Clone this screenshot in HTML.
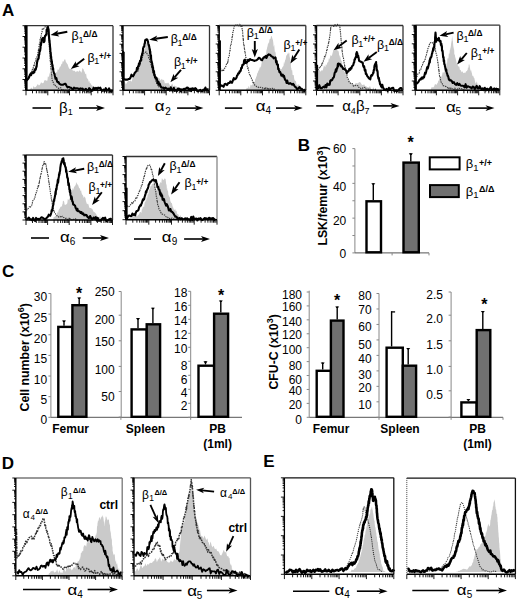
<!DOCTYPE html>
<html><head><meta charset="utf-8"><style>
html,body{margin:0;padding:0;background:#fff;}
svg{display:block;}
text{font-family:"Liberation Sans", sans-serif;fill:#000;}
</style></head><body>
<svg width="520" height="602" viewBox="0 0 520 602">
<rect width="520" height="602" fill="#fff"/>
<text x="2" y="16" font-size="17" font-weight="bold">A</text>
<text x="297.8" y="151" font-size="17" font-weight="bold">B</text>
<text x="2" y="277.3" font-size="17" font-weight="bold">C</text>
<text x="1.8" y="468.8" font-size="17" font-weight="bold">D</text>
<text x="263.2" y="466.8" font-size="17" font-weight="bold">E</text>
<polygon points="29.31,90.5 29.3,90.1 30.4,88.8 31.4,87.5 32.5,89.2 33.6,86.1 34.6,87.5 35.7,87.1 36.7,85.8 37.8,83.9 38.9,85.4 39.9,84.8 41.1,82.2 42.3,83.3 43.5,83.0 44.3,80.5 45.2,79.9 46.1,80.7 47.0,80.4 47.4,80.8 47.8,76.7 48.1,76.1 48.5,76.9 48.9,77.3 49.3,74.7 49.7,73.3 50.2,72.0 50.8,73.6 51.4,70.7 51.9,69.8 52.3,74.4 52.8,73.0 53.2,75.1 54.1,72.9 55.0,72.2 55.8,73.3 56.4,71.6 57.0,72.9 57.6,69.3 58.2,70.1 58.8,69.5 59.4,68.0 60.0,66.6 60.7,66.4 61.4,63.4 62.0,64.5 62.6,61.5 63.1,61.0 63.6,62.1 64.2,59.9 64.7,59.2 65.3,59.5 65.9,61.9 66.5,62.7 67.1,63.7 67.6,64.2 68.2,66.2 69.1,68.4 70.0,68.9 70.9,68.9 71.8,68.3 72.7,70.4 73.5,70.7 74.7,70.8 75.9,72.3 77.1,70.7 78.3,72.0 79.4,70.3 80.6,71.5 81.5,72.8 82.4,68.1 83.3,68.9 83.7,69.6 84.2,72.2 84.6,70.7 85.0,73.3 85.6,74.3 86.1,73.4 86.6,77.2 87.2,78.7 87.7,78.6 88.2,79.8 88.8,82.0 89.3,80.5 89.8,83.0 90.3,83.0 91.0,84.3 91.7,85.2 92.3,85.5 93.0,86.6 93.9,88.7 94.8,89.9 95.7,88.5 96.5,89.2 97.7,90.2 98.9,87.9 100.1,90.1 100.08,90.5" fill="#cacaca"/>
<polyline points="26.7,78.6 27.3,78.3 28.0,77.2 28.6,77.2 29.3,75.1 29.9,75.0 30.5,72.7 31.1,72.1 31.7,72.0 32.3,69.4 32.8,69.8 33.1,68.7 33.4,66.9 33.7,65.8 34.0,64.7 34.3,65.6 34.6,62.9 34.9,62.2 35.2,61.6 35.5,60.9 35.8,60.9 36.1,57.9 36.4,57.8 36.7,57.1 37.0,57.0 37.3,55.9 37.6,55.0 37.9,52.5 38.2,52.1 38.3,50.9 38.5,49.7 38.7,50.1 38.8,49.3 39.0,46.2 39.1,45.3 39.3,44.4 39.5,43.4 39.6,43.1 39.8,42.4 40.0,40.5 40.1,38.8 40.3,38.9 40.5,37.8 40.6,37.3 40.8,36.2 41.1,36.3 41.3,34.6 41.6,33.2 41.8,32.4 42.1,31.6 42.3,28.9 42.6,29.1 43.5,29.2 44.3,27.3 46.1,26.4 47.0,27.3 47.3,29.2 47.6,30.6 47.9,30.8 48.0,32.7 48.1,32.8 48.2,33.9 48.3,34.2 48.4,36.7 48.5,36.3 48.7,37.5 48.8,39.7 48.8,40.0 48.9,40.9 49.0,42.4 49.1,42.7 49.1,43.6 49.2,45.0 49.3,45.9 49.4,47.6 49.4,47.7 49.5,51.0 49.6,51.3 49.7,52.1 49.7,52.2 49.8,53.5 49.9,54.8 49.9,55.9 50.0,56.3 50.1,59.2 50.2,60.6 50.2,60.2 50.3,61.3 50.4,61.3 50.5,62.4 50.5,64.5 50.6,65.2 50.8,66.1 50.9,68.6 51.0,68.0 51.1,68.8 51.2,72.3 51.3,72.3 51.4,73.3 51.6,73.4 51.7,75.4 51.8,75.1 51.9,77.4 52.1,79.6 52.2,80.3 52.3,80.4 52.8,82.0 53.2,82.0 53.6,83.4 54.1,84.8 55.0,84.6 55.8,86.8 56.7,86.9 57.6,87.5 58.7,88.5 59.7,87.7 60.8,87.8 61.9,89.7 62.9,89.2 63.9,90.6 64.9,90.4 66.0,90.4 67.0,90.6 68.0,90.5 69.0,89.3 70.0,90.1" fill="none" stroke="#3a3a3a" stroke-width="1.1" stroke-linejoin="round" opacity="1" stroke-dasharray="1.4,0.9"/>
<polyline points="26.7,80.4 27.5,79.6 28.4,78.6 29.1,77.2 29.8,75.0 30.4,74.1 31.1,75.1 31.7,73.3 32.4,72.3 33.1,73.2 33.7,71.5 34.3,72.3 34.8,69.2 35.3,70.1 35.9,69.2 36.4,66.2 36.6,67.0 36.9,63.7 37.1,62.1 37.4,61.1 37.6,60.0 37.9,59.0 38.2,59.2 38.4,58.7 38.5,58.8 38.7,57.6 38.9,55.1 39.1,54.9 39.3,54.5 39.5,50.6 39.7,51.9 39.9,50.3 40.1,50.9 40.3,49.3 40.5,48.1 40.6,46.0 40.8,43.7 41.0,45.1 41.2,42.2 41.3,43.0 41.5,42.6 41.7,39.7 42.4,38.4 43.1,37.9 43.5,38.7 43.9,42.1 44.3,41.5 44.5,41.3 44.7,38.0 44.9,36.8 45.1,35.8 45.2,36.2 46.1,34.4 46.3,34.9 46.5,33.5 46.6,29.8 46.8,31.4 47.0,29.1 47.4,29.7 47.9,26.4 48.0,28.1 48.2,27.9 48.3,29.7 48.5,29.1 48.6,29.6 48.8,32.6 48.9,35.6 48.9,35.3 49.0,35.9 49.1,38.6 49.2,37.7 49.3,40.5 49.4,41.4 49.5,40.0 49.6,41.2 49.7,43.2 49.8,43.5 49.9,44.4 50.0,46.9 50.1,46.7 50.2,48.4 50.3,48.4 50.4,52.6 50.5,52.1 50.7,52.5 50.8,53.9 50.9,55.4 51.0,57.7 51.2,56.8 51.3,59.8 51.4,59.2 51.6,60.2 51.7,61.3 51.8,62.3 51.9,61.3 52.1,64.0 52.2,64.0 52.3,66.2 52.6,65.3 52.8,69.5 53.1,68.0 53.3,70.2 53.6,72.2 53.8,72.5 54.1,73.3 54.4,73.7 54.8,75.5 55.1,76.7 55.5,78.7 55.8,78.6 56.4,78.2 57.0,81.2 57.6,82.2 58.5,82.0 59.4,83.9 61.2,84.8 62.9,84.8 64.7,83.9 65.6,83.9 66.5,85.7 67.6,87.4 68.8,86.9 70.0,87.5 71.0,87.8 72.0,88.8 73.0,89.5 74.0,87.7 75.1,88.5 76.1,88.2 77.1,88.3 78.2,88.5 79.3,89.3 80.4,88.4 81.5,88.7 82.6,88.6 83.7,90.5 84.8,89.6 85.9,88.9 87.0,90.4 88.1,90.7 89.2,88.1 90.3,89.3 91.5,90.9 92.6,90.5 93.7,87.7 94.8,89.2 95.9,87.8 97.0,89.1 98.1,87.7 99.2,88.4 100.3,87.7 101.4,90.2 102.5,90.7 103.6,89.6 104.7,91.2 105.8,88.2 106.9,90.5 108.0,90.3 109.1,88.3 110.3,91.3 111.4,91.6 112.5,89.8" fill="none" stroke="#000" stroke-width="2.1" stroke-linejoin="round" opacity="1"/>
<polygon points="123.54,90.5 123.5,83.0 124.7,81.5 125.9,84.4 127.1,82.2 128.3,81.1 129.4,80.9 130.6,80.4 131.3,81.8 132.0,80.4 132.7,76.8 133.4,77.3 134.2,76.8 134.7,75.9 135.2,74.1 135.7,72.5 136.2,72.0 136.7,72.8 137.2,68.7 137.7,69.8 138.1,69.0 138.5,67.5 138.8,64.6 139.2,65.0 139.6,65.3 140.0,63.8 140.3,62.7 140.7,59.7 141.1,62.7 141.4,60.8 141.8,60.5 142.1,57.4 142.6,54.5 143.0,54.1 143.4,52.0 143.9,53.0 144.1,53.2 144.3,50.0 144.5,48.3 144.8,48.6 145.0,49.8 145.2,48.4 145.4,44.9 145.7,45.0 145.9,42.3 146.2,44.5 146.5,41.5 147.4,43.2 147.8,44.6 148.1,46.2 148.5,44.6 148.8,45.5 149.2,48.5 149.4,50.4 149.6,50.2 149.8,49.6 150.0,54.4 150.2,54.0 150.4,55.8 150.6,53.6 150.8,58.0 151.0,57.4 151.2,56.5 151.4,60.9 151.6,60.1 151.7,60.6 151.9,62.5 152.1,65.2 152.3,63.2 152.5,63.6 152.7,66.2 153.0,67.4 153.2,67.1 153.5,67.5 153.7,68.8 154.0,69.3 154.2,71.0 154.5,73.3 155.0,73.4 155.6,74.2 156.1,77.1 156.6,75.9 157.2,77.7 158.0,78.4 158.9,77.6 159.8,79.0 160.7,80.4 161.8,78.8 162.8,80.3 163.9,79.8 164.9,83.5 166.0,83.0 167.1,83.6 168.1,82.4 169.2,84.0 170.2,86.4 171.3,84.8 172.4,83.4 173.4,86.9 174.5,85.6 175.6,86.2 176.6,86.6 177.7,88.4 178.7,86.8 179.8,87.7 180.9,88.8 181.9,88.3 183.0,90.5 184.0,88.2 185.1,90.5 186.2,90.2 187.2,89.6 187.23,90.5" fill="#cacaca"/>
<polyline points="137.7,71.5 138.0,70.9 138.3,69.4 138.7,68.2 139.0,66.5 139.3,65.8 139.6,64.6 139.9,65.4 140.3,63.2 140.6,62.0 140.9,60.8 141.2,60.9 141.6,60.8 141.9,59.9 142.2,58.4 142.6,56.4 142.9,55.3 143.2,54.4 143.6,53.9 143.9,53.0 145.7,52.1 146.3,52.1 147.0,53.7 147.6,54.1 148.3,55.6 148.6,57.8 148.9,58.8 149.2,58.7 149.5,58.9 149.8,61.7 150.1,61.0 150.4,62.1 150.7,62.2 151.0,64.5 151.2,65.2 151.5,66.5 151.8,67.7 152.0,67.9 152.3,69.8 152.6,69.5 152.8,71.3 153.1,71.9 153.4,73.8 153.6,75.1 154.0,74.9 154.4,75.9 154.8,77.6 155.1,78.4 155.5,80.4 155.9,81.2 156.3,82.2 156.8,83.7 157.3,84.3 157.9,85.4 158.4,86.7 158.9,86.6 159.8,86.9 160.7,87.3 161.6,89.6 162.5,88.9" fill="none" stroke="#3a3a3a" stroke-width="1.1" stroke-linejoin="round" opacity="1" stroke-dasharray="1.4,0.9"/>
<polyline points="123.2,52.1 123.2,51.7 123.2,55.0 123.2,55.7 123.2,54.3 123.2,58.5 123.2,59.8 123.2,59.7 123.2,61.2 123.2,62.5 123.2,60.8 123.2,63.4 123.2,64.3 123.2,66.7 123.2,67.6 123.2,68.7 123.2,68.7 123.2,71.0 123.2,71.2 123.2,72.2 123.2,71.4 123.2,71.6 123.2,73.1 123.2,75.0 123.2,75.0 123.2,78.9 123.2,78.6 124.2,79.1 125.2,79.7 126.2,79.5 127.5,79.7 128.8,79.0 129.7,78.9 130.6,77.4 131.5,74.7 132.4,76.0 133.1,76.3 133.8,75.2 134.5,73.3 135.2,72.6 135.9,71.5 136.5,71.1 137.0,67.7 137.5,69.3 138.0,66.3 138.6,66.2 138.9,63.5 139.3,63.2 139.6,64.0 140.0,60.8 140.3,60.9 140.6,60.9 140.9,60.8 141.1,57.9 141.4,56.4 141.6,55.8 141.9,55.6 142.1,53.8 142.4,53.9 142.6,52.3 142.9,51.4 143.1,48.1 143.4,47.4 143.6,46.8 143.9,46.8 144.2,46.7 144.5,43.9 144.8,43.9 145.1,40.7 145.4,39.9 145.7,40.6 146.5,39.2 147.2,39.4 148.0,41.5 148.2,43.2 148.5,44.4 148.7,45.3 148.9,44.9 149.2,46.8 149.4,47.8 149.5,48.7 149.7,49.7 149.9,49.3 150.1,53.4 150.3,51.6 150.4,53.8 150.6,56.9 150.8,57.8 151.0,55.2 151.1,58.1 151.3,60.7 151.5,62.4 151.7,61.4 151.8,62.7 152.0,62.8 152.2,63.5 152.4,67.4 152.6,65.5 152.8,67.9 153.0,67.2 153.2,69.7 153.4,72.4 153.6,71.5 154.0,71.1 154.3,74.9 154.7,74.8 155.0,77.3 155.4,76.8 156.0,78.8 156.6,78.1 157.2,80.4 157.6,83.1 158.0,82.5 158.5,81.8 158.9,84.8 159.8,83.7 160.7,86.5 161.6,87.5 162.5,87.7 163.3,87.6 164.2,88.9 165.4,87.6 166.6,88.5 167.8,89.2 168.8,88.5 169.8,90.6 170.8,87.3 171.8,90.3 172.8,90.7 173.8,87.8 174.8,91.0 175.9,90.2 176.9,91.0 177.9,88.5 178.9,88.9 179.9,89.0 180.9,91.4 181.9,89.4 182.9,89.8 184.0,88.9 185.0,89.1 186.0,88.5 187.0,87.6 188.0,87.8 189.1,90.7 190.1,88.6 191.1,91.2 192.1,88.4 193.2,88.5 194.2,89.5 195.2,88.2 196.2,88.9 197.2,91.2 198.3,90.9 199.3,90.7 200.3,89.9 201.3,91.1 202.3,91.2 203.4,89.6 204.4,90.3 205.4,87.6 206.4,90.3 207.4,89.2 208.5,89.4" fill="none" stroke="#000" stroke-width="2.1" stroke-linejoin="round" opacity="1"/>
<polygon points="243.54,90.5 243.5,89.8 244.6,90.5 245.8,89.7 246.9,87.8 248.0,88.3 248.8,85.7 249.7,88.8 250.6,84.6 251.5,85.4 252.4,84.8 252.9,83.2 253.4,82.2 254.0,83.2 254.5,83.4 255.0,80.4 255.4,78.3 255.8,79.1 256.2,76.5 256.6,76.6 256.9,74.9 257.3,72.9 257.7,73.3 258.1,70.8 258.5,70.0 258.8,72.1 259.2,69.3 259.6,67.0 260.0,69.0 260.3,66.2 260.9,67.4 261.4,63.9 261.9,61.5 262.5,60.6 263.0,60.9 263.4,58.1 263.8,58.2 264.1,56.1 264.5,55.7 264.9,54.8 265.3,55.2 265.7,53.8 265.9,54.5 266.2,52.9 266.4,50.4 266.7,49.4 266.9,48.9 267.2,47.2 267.4,46.8 267.8,45.0 268.1,42.7 268.5,42.6 268.8,44.6 269.2,41.5 269.5,38.8 269.9,39.4 270.3,38.8 270.6,38.8 271.0,36.2 271.6,36.1 272.1,37.5 272.7,39.7 272.9,39.6 273.1,41.2 273.3,42.4 273.5,45.6 273.7,46.1 273.9,47.2 274.1,44.5 274.3,45.5 274.5,48.5 274.7,50.4 274.9,52.2 275.1,51.4 275.3,52.9 275.5,51.3 275.7,54.0 275.9,57.3 276.1,57.8 276.3,57.4 276.5,59.9 276.7,61.4 276.9,59.2 277.1,59.6 277.3,60.8 277.5,63.4 277.6,65.1 277.8,67.2 278.0,66.2 278.9,68.1 279.8,68.6 280.7,68.9 281.6,69.2 282.5,66.9 283.3,66.2 283.6,65.4 283.9,62.1 284.2,64.4 284.5,60.9 284.8,62.9 285.1,60.0 285.6,59.6 286.0,57.0 286.4,55.1 286.9,55.6 287.5,53.3 288.1,53.9 288.7,52.1 288.9,54.0 289.2,52.5 289.4,53.4 289.6,56.4 289.9,57.4 290.0,58.8 290.2,59.0 290.3,59.4 290.5,62.1 290.6,60.5 290.7,62.9 290.9,64.6 291.0,67.9 291.2,67.6 291.3,68.0 291.6,70.7 291.8,69.9 292.1,69.9 292.3,70.9 292.6,75.1 292.8,75.0 293.1,75.1 293.4,75.3 293.8,75.1 294.1,78.3 294.5,80.1 294.8,80.4 295.4,80.9 295.9,81.1 296.4,83.8 297.0,85.8 297.5,84.8 298.4,84.5 299.3,84.5 300.2,87.5 301.0,87.3 301.9,88.3 302.8,90.0 303.7,89.8 303.69,90.5" fill="#cacaca"/>
<polyline points="219.7,66.2 220.2,66.5 220.7,69.1 221.2,70.0 221.8,70.5 222.3,71.5 223.0,69.9 223.6,71.0 224.3,68.4 225.0,68.0 225.5,67.8 226.0,65.2 226.6,64.1 227.1,64.4 227.6,62.7 227.8,61.2 228.0,61.9 228.2,59.7 228.4,57.9 228.6,57.1 228.8,56.6 229.0,56.2 229.2,56.0 229.4,53.8 229.6,51.9 229.7,51.4 229.9,49.9 230.1,50.8 230.3,47.6 230.4,46.3 230.6,45.3 230.8,45.1 231.0,45.3 231.2,43.2 231.3,43.2 231.5,41.7 231.7,41.3 231.9,40.1 232.0,37.5 232.2,36.0 232.4,36.9 232.6,35.4 232.7,32.5 232.9,32.6 233.2,32.0 233.4,30.3 233.7,29.3 233.9,28.1 234.2,26.7 234.4,25.3 234.7,25.5 235.6,25.2 236.6,24.6 237.6,24.8 238.7,26.4 239.7,24.2 240.7,26.4 241.8,25.2 241.9,25.5 242.0,26.9 242.1,29.2 242.3,30.3 242.4,30.3 242.5,30.4 242.7,32.6 242.7,33.6 242.8,34.4 242.9,36.9 243.0,36.1 243.1,37.6 243.2,40.0 243.3,38.8 243.4,40.9 243.5,43.0 243.5,43.2 243.7,45.0 243.9,44.2 244.1,45.2 244.2,46.3 244.4,49.6 244.6,49.0 244.8,51.3 245.0,52.8 245.1,52.4 245.3,53.8 245.5,54.3 245.7,57.2 245.8,57.3 246.0,57.5 246.2,59.7 246.4,59.7 246.5,60.7 246.7,61.0 246.9,64.1 247.1,64.5 247.3,66.6 247.6,66.8 247.8,68.6 248.1,67.3 248.3,68.8 248.6,70.5 248.8,71.5 249.2,73.8 249.6,74.8 249.9,74.4 250.3,75.1 250.6,76.8 251.2,77.8 251.8,79.2 252.4,80.4 253.0,82.7 253.6,81.9 254.2,83.9 255.0,85.4 255.9,85.9 256.8,86.8 257.7,86.6 258.8,87.6 259.8,87.6 260.9,87.2 261.9,87.5 263.0,88.3 264.0,88.1 265.0,89.3 266.0,87.6 267.0,88.1 268.1,89.6 269.1,88.4 270.1,89.2 271.2,88.2 272.3,88.2 273.4,89.6 274.5,89.0 275.6,90.8 276.7,90.6 277.8,91.0 278.9,89.8" fill="none" stroke="#3a3a3a" stroke-width="1.1" stroke-linejoin="round" opacity="1" stroke-dasharray="1.4,0.9"/>
<polyline points="219.7,40.6 219.7,40.6 219.7,40.9 219.7,42.0 219.7,44.6 219.7,46.5 219.7,46.4 219.7,46.6 219.7,48.3 219.7,50.1 219.7,51.4 219.7,52.7 219.7,54.1 219.7,54.3 219.7,53.2 219.7,57.1 219.7,55.9 219.7,58.0 219.7,58.2 219.7,60.7 219.7,59.5 219.7,60.7 219.7,61.7 219.7,62.4 219.7,66.3 219.7,66.1 219.7,66.1 219.7,67.4 219.7,70.8 219.7,69.8 219.7,69.7 219.7,73.1 219.7,73.4 219.7,75.8 219.7,73.3 219.7,75.8 219.7,78.1 219.7,79.2 219.7,80.5 219.7,78.1 219.7,80.1 219.7,80.4 219.7,81.7 219.7,83.9 220.5,86.4 221.4,85.4 222.3,85.7 223.5,86.8 224.7,84.0 225.8,83.9 227.0,85.1 228.2,83.1 229.4,83.0 230.3,81.4 231.2,82.8 232.0,82.8 232.9,80.4 233.8,78.1 234.7,79.4 235.6,78.9 236.5,77.7 237.0,75.7 237.5,75.4 238.1,73.6 238.6,73.0 239.1,73.3 239.6,71.3 240.2,71.6 240.7,70.7 241.2,67.9 241.8,68.0 242.4,64.9 242.9,65.0 243.5,64.5 243.8,64.1 244.0,61.0 244.2,60.4 244.4,60.0 245.0,59.7 245.6,63.0 246.2,62.7 247.1,62.3 248.0,59.8 248.8,60.9 250.0,59.0 251.2,59.9 252.4,60.0 254.2,60.9 255.3,60.5 256.5,60.3 257.7,59.2 258.9,57.8 260.1,58.4 261.2,60.0 262.1,60.2 263.0,58.4 263.9,57.2 264.8,57.4 265.7,56.0 266.5,58.0 267.4,55.6 268.8,54.4 270.1,54.7 271.0,55.9 271.8,56.5 272.7,56.8 273.6,58.3 275.4,57.4 275.6,58.1 275.9,60.9 276.1,62.4 276.4,60.9 276.7,61.2 276.9,64.4 277.2,64.5 277.5,64.3 277.9,64.6 278.2,69.3 278.6,68.4 278.9,69.8 279.5,72.2 280.1,71.8 280.7,73.3 281.4,75.7 282.0,74.9 282.7,74.6 283.3,76.8 284.0,75.8 284.7,78.8 285.3,80.1 286.0,80.4 286.6,82.9 287.2,80.5 287.8,83.0 289.0,83.8 290.1,83.1 291.3,83.9 292.2,84.6 293.1,83.8 294.0,85.0 294.8,86.6 296.0,87.3 297.2,89.5 298.4,88.3 299.6,87.0 300.7,88.7 301.9,88.9 303.1,90.2 304.3,91.0 305.5,89.2" fill="none" stroke="#000" stroke-width="2.1" stroke-linejoin="round" opacity="1"/>
<polygon points="317.54,90.5 317.5,73.3 318.1,70.8 318.7,69.3 319.3,69.8 320.6,71.7 322.0,69.8 322.6,71.0 323.3,67.9 324.0,65.2 324.6,66.2 325.3,67.2 325.9,64.0 326.6,65.4 327.3,62.7 327.8,62.2 328.3,62.0 328.9,58.0 329.4,59.7 329.9,57.4 330.5,55.3 331.0,55.2 331.5,56.3 332.0,55.3 332.6,53.0 333.2,50.7 333.8,50.0 334.3,50.3 335.2,49.0 336.1,48.5 336.7,49.5 337.3,49.8 337.9,51.2 338.3,50.6 338.8,52.3 339.2,55.5 339.7,55.6 340.0,58.4 340.4,55.7 340.7,59.1 341.1,61.0 341.4,60.9 341.7,59.9 341.9,64.4 342.2,62.3 342.4,65.4 342.7,66.2 342.9,67.5 343.2,68.0 343.6,68.2 344.0,69.7 344.3,71.4 344.7,71.7 345.1,73.8 345.5,73.8 345.8,75.1 346.4,75.9 346.9,75.1 347.4,78.8 348.0,79.3 348.5,80.4 349.4,80.1 350.3,83.3 351.2,83.0 352.3,84.9 353.5,84.0 354.7,84.8 355.9,82.8 357.1,83.5 358.2,83.0 359.4,81.9 360.6,82.6 361.8,84.8 363.0,85.1 364.1,84.2 365.3,86.6 366.5,86.6 367.7,87.2 368.8,87.5 370.0,85.9 371.2,89.0 372.4,88.9 373.6,87.3 374.7,90.5 375.9,89.8 375.92,90.5" fill="#cacaca"/>
<polyline points="317.5,69.8 318.2,69.8 319.0,68.4 319.7,66.5 320.4,67.0 321.1,66.2 321.5,64.9 321.8,65.4 322.2,62.3 322.6,63.1 323.0,62.5 323.4,60.8 323.7,59.2 324.1,59.0 324.5,56.3 324.9,57.4 325.2,55.1 325.6,55.3 326.0,54.2 326.4,52.1 326.6,50.2 326.9,50.8 327.1,50.2 327.4,46.9 327.6,46.6 327.9,46.7 328.2,45.0 328.4,43.1 328.5,44.1 328.7,41.5 328.9,41.9 329.1,39.2 329.3,39.1 329.5,39.2 329.7,36.4 329.9,36.2 330.0,34.4 330.1,34.0 330.3,32.4 330.4,30.5 330.5,29.8 330.6,28.6 330.7,29.5 330.8,27.3 331.7,25.5 332.8,26.0 334.0,26.5 335.1,24.5 336.2,26.1 337.4,24.3 338.5,25.3 339.7,25.2 339.8,26.6 339.9,26.9 340.0,29.3 340.2,29.6 340.3,30.7 340.4,32.5 340.5,32.6 340.6,32.6 340.7,36.0 340.8,36.1 340.9,36.6 341.0,38.7 341.1,38.4 341.2,41.3 341.2,41.3 341.3,41.8 341.4,43.2 341.5,45.0 341.6,45.3 341.8,45.7 341.9,48.3 342.0,47.6 342.1,50.7 342.2,50.3 342.3,52.1 342.5,53.5 342.7,55.5 342.8,55.5 343.0,56.7 343.2,56.9 343.4,57.2 343.5,58.3 343.7,59.7 343.9,61.9 344.1,62.7 344.3,63.5 344.5,64.7 344.7,66.7 344.9,65.7 345.1,66.9 345.3,69.0 345.5,68.3 345.7,69.3 345.8,71.5 346.1,72.2 346.4,72.5 346.6,74.2 346.9,74.9 347.1,76.8 347.4,77.8 347.6,78.6 348.2,79.0 348.8,81.3 349.4,82.2 350.3,83.0 351.2,83.9 352.3,83.6 353.5,86.2 354.7,85.7 355.8,85.4 356.8,85.5 357.9,85.7 358.9,87.5 360.0,87.5 361.0,88.6 362.0,88.6 363.0,87.8 364.0,87.7 365.1,87.2 366.1,89.1 367.1,88.9 368.2,89.2 369.3,88.7 370.4,89.6 371.5,89.2 372.6,90.6 373.7,90.1 374.8,89.0 375.9,89.8" fill="none" stroke="#3a3a3a" stroke-width="1.1" stroke-linejoin="round" opacity="1" stroke-dasharray="1.4,0.9"/>
<polyline points="317.5,85.7 318.4,88.0 319.3,85.2 320.2,87.8 321.1,88.3 322.3,87.7 323.4,86.7 324.6,87.5 325.5,85.0 326.4,87.3 327.3,83.5 328.2,84.8 328.9,84.1 329.6,84.8 330.3,80.7 331.0,80.1 331.7,80.4 332.2,79.8 332.8,78.3 333.3,77.8 333.8,77.4 334.3,75.1 334.7,72.8 335.1,72.3 335.5,71.2 335.9,69.2 336.2,71.6 336.6,70.1 337.0,68.0 337.4,67.8 337.9,63.8 338.3,66.1 338.8,63.6 340.5,64.5 341.1,66.3 341.7,66.1 342.3,67.1 343.2,69.0 344.1,68.7 345.0,69.8 345.6,69.9 346.1,70.6 346.7,73.3 347.6,71.4 348.5,71.5 349.4,68.8 350.3,69.8 350.9,67.9 351.4,68.4 352.0,66.2 352.6,65.8 353.2,65.3 353.8,62.7 354.2,62.5 354.5,59.6 354.9,59.7 355.2,58.2 355.6,57.4 355.8,57.5 356.1,55.4 356.3,53.3 356.6,53.7 356.8,52.1 357.1,55.0 357.3,53.2 357.6,56.9 357.9,56.5 358.2,55.7 358.5,57.8 358.8,58.8 359.1,60.9 360.9,61.8 362.7,62.7 363.0,64.7 363.4,66.6 363.7,66.9 364.1,66.2 364.4,68.0 364.8,70.6 365.1,69.4 365.5,70.1 365.8,73.9 366.2,73.3 366.8,75.0 367.4,76.4 368.0,76.8 368.8,78.4 369.7,78.6 370.3,79.4 370.9,76.1 371.5,75.1 372.1,75.6 372.7,74.1 373.3,72.4 373.5,72.9 373.7,70.2 373.9,70.3 374.2,68.7 374.4,66.7 374.6,65.3 374.8,65.9 375.0,64.5 375.9,62.7 376.1,62.0 376.2,66.4 376.3,64.3 376.4,64.8 376.6,66.2 376.7,70.5 376.8,69.8 377.0,70.1 377.2,70.3 377.4,70.8 377.6,71.9 377.8,75.5 378.0,76.2 378.2,77.4 378.4,78.6 378.6,78.6 378.9,77.9 379.3,81.1 379.6,81.3 380.0,84.1 380.3,83.9 381.0,86.1 381.7,87.3 382.3,84.8 383.0,87.5 384.2,89.4 385.4,90.1 386.5,88.9 387.7,90.9 388.9,87.8 390.1,89.6 391.1,88.4 392.1,88.1 393.2,87.8 394.2,91.0 395.2,90.9 396.3,90.2 397.3,91.0 398.3,90.2 399.4,88.9 400.4,88.1 401.4,88.1 402.5,89.8" fill="none" stroke="#000" stroke-width="2.1" stroke-linejoin="round" opacity="1"/>
<polygon points="429.69,90.5 429.7,89.8 430.6,90.3 431.5,87.3 432.3,87.2 433.2,87.5 434.1,86.5 435.0,84.0 435.9,84.4 436.8,84.8 437.2,82.8 437.7,83.7 438.1,81.1 438.5,79.9 439.0,81.7 439.4,78.6 440.1,77.7 440.8,78.4 441.4,76.5 442.1,75.1 442.6,72.1 443.1,72.9 443.7,72.1 444.2,72.7 444.7,70.7 445.0,68.9 445.3,69.5 445.6,67.7 445.9,65.3 446.2,67.1 446.5,64.5 446.8,61.7 447.0,63.8 447.3,60.0 447.5,58.2 447.8,58.1 448.0,59.6 448.3,57.4 448.5,58.5 448.8,53.2 449.0,54.3 449.3,53.3 449.5,53.6 449.8,49.9 450.0,50.3 450.2,49.3 450.4,47.6 450.6,48.7 450.7,45.2 450.9,47.2 451.1,43.3 451.3,43.2 451.4,41.0 451.6,42.1 451.7,40.2 451.9,37.5 452.0,38.8 452.2,35.3 452.3,36.2 452.5,38.5 452.6,39.2 452.7,40.7 452.8,41.1 452.9,41.0 453.0,42.4 453.1,43.4 453.2,45.0 453.4,47.8 453.5,45.4 453.7,50.0 453.8,47.3 454.0,49.2 454.2,50.6 454.3,54.5 454.5,53.8 454.7,54.9 455.0,55.3 455.2,58.6 455.5,56.7 455.7,58.7 456.0,60.1 456.2,60.9 456.6,63.1 456.9,64.2 457.3,64.8 457.6,64.5 458.0,66.2 458.7,66.4 459.3,66.5 460.0,70.4 460.7,69.8 461.3,71.4 462.0,72.6 462.6,71.0 463.3,73.3 464.2,72.5 465.1,73.3 466.0,71.5 466.8,71.0 467.7,69.8 468.0,67.1 468.2,67.5 468.5,68.3 468.7,64.4 469.0,64.5 469.3,64.3 469.7,65.9 470.0,68.0 470.3,69.9 470.6,71.5 470.9,69.5 471.2,70.5 471.5,71.9 471.9,73.3 472.2,75.1 472.7,76.2 473.2,75.7 473.7,77.5 474.3,78.0 474.8,80.4 475.5,83.4 476.1,83.2 476.8,81.3 477.5,83.9 478.2,86.7 478.9,83.6 479.6,85.5 480.3,88.9 481.0,87.5 482.1,89.2 483.1,89.4 484.2,88.6 485.2,88.0 486.3,89.8 486.31,90.5" fill="#cacaca"/>
<polyline points="416.4,76.8 417.1,76.3 417.8,74.1 418.4,73.4 419.1,73.3 419.5,72.0 419.8,70.1 420.2,70.0 420.6,70.0 421.0,68.8 421.4,67.2 421.7,66.2 422.3,65.5 422.8,64.0 423.3,62.1 423.9,62.3 424.4,60.9 424.7,59.6 425.1,59.4 425.4,58.8 425.8,56.5 426.2,55.6 426.4,54.8 426.7,54.2 426.9,52.4 427.2,50.9 427.4,51.1 427.7,50.5 427.9,48.5 428.3,48.2 428.6,46.9 429.0,46.3 429.3,44.8 429.7,43.2 431.5,42.3 433.2,43.2 433.6,44.7 433.9,45.2 434.3,45.9 434.6,47.8 435.0,48.5 435.3,48.5 435.5,50.4 435.8,52.3 436.0,53.1 436.3,53.9 436.5,54.0 436.8,55.6 436.9,56.5 437.1,57.7 437.3,59.2 437.5,59.8 437.7,61.6 437.8,63.4 438.0,62.5 438.2,64.5 438.3,65.9 438.4,67.3 438.6,67.4 438.7,68.7 438.8,71.0 438.9,69.6 439.1,72.0 439.2,72.1 439.3,74.7 439.4,75.1 439.7,77.2 439.9,77.2 440.2,77.1 440.4,79.3 440.7,80.2 440.9,81.7 441.2,82.2 441.9,83.1 442.5,84.3 443.2,85.7 443.8,85.7 445.0,86.3 446.2,86.6 447.4,87.5 448.4,88.9 449.5,87.3 450.6,88.8 451.6,88.3 452.7,88.9 453.8,89.6 454.8,88.0 455.9,90.4 456.9,88.8 458.0,89.2 459.0,88.2 460.0,88.8 461.0,89.2 462.0,88.3 463.1,89.4 464.1,89.5 465.1,89.8" fill="none" stroke="#3a3a3a" stroke-width="1.1" stroke-linejoin="round" opacity="1" stroke-dasharray="1.4,0.9"/>
<polyline points="415.5,83.0 416.9,83.4 418.2,82.2 419.1,80.7 420.0,79.4 420.8,79.5 421.7,77.5 422.6,78.7 423.5,76.8 424.0,77.5 424.6,74.8 425.1,72.5 425.6,73.8 426.2,71.5 426.5,70.1 426.9,68.4 427.3,67.0 427.7,68.6 428.0,67.7 428.4,66.0 428.8,64.5 429.1,63.3 429.3,62.7 429.6,60.3 429.8,62.3 430.1,58.8 430.3,59.0 430.6,57.4 431.0,57.6 431.5,56.4 431.9,53.9 432.3,53.0 432.6,51.1 432.9,51.1 433.2,48.4 433.5,50.2 433.8,47.2 434.1,46.8 434.3,47.1 434.5,43.7 434.6,43.1 434.8,41.5 435.0,41.5 435.1,40.1 435.1,38.0 435.2,36.2 435.3,37.9 435.3,35.1 435.4,33.8 435.5,32.9 435.5,32.6 435.6,33.6 435.7,34.5 435.8,36.5 435.9,37.7 436.0,37.6 436.1,41.0 436.2,41.8 436.2,41.5 436.9,38.8 437.7,39.7 438.3,40.1 438.9,37.9 439.4,40.7 439.8,41.4 440.3,41.5 440.6,41.1 440.9,44.9 441.2,45.2 441.4,43.8 441.7,46.8 441.9,45.9 442.0,50.8 442.2,50.7 442.3,50.2 442.5,50.7 442.7,52.0 442.8,53.4 443.0,55.6 443.2,57.7 443.4,57.0 443.6,57.2 443.7,61.2 443.9,61.7 444.1,60.2 444.3,64.1 444.5,63.9 444.7,64.5 445.0,66.6 445.2,67.2 445.5,69.1 445.7,69.7 446.0,70.9 446.2,69.3 446.5,71.5 446.9,73.4 447.2,73.8 447.6,75.7 447.9,75.5 448.3,76.8 448.9,79.6 449.4,79.4 450.0,80.4 450.9,80.3 451.8,81.1 452.7,83.0 453.9,82.2 455.1,84.2 456.2,84.8 457.3,83.2 458.4,85.0 459.4,83.9 460.5,85.5 461.5,85.7 462.6,85.8 463.6,86.1 464.6,87.5 465.6,84.2 466.6,87.7 467.6,86.3 468.6,86.6 469.6,87.0 470.6,87.5 471.7,88.3 472.7,86.6 473.7,86.9 474.7,89.2 475.7,87.5 476.7,85.9 477.7,88.3 478.7,88.4 479.7,86.1 480.7,88.5 481.8,89.0 482.8,88.3 483.8,90.1 484.8,87.8 485.8,90.5 486.8,88.7 487.8,88.7 488.8,90.4 489.8,88.9 490.9,87.1 492.0,89.8 493.1,89.5 494.2,88.4 495.3,90.5 496.3,88.6 497.4,89.1 498.5,89.3 499.6,89.2" fill="none" stroke="#000" stroke-width="2.1" stroke-linejoin="round" opacity="1"/>
<polygon points="52.31,220 52.3,219.8 53.0,220.0 53.7,216.9 54.4,217.0 55.1,216.2 55.8,215.7 56.4,214.9 56.9,215.0 57.4,211.6 58.0,212.9 58.5,210.4 59.2,209.1 59.8,208.6 60.5,206.7 61.2,206.8 61.5,205.8 61.9,206.9 62.2,204.4 62.6,204.0 62.9,200.9 63.3,200.7 63.7,201.0 64.2,202.0 64.6,204.4 65.0,205.1 66.5,204.2 66.9,203.7 67.3,203.2 67.8,198.9 68.2,199.8 68.8,199.6 69.4,199.1 70.0,196.2 70.6,195.3 71.2,191.9 71.8,192.7 72.2,190.8 72.6,188.4 73.0,188.1 73.5,190.3 73.9,187.4 74.4,186.8 74.8,186.0 75.3,185.5 75.7,184.9 76.2,182.1 76.8,183.5 77.4,184.4 78.0,184.7 78.6,186.5 79.1,188.0 79.7,188.3 80.2,189.8 80.6,191.3 81.1,190.3 81.5,192.7 82.1,194.6 82.7,194.9 83.3,196.2 83.8,198.3 84.3,196.2 84.9,197.5 85.4,197.7 85.9,200.7 86.5,202.7 87.0,204.2 87.5,204.0 88.0,203.6 88.6,205.1 89.2,207.4 89.9,208.1 90.6,208.0 91.2,208.6 91.9,208.4 92.6,209.5 93.2,210.9 93.9,212.2 94.8,212.2 95.7,213.6 96.5,214.8 97.4,216.3 98.3,218.5 99.2,217.5 100.1,216.1 101.0,218.9 101.8,219.2 103.6,219.8 103.62,220" fill="#cacaca"/>
<polyline points="26.7,210.4 27.5,208.3 28.4,208.6 29.3,206.7 30.2,207.7 31.1,206.0 31.5,205.1 32.0,205.0 32.4,202.7 32.8,200.6 33.3,200.5 33.7,199.8 34.1,199.0 34.5,198.9 34.9,198.0 35.2,195.7 35.6,194.5 36.0,192.7 36.4,192.7 36.7,192.1 37.0,190.0 37.3,188.8 37.6,187.5 37.9,186.5 38.2,187.3 38.4,184.8 38.7,186.0 39.0,183.8 39.2,181.8 39.4,182.8 39.6,179.9 39.8,178.7 40.0,179.5 40.2,177.3 40.4,177.6 40.6,175.2 40.8,175.0 41.0,172.8 41.2,173.7 41.4,172.6 41.6,172.0 41.8,170.7 42.0,168.0 42.2,168.5 42.4,167.7 42.6,166.2 43.0,164.9 43.5,165.1 43.9,162.2 44.3,161.7 44.8,164.0 45.2,164.5 45.7,163.8 46.1,166.2 46.3,165.9 46.5,168.5 46.7,169.9 46.9,169.0 47.1,170.6 47.3,172.6 47.5,172.2 47.7,175.0 47.9,175.0 48.0,176.0 48.2,175.9 48.3,177.8 48.5,179.3 48.6,180.0 48.8,181.7 48.9,181.3 49.1,184.0 49.2,183.9 49.4,185.7 49.5,186.7 49.7,187.4 49.8,188.2 50.0,189.2 50.2,191.3 50.4,192.8 50.5,193.4 50.7,193.9 50.9,194.3 51.1,194.7 51.2,198.2 51.4,198.0 51.6,199.6 51.8,201.0 52.0,200.7 52.1,202.5 52.3,204.6 52.5,205.2 52.7,205.7 52.8,206.0 53.0,207.4 53.2,208.6 53.6,210.7 54.1,210.5 54.5,212.4 55.0,213.0 55.8,214.2 56.7,215.8 57.6,215.7 58.8,217.1 60.0,216.3 61.2,217.5 62.2,216.3 63.3,217.2 64.3,217.8 65.4,218.4 66.5,218.3 67.5,219.3 68.5,219.6 69.5,217.5 70.5,219.7 71.5,219.8 72.5,220.1 73.5,219.2 74.6,219.5 75.6,218.8 76.6,220.4 77.6,220.3 78.6,220.1 79.6,220.8 80.6,219.8" fill="none" stroke="#3a3a3a" stroke-width="1.1" stroke-linejoin="round" opacity="1" stroke-dasharray="1.4,0.9"/>
<polyline points="26.7,219.2 27.8,218.6 28.9,217.6 30.0,219.4 31.1,219.2 32.1,220.4 33.1,217.9 34.1,220.1 35.1,220.8 36.1,217.9 37.1,219.4 38.2,218.9 39.2,219.5 40.3,218.5 41.3,217.4 42.4,217.5 43.5,218.3 44.6,219.1 45.8,218.9 47.0,217.5 47.9,216.7 48.8,214.6 49.7,215.7 50.2,215.7 50.8,214.4 51.4,212.2 51.7,210.1 51.9,210.5 52.2,210.7 52.4,209.7 52.7,207.2 52.9,206.0 53.2,205.1 53.4,204.5 53.6,201.9 53.8,200.9 54.0,199.9 54.2,201.0 54.4,198.6 54.6,198.5 54.8,196.8 55.0,196.2 55.2,195.3 55.4,192.9 55.6,191.5 55.7,194.3 55.9,190.8 56.1,188.8 56.3,189.9 56.5,189.5 56.7,187.4 56.9,185.0 57.1,185.8 57.3,183.8 57.5,183.5 57.7,180.6 57.9,179.6 58.1,182.5 58.3,181.0 58.5,178.5 58.7,177.4 58.9,176.7 59.0,174.4 59.2,175.4 59.4,172.9 59.6,174.0 59.7,172.2 59.9,171.3 60.1,170.8 60.3,167.9 60.6,165.9 60.9,164.0 61.2,163.6 61.4,162.5 61.7,161.1 62.0,161.7 62.5,158.8 62.9,159.6 63.3,158.2 63.5,160.7 63.7,160.1 63.9,163.2 64.1,164.1 64.3,163.5 64.6,162.9 65.0,166.1 65.3,166.4 65.6,167.9 65.8,167.5 66.1,171.9 66.3,170.1 66.6,172.4 66.8,173.2 67.0,174.9 67.2,177.3 67.3,177.2 67.5,177.2 67.7,178.6 67.9,178.5 68.1,182.8 68.2,182.1 68.4,185.1 68.6,183.0 68.8,183.3 69.0,185.1 69.2,186.5 69.4,189.8 69.6,189.2 69.8,191.8 70.0,192.5 70.2,190.4 70.4,194.3 70.5,195.0 70.7,195.8 70.9,196.2 71.2,199.2 71.6,196.6 71.9,198.0 72.3,201.5 72.7,201.5 73.2,204.5 73.8,204.6 74.4,205.1 75.0,205.5 75.6,207.8 76.2,208.6 76.8,210.5 77.4,208.8 78.0,211.3 78.8,211.2 79.7,211.5 80.6,213.0 81.5,212.1 82.4,214.1 83.3,213.4 84.2,215.3 85.3,214.9 86.5,215.1 87.7,217.1 88.9,218.2 90.1,216.0 91.2,218.3 92.4,219.4 93.6,217.5 94.8,218.9 95.8,217.1 96.8,220.7 97.8,217.9 98.8,220.8 99.8,220.6 100.8,220.7 101.8,219.2 102.9,217.8 104.0,219.1 105.1,217.7 106.2,221.0 107.3,220.7 108.3,219.9 109.4,219.2 110.5,218.7 111.6,219.4" fill="none" stroke="#000" stroke-width="2.1" stroke-linejoin="round" opacity="1"/>
<polygon points="126.77,219.7 126.8,218.9 128.0,219.7 129.3,218.2 130.5,218.0 131.8,218.2 133.1,215.8 134.3,217.0 135.3,215.3 136.2,214.1 137.1,216.5 138.1,215.1 139.0,214.4 140.0,211.7 140.9,212.3 141.4,213.0 141.8,209.4 142.3,209.1 142.8,207.0 143.3,206.6 143.7,206.7 144.1,207.0 144.5,203.7 144.9,201.8 145.2,202.1 145.6,201.0 146.0,199.1 146.4,200.5 146.7,195.9 147.1,198.6 147.5,195.3 147.9,192.3 148.3,194.8 148.6,192.7 149.0,189.6 149.4,189.7 149.9,188.7 150.3,186.9 150.8,185.8 151.3,185.9 152.2,183.7 153.2,184.0 154.1,184.4 155.0,185.9 155.5,189.0 156.0,190.0 156.5,190.6 156.9,189.7 157.4,187.0 157.9,186.9 158.3,188.6 158.8,185.9 159.3,183.0 159.8,185.0 160.2,182.2 160.7,182.2 161.3,183.3 161.9,178.1 162.6,179.3 163.5,180.2 164.5,178.4 164.8,178.6 165.2,178.7 165.6,179.0 166.0,182.2 166.2,184.7 166.3,184.4 166.5,184.0 166.7,186.2 166.9,189.4 167.1,187.4 167.3,189.7 167.6,191.1 167.8,190.3 168.1,191.5 168.4,195.2 168.6,196.0 168.9,194.8 169.2,197.2 169.6,196.5 169.9,197.7 170.3,201.1 170.7,201.7 171.1,202.9 171.5,202.8 172.0,203.5 172.5,206.2 172.9,206.7 173.5,208.5 174.1,209.9 174.6,209.8 175.2,209.1 175.8,211.4 176.5,210.4 177.2,214.3 177.9,213.8 178.6,215.1 179.5,217.1 180.5,215.1 181.4,218.0 182.8,219.7 184.3,218.9 184.25,219.7" fill="#cacaca"/>
<polyline points="126.8,206.7 127.7,205.8 128.7,206.6 129.6,206.2 130.5,204.8 131.3,204.0 132.0,202.0 132.8,203.6 133.6,201.7 134.3,201.0 134.9,201.0 135.6,198.5 136.2,197.4 136.8,198.1 137.4,195.9 138.1,195.3 138.4,193.5 138.8,193.1 139.1,192.8 139.5,190.3 139.8,190.7 140.2,189.6 140.6,188.8 140.9,187.8 141.2,185.8 141.5,186.3 141.8,185.5 142.2,184.6 142.5,182.1 142.8,182.1 143.1,180.2 143.4,180.1 143.7,178.4 144.0,176.2 144.3,177.2 144.5,176.3 144.8,174.1 145.1,173.0 145.3,172.0 145.6,170.8 146.0,170.0 146.4,167.7 146.7,169.2 147.1,166.4 147.5,166.1 148.4,164.8 149.4,165.2 149.9,165.1 150.4,166.4 150.9,168.0 151.2,170.0 151.6,169.2 151.9,170.5 152.2,172.7 152.5,174.4 152.7,174.2 153.0,174.9 153.3,177.5 153.5,178.4 153.7,179.6 153.9,180.5 154.0,182.1 154.2,181.5 154.4,184.6 154.5,185.2 154.7,184.5 154.9,185.8 155.0,187.8 155.2,188.8 155.4,189.9 155.5,190.4 155.7,191.0 155.9,192.8 156.0,193.1 156.2,195.4 156.4,197.1 156.5,197.2 156.7,197.4 156.9,199.6 157.1,201.1 157.3,200.7 157.5,203.5 157.7,204.8 157.9,204.8 158.2,205.6 158.6,206.8 159.0,209.0 159.4,209.4 159.8,210.4 160.5,211.1 161.2,213.5 161.9,214.0 162.6,214.2 163.5,214.5 164.5,214.9 165.4,215.9 166.3,217.0 167.5,217.0 168.6,218.6 169.7,218.4 170.9,218.8 172.0,218.0 173.1,218.9 174.2,219.1 175.2,217.2 176.3,218.5 177.4,219.8 178.5,219.9 179.5,218.9" fill="none" stroke="#3a3a3a" stroke-width="1.1" stroke-linejoin="round" opacity="1" stroke-dasharray="1.4,0.9"/>
<polyline points="126.0,187.8 126.0,187.8 126.0,189.5 126.0,191.4 126.0,191.3 126.0,193.0 126.0,192.1 126.0,194.6 126.0,195.9 126.0,195.0 126.0,196.4 126.0,200.8 126.0,201.0 126.0,202.7 126.0,202.4 126.0,204.2 126.0,205.5 126.0,206.5 126.0,204.1 126.0,207.5 126.0,207.0 126.0,209.7 126.0,209.1 126.0,211.1 126.0,213.7 126.0,213.5 126.0,213.0 126.0,215.1 126.0,215.7 126.0,217.0 127.1,218.6 128.3,215.7 129.4,215.5 130.5,216.1 131.5,216.2 132.4,213.6 133.4,215.0 134.3,214.2 135.1,215.3 135.8,212.7 136.6,211.0 137.3,211.0 138.1,210.4 138.6,209.6 139.2,207.1 139.8,206.1 140.3,205.2 140.9,205.7 141.3,203.9 141.7,203.5 142.1,202.0 142.5,200.9 142.9,199.4 143.3,200.2 143.7,199.1 144.1,199.3 144.5,197.3 144.9,196.0 145.2,195.2 145.6,193.5 146.0,191.3 146.4,192.4 146.7,190.5 147.1,189.9 147.5,188.8 147.9,188.3 148.3,186.7 148.6,185.2 149.0,184.0 149.4,184.0 150.0,182.0 150.6,182.2 151.3,181.2 152.2,180.1 153.2,179.9 155.0,180.3 155.5,181.6 156.0,180.2 156.5,183.1 157.0,183.8 157.4,187.1 157.9,186.9 158.2,186.8 158.6,189.0 159.0,189.7 159.4,189.8 159.8,191.6 160.1,194.5 160.5,192.6 160.9,195.5 161.3,194.0 161.6,196.3 162.1,195.5 162.6,199.7 163.0,198.9 163.5,200.1 164.0,199.2 164.5,201.5 164.9,202.6 165.4,203.8 166.1,205.7 166.8,204.1 167.5,205.6 168.2,207.6 168.9,210.4 169.6,210.4 170.4,209.0 171.1,211.4 172.0,211.7 172.9,212.7 173.9,214.2 174.8,215.8 175.8,216.5 176.7,217.0 178.1,218.9 179.5,218.0 180.7,219.3 181.8,218.2 182.9,219.1 184.1,219.2 185.2,218.3 186.2,219.4 187.2,218.3 188.2,219.5 189.3,219.2 190.3,220.1 191.3,216.9 192.3,219.9 193.3,216.5 194.3,219.5 195.3,218.8 196.4,218.5 197.4,220.4 198.4,218.5 199.4,218.8 200.5,218.2 201.6,219.7 202.6,220.1 203.7,219.0 204.7,218.1 205.8,218.4 206.9,218.5 207.9,219.5 209.0,217.8 210.0,218.2 211.1,218.9 212.2,218.2 213.2,218.0 214.3,219.9 215.3,218.7" fill="none" stroke="#000" stroke-width="2.1" stroke-linejoin="round" opacity="1"/>
<polygon points="46.93,575.8 46.9,573.9 48.0,575.7 49.0,573.3 50.0,572.7 51.0,570.9 52.1,571.4 53.1,570.2 54.1,572.5 55.1,572.3 56.2,571.5 57.2,568.9 58.3,573.6 59.3,569.9 60.4,572.8 61.4,572.5 62.5,573.0 63.5,568.3 64.5,569.4 65.6,572.1 66.6,566.5 67.7,569.2 68.7,566.2 69.7,569.0 70.7,568.2 71.7,570.4 72.6,569.2 73.6,567.5 74.6,566.9 75.2,569.1 75.8,565.3 76.4,564.4 76.9,564.6 77.5,561.9 78.1,560.9 78.7,561.4 79.2,560.0 79.6,558.1 79.9,560.7 80.2,558.1 80.6,556.2 80.9,552.7 81.2,553.3 81.5,553.1 81.9,551.5 82.2,551.5 82.5,550.6 82.9,551.4 83.2,550.9 83.5,547.1 83.9,546.2 84.6,545.0 85.4,545.4 86.2,546.8 86.9,542.1 87.7,542.5 88.5,541.5 89.3,542.9 90.2,538.4 91.1,538.7 91.9,539.2 93.1,542.1 94.2,539.2 94.6,540.2 94.9,537.3 95.2,533.9 95.6,537.6 95.9,535.4 96.2,535.2 96.5,532.3 96.7,534.2 96.8,532.6 96.9,528.8 97.1,526.1 97.2,525.9 97.3,526.2 97.4,525.2 97.6,522.2 97.7,523.1 98.0,520.0 98.3,521.6 98.6,520.2 98.9,518.5 99.6,516.8 100.4,519.9 101.2,516.2 101.9,517.7 102.7,514.9 103.5,518.5 103.6,518.9 103.8,522.2 104.0,520.3 104.1,523.6 104.3,520.4 104.5,523.2 104.6,525.4 104.8,526.4 104.9,523.9 105.0,523.3 105.1,519.5 105.3,520.2 105.4,519.6 105.5,516.8 105.6,518.1 105.8,516.2 106.5,517.1 107.3,520.7 108.1,518.5 108.3,519.9 108.5,519.9 108.8,519.2 109.0,520.4 109.2,525.0 109.5,522.0 109.7,525.4 109.8,524.1 110.0,525.5 110.1,528.7 110.3,531.6 110.4,531.4 110.6,533.6 110.7,530.2 110.8,531.0 111.0,536.6 111.1,535.0 111.3,538.4 111.4,537.3 111.5,539.2 111.7,538.3 111.8,539.9 111.9,540.0 112.0,545.9 112.1,545.0 112.2,544.6 112.3,546.3 112.4,546.9 112.5,546.0 112.6,552.1 112.7,550.8 113.0,552.3 113.4,555.5 113.7,553.4 114.0,555.5 114.3,554.2 114.7,554.0 115.0,557.7 115.3,561.3 115.7,561.8 116.0,559.6 116.3,564.0 116.7,564.5 117.0,562.5 117.3,564.6 117.6,566.2 118.0,569.4 118.3,567.6 118.6,571.3 119.0,568.0 119.3,569.9 119.6,571.5 120.4,573.8 121.2,571.7 121.9,574.3 121.93,575.8" fill="#cacaca"/>
<polyline points="16.5,528.9 16.5,529.1 16.5,532.4 16.5,531.9 16.5,534.1 16.5,533.0 16.6,533.7 16.6,535.5 16.6,535.8 16.6,540.0 16.6,538.3 16.6,540.4 16.7,539.7 16.7,542.4 16.7,542.8 16.7,543.9 16.7,543.6 16.7,544.9 16.8,548.7 16.8,547.8 16.8,548.4 16.8,549.3 16.8,550.7 16.8,551.5 16.9,551.7 16.9,555.3 16.9,555.0 16.9,555.3 16.9,557.7 17.7,557.8 18.5,554.5 19.2,555.4 19.7,553.5 20.2,554.9 20.6,551.1 21.1,551.5 21.5,550.8 22.0,551.2 22.5,550.1 22.9,546.6 23.4,546.5 23.8,546.2 24.3,546.1 24.8,543.8 25.2,545.2 25.7,541.3 26.2,541.5 26.9,542.6 27.7,540.0 28.5,539.2 29.2,537.4 30.0,537.5 30.8,536.9 31.5,536.2 32.3,539.3 33.1,539.2 33.5,537.4 34.0,539.0 34.5,536.8 34.9,535.0 35.4,534.6 35.8,532.7 36.3,533.2 36.8,530.7 37.2,532.4 37.7,530.0 38.2,527.6 38.6,528.2 39.1,527.4 39.5,525.4 40.0,525.4 40.5,525.6 40.9,523.1 41.4,523.2 41.8,522.0 42.3,520.8 42.9,518.9 43.5,518.5 43.8,519.2 44.0,519.1 44.3,520.6 44.6,523.1 44.9,525.5 45.1,524.4 45.4,526.8 45.6,525.6 45.9,528.5 46.2,528.7 46.4,530.3 46.7,530.5 46.9,532.3 47.3,531.6 47.6,533.5 47.9,534.2 48.2,534.8 48.6,538.1 48.9,537.4 49.2,539.2 49.6,539.8 49.9,542.8 50.2,543.3 50.6,544.7 50.9,545.6 51.2,543.7 51.5,546.2 51.8,546.3 52.1,546.3 52.3,550.0 52.6,550.9 52.8,550.7 53.1,552.0 53.3,554.0 53.6,555.2 53.8,555.4 54.2,555.4 54.5,558.8 54.8,557.8 55.2,559.9 55.5,559.1 55.8,559.8 56.2,562.3 56.6,564.9 57.1,565.1 57.5,565.9 58.0,564.2 58.5,566.9 59.4,565.6 60.3,566.5 61.2,567.1 62.2,568.0 63.1,569.2 64.0,568.3 64.9,566.5 65.9,567.1 66.8,567.9 67.7,566.9 68.6,565.2 69.5,567.4 70.5,565.8 71.4,566.0 72.3,564.6 73.5,563.3 74.6,563.6 75.8,563.5 76.5,565.1 77.2,564.7 77.9,564.2 78.5,568.5 79.2,568.1 80.4,569.5 81.5,567.8 82.7,567.1 83.9,569.2 84.8,571.0 85.8,570.3 86.8,568.4 87.8,569.5 88.8,569.3 89.8,572.4 90.8,571.5 91.8,570.6 92.8,573.5 93.7,573.0 94.7,570.6 95.7,573.1 96.7,572.1 97.7,572.7 98.7,573.8 99.8,574.2 100.8,572.1 101.8,571.4 102.8,574.9 103.9,572.9 104.9,575.0 105.9,574.1 106.9,573.4 108.0,574.4 109.0,574.8 110.0,574.1 111.0,573.4 112.1,571.9 113.1,574.5 114.1,573.5 115.1,573.9 116.2,573.9 117.3,575.6 118.5,572.4 119.6,574.9 120.8,572.0 121.9,574.7 123.1,573.9" fill="none" stroke="#333" stroke-width="1.5" stroke-linejoin="round" opacity="1" stroke-dasharray="1.6,1"/>
<polyline points="16.9,571.5 18.1,573.6 19.2,570.2 20.4,572.2 21.5,572.0 22.7,574.9 23.8,572.7 25.0,571.9 26.2,571.5 27.3,569.7 28.5,568.1 29.6,569.8 30.8,570.4 31.9,569.5 33.1,567.9 34.2,568.3 35.4,569.2 36.5,566.6 37.7,570.0 38.8,569.5 40.0,568.1 40.9,565.9 41.8,565.5 42.8,566.8 43.7,565.9 44.6,565.8 45.5,567.9 46.5,563.4 47.4,562.4 48.3,565.5 49.2,562.3 50.2,559.6 51.1,561.8 52.0,559.9 52.9,562.5 53.8,560.0 54.6,559.5 55.4,560.1 56.2,557.7 56.6,554.7 57.1,556.9 57.5,555.6 58.0,553.8 58.5,553.1 59.0,553.9 59.6,553.5 60.2,548.0 60.8,549.6 61.2,547.3 61.5,546.8 61.9,544.9 62.3,543.0 62.7,543.4 63.1,543.9 63.4,540.9 63.7,543.2 64.1,540.6 64.4,537.4 64.7,537.8 65.1,537.7 65.4,536.9 65.6,535.0 65.9,532.8 66.2,531.1 66.4,529.7 66.7,534.9 66.9,532.4 67.2,527.1 67.4,530.1 67.7,527.7 67.9,529.7 68.1,526.0 68.3,522.0 68.5,523.4 68.7,522.0 69.0,519.4 69.2,520.6 69.4,516.2 69.6,520.9 69.8,518.1 70.0,516.2 70.3,516.0 70.5,517.0 70.8,514.2 71.1,510.6 71.3,509.6 71.6,507.9 71.9,509.2 72.0,505.1 72.2,508.7 72.3,507.9 72.5,503.3 72.6,501.5 72.8,502.3 73.1,504.3 73.5,506.8 73.8,508.5 74.2,506.9 74.3,505.8 74.5,510.8 74.7,512.1 74.9,512.6 75.1,510.9 75.2,511.1 75.4,516.2 75.6,514.0 75.8,516.2 76.0,516.3 76.2,518.5 76.5,518.3 76.7,522.2 76.9,519.4 77.2,519.2 77.4,523.1 77.7,524.5 77.9,525.9 78.2,528.1 78.4,528.4 78.7,530.6 79.0,531.9 79.2,530.0 79.7,530.9 80.2,531.8 80.6,530.6 81.1,532.4 81.5,534.6 82.3,535.9 83.1,533.5 83.9,536.9 84.6,538.9 85.4,536.3 86.2,539.2 86.9,538.1 87.7,540.7 88.5,536.9 88.9,535.2 89.4,535.8 89.9,539.3 90.3,538.6 90.8,541.5 91.5,542.2 92.3,536.8 93.1,539.2 94.2,541.4 95.4,539.2 96.5,541.5 97.7,539.2 98.5,541.8 99.2,540.3 100.0,541.5 100.5,541.1 100.9,544.4 101.4,544.4 101.9,544.7 102.3,546.2 102.8,546.1 103.2,547.6 103.7,550.0 104.2,551.9 104.6,550.8 105.0,554.4 105.3,550.6 105.6,552.4 105.9,554.4 106.3,556.1 106.6,555.7 106.9,557.7 107.3,556.7 107.6,557.0 107.9,559.5 108.2,561.4 108.6,565.7 108.9,566.2 109.2,564.6 109.7,567.9 110.2,569.5 110.6,570.3 111.1,569.1 111.5,569.2 112.5,571.7 113.4,567.3 114.3,571.8 115.2,571.8 116.2,571.5 117.3,570.5 118.5,572.6 119.6,575.3 120.8,572.7 121.9,572.6 123.1,572.7" fill="none" stroke="#000" stroke-width="1.8" stroke-linejoin="round" opacity="1"/>
<polygon points="134.81,575.8 134.8,571.0 135.8,571.4 136.7,568.8 137.7,568.6 138.7,571.3 139.6,568.6 140.6,565.2 141.5,565.7 142.5,568.2 143.5,566.3 144.4,566.2 145.4,563.2 146.3,566.2 147.3,563.9 148.3,564.7 149.2,563.8 150.2,562.8 151.2,563.0 152.1,562.7 153.1,561.2 154.0,561.3 155.0,558.6 156.0,558.5 156.9,562.2 157.9,559.7 158.8,558.9 160.0,556.9 161.2,561.7 162.5,558.4 163.7,560.1 164.6,558.2 165.6,561.3 166.5,560.1 167.5,562.0 168.5,562.5 169.7,562.6 170.9,560.3 172.1,562.1 173.3,561.3 174.2,558.4 175.1,560.2 176.0,560.1 176.9,558.9 177.2,555.4 177.6,556.3 177.9,553.3 178.2,554.5 178.6,556.0 178.9,553.1 179.3,551.7 179.4,552.0 179.5,551.3 179.6,546.4 179.7,550.7 179.8,548.1 179.9,543.3 180.0,546.7 180.1,543.1 180.2,540.7 180.3,544.5 180.4,541.1 180.5,539.7 180.6,540.4 180.7,535.5 180.8,538.4 180.9,533.1 181.0,533.1 181.1,532.9 181.2,529.8 181.3,532.3 181.4,529.0 181.5,528.5 181.6,529.9 181.7,527.7 182.2,526.0 182.8,527.6 183.4,524.1 183.6,523.8 183.8,524.3 184.1,521.5 184.3,522.6 184.6,521.3 184.8,518.1 184.9,515.1 185.1,517.5 185.2,514.1 185.4,515.7 185.5,514.2 185.6,514.0 185.8,508.8 185.9,509.3 186.1,510.5 186.2,510.7 186.4,508.4 186.5,506.1 186.7,502.3 187.0,504.6 187.2,500.6 187.5,502.2 187.7,502.7 187.9,497.6 188.2,498.8 188.4,500.4 188.7,497.8 189.0,494.3 189.3,492.9 189.5,493.4 189.8,494.7 190.1,491.6 190.5,490.9 190.9,486.9 191.3,488.0 191.5,486.2 191.7,487.8 191.9,493.0 192.1,490.3 192.3,493.6 192.6,493.1 192.8,496.5 193.0,496.4 193.1,496.7 193.2,496.3 193.3,501.7 193.5,500.7 193.6,502.6 193.7,504.3 193.8,506.1 193.9,501.5 194.1,504.5 194.2,504.4 194.3,507.5 194.4,508.5 194.6,511.8 194.8,512.4 195.0,508.9 195.2,510.8 195.4,515.7 195.5,515.9 195.7,515.3 195.9,516.9 196.1,518.1 196.4,517.1 196.7,522.3 197.0,520.6 197.3,524.5 197.6,524.0 197.9,521.8 198.2,524.4 198.5,526.5 198.8,525.8 199.1,531.0 199.4,530.2 199.7,528.0 200.0,529.8 200.3,532.0 200.6,533.7 200.9,534.9 201.5,536.3 202.1,536.0 202.7,536.7 203.3,538.5 204.5,535.5 205.7,538.5 206.3,539.9 206.9,539.3 207.5,538.3 208.1,542.1 208.8,542.6 209.6,546.5 210.3,541.6 211.0,542.9 211.7,545.7 212.5,547.5 213.2,545.8 213.9,546.5 214.6,548.6 215.3,549.3 216.2,548.5 217.1,550.9 218.0,551.3 218.9,551.7 220.1,554.9 221.3,555.5 222.5,552.9 223.7,549.7 225.0,552.5 226.2,551.7 226.6,554.3 227.1,555.9 227.6,556.3 228.1,556.4 228.6,556.5 228.9,558.4 229.2,557.8 229.6,558.3 229.9,562.4 230.3,563.9 230.6,565.4 231.0,563.8 231.3,566.0 231.6,565.0 231.9,568.9 232.2,568.6 232.5,571.2 232.8,571.0 233.1,573.0 233.4,573.4 234.0,573.7 234.6,575.8 234.57,575.8" fill="#cacaca"/>
<polyline points="134.8,566.2 135.8,565.9 136.7,564.8 137.7,563.0 138.7,563.6 139.6,563.8 140.4,562.2 141.2,564.1 142.0,561.3 142.8,560.0 143.6,558.7 144.4,558.9 145.2,557.1 146.0,556.7 146.8,555.1 147.6,553.8 148.4,556.4 149.2,554.1 150.0,553.1 150.8,552.3 151.6,552.0 152.4,550.1 153.2,548.8 154.0,549.3 154.4,546.6 154.7,546.5 155.1,545.5 155.4,546.1 155.8,544.4 156.1,544.9 156.4,542.1 157.2,542.3 158.0,545.4 158.8,544.5 159.2,545.9 159.5,544.9 159.9,546.3 160.2,549.0 160.6,551.6 160.9,550.1 161.2,551.7 161.7,553.8 162.2,553.4 162.7,556.1 163.2,553.8 163.7,556.5 164.5,557.3 165.3,559.7 166.1,558.9 167.3,557.4 168.5,557.7 169.7,556.2 170.9,556.5 171.7,553.8 172.5,553.6 173.3,554.1 173.5,552.2 173.7,552.9 173.9,550.0 174.1,549.7 174.3,547.9 174.5,548.5 174.7,548.6 174.9,546.7 175.1,543.9 175.3,545.1 175.5,545.0 175.7,542.1 176.5,541.7 177.3,538.8 178.1,539.7 178.4,539.9 178.8,539.2 179.1,536.0 179.5,534.1 179.8,533.3 180.1,533.7 180.5,532.5 180.7,532.9 181.0,530.9 181.3,531.0 181.5,527.1 181.8,526.5 182.1,527.1 182.4,525.6 182.6,523.6 182.9,522.9 183.2,522.5 183.4,520.1 183.7,517.9 184.0,518.3 184.2,515.7 184.5,517.0 184.8,514.7 185.0,514.3 185.3,513.3 185.5,512.7 185.7,510.3 185.9,510.1 186.1,507.3 186.3,510.0 186.5,507.5 186.7,508.2 186.9,503.5 187.1,504.7 187.3,504.1 187.5,501.6 187.7,501.2 187.9,498.6 188.1,497.9 188.3,496.8 188.5,498.3 188.7,494.6 188.9,496.5 189.1,493.9 189.3,493.4 189.5,492.6 189.7,491.5 189.9,490.9 190.1,489.2 190.2,488.6 190.4,486.4 190.5,487.0 190.6,484.0 190.8,484.7 190.9,483.9 191.0,482.9 191.2,479.9 191.3,479.6 191.4,481.8 191.6,483.7 191.7,482.6 191.8,483.0 192.0,485.1 192.1,487.8 192.2,485.6 192.4,486.2 192.5,489.2 192.6,490.2 192.7,491.9 192.8,493.4 192.8,492.8 192.9,496.3 193.0,494.3 193.1,497.5 193.2,495.8 193.3,496.6 193.4,498.1 193.4,498.8 193.5,501.6 193.6,502.8 193.7,503.7 193.8,503.4 193.9,507.4 194.0,506.1 194.1,506.3 194.2,507.4 194.3,510.6 194.4,512.4 194.5,510.3 194.6,510.8 194.7,514.8 194.8,513.6 194.9,515.7 195.1,518.6 195.2,517.7 195.4,519.3 195.6,519.2 195.8,522.0 195.9,521.7 196.1,522.2 196.3,525.5 196.4,523.4 196.6,526.9 196.8,525.3 197.0,528.6 197.1,528.7 197.3,530.1 197.7,532.6 198.0,530.4 198.3,533.4 198.7,533.9 199.0,536.9 199.4,538.1 199.7,537.3 200.2,538.8 200.7,538.1 201.2,539.2 201.6,540.2 202.1,542.1 202.9,542.7 203.7,542.6 204.5,544.5 205.0,544.3 205.5,547.5 206.0,548.0 206.4,547.6 206.9,549.3 207.7,552.1 208.5,549.8 209.3,551.7 210.1,552.8 210.9,552.0 211.7,554.1 212.2,556.5 212.7,557.5 213.2,556.1 213.7,559.0 214.1,558.9 214.6,561.2 215.1,560.0 215.6,561.2 216.1,562.7 216.5,563.8 217.1,566.2 217.7,564.2 218.3,567.2 218.9,567.4 220.1,568.3 221.3,568.6 222.3,568.9 223.3,569.8 224.2,571.5 225.2,569.3 226.2,571.0 227.4,572.8 228.6,571.0 229.8,573.0 231.0,572.2 232.2,573.9 233.4,571.5 234.6,574.5 235.8,573.4 236.8,575.5 237.9,572.8 239.0,571.9 240.0,572.3 241.1,575.9 242.2,572.2 243.2,575.9 244.3,573.0 245.4,574.6" fill="none" stroke="#333" stroke-width="1.5" stroke-linejoin="round" opacity="1" stroke-dasharray="1.6,1"/>
<polyline points="134.8,554.1 136.0,555.9 137.2,552.2 138.4,552.9 139.6,555.3 140.6,556.0 141.5,551.8 142.5,552.9 143.5,556.1 144.4,552.9 145.1,553.6 145.9,553.9 146.6,553.8 147.3,547.1 148.0,549.3 148.4,546.6 148.7,549.1 149.1,547.4 149.4,542.2 149.7,544.2 150.1,541.4 150.4,542.1 150.8,540.6 151.1,537.5 151.5,536.0 151.8,541.1 152.1,535.8 152.5,538.4 152.8,534.9 153.4,531.6 154.0,533.0 154.6,529.9 155.2,531.3 155.8,529.9 156.4,527.4 157.0,529.8 157.6,527.7 158.0,524.4 158.4,527.2 158.8,524.7 159.2,521.2 159.6,521.7 160.0,521.7 160.4,520.7 160.8,522.4 161.2,517.8 161.6,516.0 162.0,516.9 162.2,518.8 162.5,517.3 162.7,515.3 162.9,511.3 163.2,509.7 163.4,509.2 163.7,509.7 164.1,505.7 164.5,504.3 164.9,506.1 165.1,507.1 165.3,507.5 165.5,509.4 165.7,509.2 165.9,507.9 166.1,512.1 166.4,514.5 166.7,515.5 167.0,516.0 167.3,516.9 167.4,518.2 167.6,520.2 167.7,523.1 167.9,523.5 168.0,523.5 168.2,522.5 168.3,523.1 168.5,525.3 168.7,525.9 168.8,530.5 169.0,527.8 169.2,528.9 169.4,530.1 169.6,529.5 169.8,536.1 170.0,530.8 170.2,535.7 170.4,536.1 170.7,539.9 170.9,536.7 171.2,540.0 171.5,539.6 171.7,539.8 172.0,540.6 172.3,541.1 172.5,546.8 172.8,545.7 173.2,548.6 173.6,550.4 174.0,545.9 174.4,551.1 174.8,549.7 175.3,552.8 175.7,552.9 176.2,554.2 176.6,553.7 177.1,558.8 177.6,553.6 178.1,557.7 178.8,560.0 179.5,561.4 180.2,560.0 181.0,561.2 181.7,561.3 182.4,565.2 183.1,561.1 183.8,564.3 184.6,565.8 185.3,565.0 186.1,563.4 186.9,564.7 187.7,562.5 188.9,561.3 190.1,561.3 190.9,562.3 191.7,563.7 192.5,563.8 193.3,565.7 194.1,564.2 194.9,566.2 195.9,567.5 196.8,567.4 197.8,565.8 198.8,568.8 199.7,568.6 200.9,567.4 202.1,571.8 203.3,569.3 204.5,569.8 205.5,571.3 206.6,570.2 207.6,570.1 208.6,568.7 209.7,568.3 210.7,573.5 211.7,571.0 212.8,571.3 213.9,571.4 214.9,571.5 216.0,573.5 217.1,570.0 218.1,569.7 219.2,574.0 220.3,571.8 221.3,572.2 222.4,573.2 223.5,574.5 224.6,575.1 225.6,575.1 226.7,569.9 227.8,572.2 228.8,575.2 229.9,575.3 231.0,573.4 232.0,571.1 233.1,571.4 234.2,572.2 235.2,571.4 236.3,573.1 237.4,576.1 238.4,574.4 239.5,574.1 240.6,574.6 241.6,572.0 242.7,574.0 243.7,577.9 244.8,576.1 245.8,574.5 246.9,574.8 247.9,576.9 249.0,575.0" fill="none" stroke="#000" stroke-width="1.8" stroke-linejoin="round" opacity="1"/>
<polygon points="349.54,572 349.5,571.6 350.6,571.9 351.7,569.4 352.8,570.0 353.6,570.0 354.4,568.4 355.2,568.3 356.1,567.6 356.5,565.8 357.0,565.2 357.5,564.1 358.0,563.3 358.5,562.7 358.8,560.1 359.1,559.7 359.4,559.9 359.7,557.2 360.0,556.6 360.3,557.3 360.6,554.8 360.9,554.5 361.1,553.0 361.4,551.7 361.6,552.6 361.8,549.2 362.0,549.9 362.2,549.6 362.4,546.5 362.6,546.4 362.8,545.1 363.0,545.3 363.2,543.7 363.4,541.9 363.6,539.9 363.8,540.1 364.0,538.9 364.2,538.3 364.4,537.9 364.6,535.6 364.8,534.9 365.0,534.7 365.2,534.2 365.4,531.7 365.6,530.8 365.8,530.1 366.0,529.4 366.2,529.4 366.4,526.1 366.6,527.6 366.8,525.7 367.1,523.6 367.3,523.5 367.5,522.0 367.8,520.3 368.1,518.3 368.4,519.4 368.8,517.0 369.1,516.3 369.4,515.3 369.6,514.1 369.9,514.3 370.2,512.8 370.4,509.3 370.7,509.8 371.2,509.0 371.6,507.5 372.0,506.5 372.2,507.5 372.4,509.8 372.6,509.5 372.8,510.8 373.0,513.2 373.2,513.0 373.3,513.9 373.5,515.1 373.6,516.2 373.8,518.2 374.0,518.8 374.1,520.1 374.3,520.3 374.4,521.1 374.6,521.0 374.7,524.2 374.9,524.9 375.0,526.6 375.2,527.7 375.3,526.7 375.5,528.1 375.6,530.1 375.8,529.8 376.0,533.3 376.1,532.1 376.3,533.1 376.5,536.4 376.7,536.8 376.9,536.3 377.1,539.4 377.2,539.9 377.4,541.7 377.6,542.0 377.8,541.7 378.0,544.8 378.1,545.1 378.3,546.7 378.5,549.1 378.7,549.6 378.9,549.7 379.0,551.9 379.2,550.7 379.4,552.4 379.6,554.1 379.8,553.5 379.9,557.7 380.1,556.5 380.3,557.6 380.5,559.4 380.7,559.9 381.0,560.7 381.2,563.7 381.4,563.8 381.7,564.7 381.9,565.5 382.1,566.8 382.5,566.3 382.9,568.2 383.3,571.0 383.7,570.8 385.4,571.6 385.37,572" fill="#cacaca"/>
<polyline points="344.7,569.2 345.5,569.0 346.3,567.6 346.8,567.3 347.3,565.1 347.8,564.0 348.2,562.8 348.7,562.7 349.1,561.7 349.5,560.3 350.0,559.4 350.4,558.3 350.8,557.4 351.2,556.2 351.6,554.8 352.0,554.6 352.4,552.3 352.8,552.7 353.2,550.9 353.6,549.7 353.9,547.7 354.2,547.3 354.5,546.7 354.8,545.4 355.1,544.7 355.4,543.2 355.8,542.1 356.1,541.5 356.3,541.1 356.5,539.1 356.7,538.9 356.9,538.1 357.1,536.6 357.3,535.3 357.5,535.3 357.7,533.4 358.0,532.2 358.2,532.0 358.5,529.2 358.8,528.9 359.0,528.2 359.3,526.9 359.6,524.9 360.0,525.4 360.3,522.7 360.6,522.7 360.9,520.8 361.3,520.3 361.5,520.2 361.8,518.5 362.1,518.0 362.3,516.4 362.6,515.5 362.7,514.8 362.8,513.8 362.9,512.0 363.0,510.8 363.1,511.0 363.2,508.6 363.3,509.2 363.4,507.3 364.5,506.5 364.7,507.1 364.9,508.0 365.1,509.1 365.3,511.6 365.5,512.2 365.7,514.1 366.0,514.0 366.2,515.5 366.4,515.6 366.6,517.1 367.0,518.9 367.3,519.4 367.6,519.3 367.9,520.1 368.3,522.0 368.5,523.5 368.8,523.2 369.1,525.9 369.4,525.9 369.6,526.9 369.9,528.5 370.1,529.7 370.3,530.3 370.4,531.9 370.6,532.1 370.8,534.7 371.0,534.7 371.2,536.8 371.3,536.5 371.5,538.3 371.7,539.9 371.8,541.4 371.9,541.3 372.0,541.7 372.2,543.4 372.3,545.1 372.4,545.3 372.5,547.0 372.7,548.0 372.8,548.2 373.0,550.0 373.2,551.5 373.3,552.0 373.5,553.5 373.6,553.4 373.8,555.8 374.0,556.2 374.2,556.5 374.5,559.2 374.8,560.4 375.1,561.4 375.3,561.7 375.6,562.7 375.9,563.2 376.3,564.3 376.6,566.1 376.9,566.6 377.2,567.6 378.0,569.7 378.9,570.0 379.9,569.7 381.0,571.1 382.1,571.6" fill="none" stroke="#222" stroke-width="1.0" stroke-linejoin="round" opacity="1" stroke-dasharray="1.2,1"/>
<polyline points="285.5,571.3 286.5,572.4 287.6,571.6 288.6,571.4 289.6,569.9 290.7,570.0 291.7,570.4 292.8,572.4 293.8,571.1 295.0,572.0 296.1,569.9 297.3,571.9 298.5,570.4 299.6,569.2 300.8,571.3 301.9,572.7 303.0,571.5 304.0,571.0 305.1,572.8 306.1,571.9 307.1,569.9 308.2,570.7 309.2,571.1 310.2,570.4 311.3,571.9 312.3,571.1 313.4,569.9 314.6,571.7 315.8,569.9 316.9,570.4 317.9,569.1 319.0,570.7 320.0,569.3 321.0,570.9 322.1,571.7 323.1,571.2 324.1,570.8 325.2,569.5 326.2,571.1 327.5,571.2 328.7,570.0 330.0,571.3 331.2,571.7 332.4,569.9 333.7,571.2 334.9,570.8 336.1,570.2 337.3,570.0 338.6,570.7 339.8,570.0 341.0,568.7 342.2,568.6 343.4,570.8 344.7,569.2 345.5,568.1 346.3,569.1 347.1,568.6 347.9,566.8 348.7,565.9 349.5,564.0 350.4,564.3 351.4,562.8 352.4,565.1 353.4,562.5 354.4,563.5 355.0,562.5 355.7,561.6 356.3,559.2 356.9,559.4 357.2,558.4 357.5,556.4 357.9,556.6 358.2,555.5 358.5,554.5 358.7,553.1 358.9,551.5 359.1,551.2 359.3,549.5 359.5,548.3 359.7,547.6 359.9,548.6 360.1,546.4 360.3,545.4 360.4,545.6 360.6,541.7 360.7,543.7 360.9,541.2 361.0,541.1 361.2,539.4 361.3,538.7 361.5,536.2 361.6,536.8 361.8,535.0 361.9,532.8 362.1,532.1 362.3,530.2 362.5,530.3 362.7,529.6 362.8,527.8 363.0,528.7 363.2,525.0 363.4,525.2 363.7,524.5 364.0,522.4 364.4,522.6 364.7,522.2 365.0,520.3 365.6,519.9 366.1,516.8 366.6,517.1 366.8,515.2 366.9,515.2 367.0,515.4 367.2,511.3 367.3,512.0 367.4,511.2 367.5,510.5 367.7,507.9 367.8,507.3 368.0,507.2 368.2,505.0 368.4,505.4 368.7,501.4 368.9,503.3 369.1,500.8 369.3,499.4 369.5,498.3 369.7,496.2 370.0,495.6 370.2,496.1 370.4,494.3 370.6,493.9 370.8,491.2 371.1,490.9 371.3,489.2 371.5,489.4 371.8,489.5 372.1,490.7 372.3,492.7 372.4,493.1 372.5,496.2 372.7,497.3 372.8,497.7 372.9,497.7 373.0,498.8 373.1,500.7 373.2,500.8 374.0,499.2 374.4,499.3 374.8,496.7 375.2,498.8 375.6,499.2 375.7,500.7 375.9,500.4 376.0,502.8 376.1,504.6 376.3,505.5 376.4,505.7 376.5,505.5 376.6,508.6 376.7,508.5 376.8,508.9 376.9,512.6 377.0,512.8 377.1,514.1 377.1,513.2 377.2,515.5 377.4,517.6 377.6,519.0 377.8,520.0 378.0,520.6 378.1,522.0 378.3,522.9 378.5,523.3 378.7,523.9 378.9,525.2 379.1,527.3 379.3,528.2 379.5,529.5 379.7,528.7 379.9,531.8 380.1,531.4 380.3,533.8 380.5,533.4 380.7,533.2 380.9,537.0 381.0,537.6 381.2,536.9 381.4,539.9 381.6,539.0 381.8,540.0 381.9,541.9 382.1,543.1 382.3,543.3 382.5,545.2 382.7,547.5 382.9,547.8 383.1,548.9 383.3,548.9 383.5,551.2 383.7,551.3 383.9,553.2 384.2,553.9 384.4,555.8 384.6,556.4 384.8,556.1 385.0,556.1 385.2,558.9 385.4,559.4 385.6,561.6 385.9,561.1 386.2,562.7 387.0,561.1 387.2,562.6 387.4,564.6 387.6,565.7 387.8,565.9 388.2,565.4 388.6,568.1 389.0,569.2 389.6,568.5 390.3,570.8 391.9,571.3 393.1,570.1 394.3,571.3" fill="none" stroke="#000" stroke-width="2.6" stroke-linejoin="round" opacity="1"/>
<polygon points="456.29,572 456.3,571.6 457.3,572.0 458.2,570.7 459.2,571.0 460.2,570.2 461.2,570.0 462.4,569.3 463.6,568.7 464.8,568.9 466.1,569.2 467.0,569.8 468.0,568.6 469.0,567.1 470.0,565.9 470.9,566.8 471.4,565.0 471.8,565.4 472.2,563.5 472.6,562.7 472.9,562.2 473.2,561.7 473.6,558.5 473.9,559.4 474.2,557.8 474.5,555.3 474.7,556.7 475.0,553.5 475.3,552.7 475.6,553.8 475.8,551.3 476.5,549.9 477.1,548.5 477.8,549.6 478.4,547.7 479.1,546.4 479.7,546.9 480.3,544.4 480.9,544.0 481.5,543.1 482.1,543.8 482.8,541.5 483.4,542.3 484.0,539.9 484.3,537.9 484.6,539.0 485.0,535.9 485.3,536.1 485.6,535.0 485.9,532.3 486.1,531.8 486.4,533.2 486.7,530.5 487.0,530.6 487.2,528.5 487.5,526.7 487.8,526.1 488.0,524.3 488.3,524.7 488.5,523.6 488.9,525.8 489.3,525.8 489.7,526.9 489.8,525.4 489.9,526.1 490.1,524.9 490.2,523.0 490.4,520.1 490.5,520.3 490.7,519.7 490.9,518.0 491.0,518.6 491.2,515.6 491.4,515.4 491.6,514.3 491.8,512.3 491.9,511.7 492.1,510.6 492.3,510.1 492.6,509.7 492.8,507.3 493.0,505.8 493.2,506.7 493.4,504.1 493.6,501.4 493.8,502.7 494.0,501.0 494.2,499.2 494.5,500.4 494.8,501.2 495.0,502.4 495.2,504.3 495.3,505.9 495.4,506.4 495.5,507.6 495.6,506.4 495.7,508.9 496.0,509.4 496.2,509.7 496.5,513.3 496.7,514.1 497.0,513.8 497.1,513.8 497.2,516.3 497.3,517.3 497.4,516.7 497.5,518.9 497.5,521.1 497.6,521.9 497.7,521.8 497.8,523.6 497.9,525.5 498.0,525.0 498.0,526.9 498.1,527.5 498.2,530.3 498.3,530.3 498.3,531.8 498.4,532.5 498.5,532.5 498.6,535.4 498.6,535.0 498.7,536.7 498.8,537.7 498.9,537.4 498.9,538.1 499.0,540.4 499.1,542.3 499.2,543.2 499.2,542.8 499.3,543.2 499.4,545.4 499.4,546.4 499.5,548.7 499.6,547.5 499.7,550.4 499.8,549.7 499.9,551.2 500.0,551.5 500.1,553.4 500.2,554.7 500.3,556.2 500.4,558.8 500.5,559.8 500.7,558.4 500.8,559.9 500.9,563.0 501.1,562.7 501.2,562.8 501.3,564.3 501.5,565.8 501.6,565.8 501.8,567.4 501.9,569.2 502.3,570.1 502.7,571.6 502.70,572" fill="#cacaca"/>
<polyline points="407.5,571.5 408.5,571.3 409.5,572.4 410.5,571.0 411.5,570.9 412.5,572.3 413.5,571.4 414.5,572.2 415.5,571.8 416.5,572.1 417.5,571.1 418.5,571.5 419.5,570.7 420.5,571.9 421.6,571.3 422.6,571.4 423.6,571.6 424.6,571.7 425.7,570.7 426.7,570.8 427.7,571.0 428.7,571.6 429.7,570.7 430.7,570.0 431.6,570.5 432.6,569.6 433.6,570.4 434.6,569.7 435.7,568.7 436.8,570.2 437.8,569.5 438.9,569.0 440.0,569.2 440.8,569.3 441.6,567.1 442.4,566.2 443.3,565.9 443.9,564.1 444.6,564.1 445.2,563.5 445.9,562.4 446.5,561.1 447.0,560.0 447.4,559.8 447.9,557.5 448.4,557.0 448.8,556.7 449.3,556.4 449.8,554.5 450.1,553.8 450.4,552.9 450.7,552.0 451.0,550.2 451.3,550.2 451.5,548.8 451.8,547.0 452.1,546.0 452.4,545.8 452.7,543.9 453.0,543.1 453.2,541.5 453.4,541.9 453.6,540.2 453.8,539.2 454.0,538.5 454.2,537.9 454.3,535.4 454.5,534.8 454.7,533.3 454.9,533.0 455.1,532.1 455.3,531.8 455.5,530.1 455.7,529.4 455.8,528.1 456.0,526.7 456.2,525.9 456.4,524.2 456.6,524.3 456.7,523.1 456.9,522.1 457.1,520.3 457.3,518.6 457.5,518.7 457.7,517.8 457.9,516.3 458.1,516.1 458.3,515.0 458.5,513.7 458.7,512.2 458.9,511.8 459.1,510.5 459.3,509.9 459.5,507.4 459.7,507.5 460.0,506.5 460.2,505.3 460.4,504.1 461.2,502.8 462.0,502.4 462.5,502.7 463.1,504.8 463.6,505.7 463.9,507.4 464.2,507.4 464.4,508.4 464.7,509.5 465.0,510.3 465.2,512.2 465.5,513.6 465.8,515.3 466.1,516.1 466.3,516.3 466.6,518.0 466.9,518.7 467.1,518.9 467.4,521.6 467.7,521.6 468.0,522.1 468.2,524.4 468.5,525.2 468.7,525.5 469.0,526.7 469.2,527.3 469.5,529.0 469.7,530.2 470.0,531.7 470.2,531.2 470.5,533.7 470.7,533.2 470.9,535.0 471.2,535.4 471.4,537.2 471.7,537.6 471.9,538.6 472.2,540.0 472.4,540.3 472.7,542.4 472.9,542.2 473.1,544.5 473.4,544.8 473.7,546.4 474.0,546.9 474.3,546.9 474.6,549.4 474.9,548.9 475.2,550.9 475.5,551.7 475.8,552.9 476.1,553.1 476.4,555.2 476.7,556.4 477.1,557.2 477.4,557.8 477.7,559.1 478.0,560.2 478.3,561.1 478.7,561.6 479.1,564.0 479.5,565.3 479.9,566.0 480.3,567.4 480.7,567.6 481.5,568.0 482.3,570.2 483.2,569.2 484.0,570.8 485.2,571.0 486.4,570.5 487.6,571.4 488.9,571.6 489.9,572.0 490.9,572.1 491.9,571.6 492.9,571.3 493.9,571.0 495.0,571.5 496.0,571.2 497.0,571.6" fill="none" stroke="#222" stroke-width="1.0" stroke-linejoin="round" opacity="1" stroke-dasharray="1.2,1"/>
<polyline points="407.5,569.2 408.5,568.8 409.5,571.1 410.5,571.0 411.5,571.5 412.5,571.2 413.5,570.4 414.5,571.9 415.5,570.2 416.5,570.4 417.5,571.3 418.5,571.0 419.6,571.5 420.8,572.2 421.9,571.3 423.0,570.4 424.0,571.7 425.0,571.4 426.0,570.6 427.0,570.4 428.0,568.1 429.0,568.4 430.0,569.2 431.1,567.8 432.3,570.6 433.5,570.3 434.6,569.7 435.7,570.1 436.8,568.9 437.8,569.1 438.9,568.5 440.0,569.5 441.1,569.6 442.2,570.3 443.3,568.4 444.3,567.2 445.4,565.8 446.5,566.8 447.2,564.9 447.8,564.7 448.5,565.6 449.1,564.5 449.8,562.7 450.4,561.6 451.1,559.5 451.7,558.5 452.4,557.7 453.0,557.8 453.4,557.7 453.8,555.7 454.3,556.3 454.7,555.1 455.1,553.7 455.5,551.6 455.9,551.7 456.3,549.7 456.6,547.5 456.9,546.4 457.2,546.8 457.5,545.6 457.8,543.6 458.1,542.8 458.4,541.0 458.7,541.5 459.0,541.8 459.3,540.2 459.6,539.9 460.0,539.0 460.3,536.2 460.6,536.2 460.9,534.0 461.2,533.4 461.4,533.4 461.5,532.5 461.7,529.2 461.9,527.8 462.1,527.4 462.3,527.6 462.5,526.0 462.7,523.8 462.9,525.4 463.1,524.3 463.2,522.2 463.4,519.9 463.6,520.3 463.8,520.6 464.0,518.4 464.2,515.9 464.4,515.7 464.6,515.7 464.8,515.5 465.0,513.2 465.2,512.2 466.1,511.8 466.9,509.6 467.7,509.8 468.1,507.9 468.5,509.0 468.9,506.3 469.3,505.7 469.5,503.3 469.8,503.8 470.0,501.2 470.2,500.4 470.4,500.1 470.6,499.2 470.8,498.3 471.1,497.3 471.3,496.4 471.5,494.4 471.8,493.5 472.6,490.9 473.4,491.0 474.0,493.0 474.5,493.5 474.7,493.2 474.9,495.7 475.1,496.6 475.3,498.6 475.5,499.2 475.6,500.9 475.7,500.4 475.8,502.8 475.9,503.9 476.0,504.3 476.1,504.2 476.2,507.7 476.3,507.8 476.4,507.1 476.5,508.7 476.6,510.6 476.8,513.1 477.1,511.7 477.3,513.3 477.5,515.6 477.7,516.7 477.9,517.1 478.1,518.5 478.3,518.7 478.5,518.3 478.7,519.5 478.9,523.3 479.1,523.8 479.3,522.3 479.5,523.4 479.7,525.0 479.9,526.9 480.1,529.2 480.4,527.9 480.6,530.3 480.9,532.1 481.1,532.2 481.4,534.1 481.6,532.9 481.9,533.6 482.1,534.1 482.3,536.6 482.8,538.5 483.2,537.5 483.6,541.4 484.0,541.6 484.4,541.1 484.8,543.1 485.3,545.1 485.8,544.0 486.3,546.1 486.7,545.8 487.2,548.0 487.8,549.8 488.5,550.9 489.1,551.8 489.7,551.3 490.3,550.5 490.9,554.0 491.5,553.9 492.1,554.5 493.3,556.4 494.6,556.2 495.2,557.0 495.8,558.2 496.4,558.9 497.0,559.4 497.5,561.4 498.0,560.0 498.5,560.9 499.0,563.5 499.4,564.3 499.9,564.7 500.3,566.0 500.7,565.8 501.1,568.4 501.9,570.4 502.7,570.8 503.9,569.6 505.1,571.3 506.2,572.4 507.3,572.3 508.4,571.2 509.5,570.1 510.6,571.8 511.7,570.4 512.7,571.1 513.8,570.1 514.9,571.3" fill="none" stroke="#000" stroke-width="2.6" stroke-linejoin="round" opacity="1"/>
<line x1="26.0" y1="90.3" x2="26.0" y2="95.3" stroke="#000" stroke-width="0.9"/>
<line x1="32.5" y1="90.3" x2="32.5" y2="93.3" stroke="#000" stroke-width="0.9"/>
<line x1="36.4" y1="90.3" x2="36.4" y2="93.3" stroke="#000" stroke-width="0.9"/>
<line x1="39.1" y1="90.3" x2="39.1" y2="93.3" stroke="#000" stroke-width="0.9"/>
<line x1="41.2" y1="90.3" x2="41.2" y2="93.3" stroke="#000" stroke-width="0.9"/>
<line x1="42.9" y1="90.3" x2="42.9" y2="93.3" stroke="#000" stroke-width="0.9"/>
<line x1="44.4" y1="90.3" x2="44.4" y2="93.3" stroke="#000" stroke-width="0.9"/>
<line x1="45.6" y1="90.3" x2="45.6" y2="93.3" stroke="#000" stroke-width="0.9"/>
<line x1="46.8" y1="90.3" x2="46.8" y2="93.3" stroke="#000" stroke-width="0.9"/>
<line x1="47.8" y1="90.3" x2="47.8" y2="95.3" stroke="#000" stroke-width="0.9"/>
<line x1="54.3" y1="90.3" x2="54.3" y2="93.3" stroke="#000" stroke-width="0.9"/>
<line x1="58.1" y1="90.3" x2="58.1" y2="93.3" stroke="#000" stroke-width="0.9"/>
<line x1="60.8" y1="90.3" x2="60.8" y2="93.3" stroke="#000" stroke-width="0.9"/>
<line x1="63.0" y1="90.3" x2="63.0" y2="93.3" stroke="#000" stroke-width="0.9"/>
<line x1="64.7" y1="90.3" x2="64.7" y2="93.3" stroke="#000" stroke-width="0.9"/>
<line x1="66.1" y1="90.3" x2="66.1" y2="93.3" stroke="#000" stroke-width="0.9"/>
<line x1="67.4" y1="90.3" x2="67.4" y2="93.3" stroke="#000" stroke-width="0.9"/>
<line x1="68.5" y1="90.3" x2="68.5" y2="93.3" stroke="#000" stroke-width="0.9"/>
<line x1="69.5" y1="90.3" x2="69.5" y2="95.3" stroke="#000" stroke-width="0.9"/>
<line x1="76.0" y1="90.3" x2="76.0" y2="93.3" stroke="#000" stroke-width="0.9"/>
<line x1="79.9" y1="90.3" x2="79.9" y2="93.3" stroke="#000" stroke-width="0.9"/>
<line x1="82.6" y1="90.3" x2="82.6" y2="93.3" stroke="#000" stroke-width="0.9"/>
<line x1="84.7" y1="90.3" x2="84.7" y2="93.3" stroke="#000" stroke-width="0.9"/>
<line x1="86.4" y1="90.3" x2="86.4" y2="93.3" stroke="#000" stroke-width="0.9"/>
<line x1="87.9" y1="90.3" x2="87.9" y2="93.3" stroke="#000" stroke-width="0.9"/>
<line x1="89.1" y1="90.3" x2="89.1" y2="93.3" stroke="#000" stroke-width="0.9"/>
<line x1="90.3" y1="90.3" x2="90.3" y2="93.3" stroke="#000" stroke-width="0.9"/>
<line x1="91.2" y1="90.3" x2="91.2" y2="95.3" stroke="#000" stroke-width="0.9"/>
<line x1="97.8" y1="90.3" x2="97.8" y2="93.3" stroke="#000" stroke-width="0.9"/>
<line x1="101.6" y1="90.3" x2="101.6" y2="93.3" stroke="#000" stroke-width="0.9"/>
<line x1="104.3" y1="90.3" x2="104.3" y2="93.3" stroke="#000" stroke-width="0.9"/>
<line x1="106.5" y1="90.3" x2="106.5" y2="93.3" stroke="#000" stroke-width="0.9"/>
<line x1="108.2" y1="90.3" x2="108.2" y2="93.3" stroke="#000" stroke-width="0.9"/>
<line x1="109.6" y1="90.3" x2="109.6" y2="93.3" stroke="#000" stroke-width="0.9"/>
<line x1="110.9" y1="90.3" x2="110.9" y2="93.3" stroke="#000" stroke-width="0.9"/>
<line x1="112.0" y1="90.3" x2="112.0" y2="93.3" stroke="#000" stroke-width="0.9"/>
<line x1="113.0" y1="90.3" x2="113.0" y2="95.3" stroke="#000" stroke-width="0.9"/>
<line x1="22.5" y1="90.3" x2="26.0" y2="90.3" stroke="#000" stroke-width="0.9"/>
<line x1="24.2" y1="87.1" x2="26.0" y2="87.1" stroke="#000" stroke-width="0.9"/>
<line x1="24.2" y1="85.2" x2="26.0" y2="85.2" stroke="#000" stroke-width="0.9"/>
<line x1="24.2" y1="83.8" x2="26.0" y2="83.8" stroke="#000" stroke-width="0.9"/>
<line x1="24.2" y1="82.8" x2="26.0" y2="82.8" stroke="#000" stroke-width="0.9"/>
<line x1="24.2" y1="81.9" x2="26.0" y2="81.9" stroke="#000" stroke-width="0.9"/>
<line x1="24.2" y1="81.2" x2="26.0" y2="81.2" stroke="#000" stroke-width="0.9"/>
<line x1="24.2" y1="80.6" x2="26.0" y2="80.6" stroke="#000" stroke-width="0.9"/>
<line x1="24.2" y1="80.0" x2="26.0" y2="80.0" stroke="#000" stroke-width="0.9"/>
<line x1="22.5" y1="79.5" x2="26.0" y2="79.5" stroke="#000" stroke-width="0.9"/>
<line x1="24.2" y1="76.3" x2="26.0" y2="76.3" stroke="#000" stroke-width="0.9"/>
<line x1="24.2" y1="74.4" x2="26.0" y2="74.4" stroke="#000" stroke-width="0.9"/>
<line x1="24.2" y1="73.1" x2="26.0" y2="73.1" stroke="#000" stroke-width="0.9"/>
<line x1="24.2" y1="72.0" x2="26.0" y2="72.0" stroke="#000" stroke-width="0.9"/>
<line x1="24.2" y1="71.2" x2="26.0" y2="71.2" stroke="#000" stroke-width="0.9"/>
<line x1="24.2" y1="70.4" x2="26.0" y2="70.4" stroke="#000" stroke-width="0.9"/>
<line x1="24.2" y1="69.8" x2="26.0" y2="69.8" stroke="#000" stroke-width="0.9"/>
<line x1="24.2" y1="69.3" x2="26.0" y2="69.3" stroke="#000" stroke-width="0.9"/>
<line x1="22.5" y1="68.8" x2="26.0" y2="68.8" stroke="#000" stroke-width="0.9"/>
<line x1="24.2" y1="65.5" x2="26.0" y2="65.5" stroke="#000" stroke-width="0.9"/>
<line x1="24.2" y1="63.6" x2="26.0" y2="63.6" stroke="#000" stroke-width="0.9"/>
<line x1="24.2" y1="62.3" x2="26.0" y2="62.3" stroke="#000" stroke-width="0.9"/>
<line x1="24.2" y1="61.2" x2="26.0" y2="61.2" stroke="#000" stroke-width="0.9"/>
<line x1="24.2" y1="60.4" x2="26.0" y2="60.4" stroke="#000" stroke-width="0.9"/>
<line x1="24.2" y1="59.7" x2="26.0" y2="59.7" stroke="#000" stroke-width="0.9"/>
<line x1="24.2" y1="59.0" x2="26.0" y2="59.0" stroke="#000" stroke-width="0.9"/>
<line x1="24.2" y1="58.5" x2="26.0" y2="58.5" stroke="#000" stroke-width="0.9"/>
<line x1="22.5" y1="58.0" x2="26.0" y2="58.0" stroke="#000" stroke-width="0.9"/>
<line x1="24.2" y1="54.8" x2="26.0" y2="54.8" stroke="#000" stroke-width="0.9"/>
<line x1="24.2" y1="52.9" x2="26.0" y2="52.9" stroke="#000" stroke-width="0.9"/>
<line x1="24.2" y1="51.5" x2="26.0" y2="51.5" stroke="#000" stroke-width="0.9"/>
<line x1="24.2" y1="50.5" x2="26.0" y2="50.5" stroke="#000" stroke-width="0.9"/>
<line x1="24.2" y1="49.6" x2="26.0" y2="49.6" stroke="#000" stroke-width="0.9"/>
<line x1="24.2" y1="48.9" x2="26.0" y2="48.9" stroke="#000" stroke-width="0.9"/>
<line x1="24.2" y1="48.3" x2="26.0" y2="48.3" stroke="#000" stroke-width="0.9"/>
<line x1="24.2" y1="47.7" x2="26.0" y2="47.7" stroke="#000" stroke-width="0.9"/>
<line x1="22.5" y1="47.2" x2="26.0" y2="47.2" stroke="#000" stroke-width="0.9"/>
<line x1="24.2" y1="44.0" x2="26.0" y2="44.0" stroke="#000" stroke-width="0.9"/>
<line x1="24.2" y1="42.1" x2="26.0" y2="42.1" stroke="#000" stroke-width="0.9"/>
<line x1="24.2" y1="40.8" x2="26.0" y2="40.8" stroke="#000" stroke-width="0.9"/>
<line x1="24.2" y1="39.7" x2="26.0" y2="39.7" stroke="#000" stroke-width="0.9"/>
<line x1="24.2" y1="38.9" x2="26.0" y2="38.9" stroke="#000" stroke-width="0.9"/>
<line x1="24.2" y1="38.1" x2="26.0" y2="38.1" stroke="#000" stroke-width="0.9"/>
<line x1="24.2" y1="37.5" x2="26.0" y2="37.5" stroke="#000" stroke-width="0.9"/>
<line x1="24.2" y1="37.0" x2="26.0" y2="37.0" stroke="#000" stroke-width="0.9"/>
<line x1="22.5" y1="36.5" x2="26.0" y2="36.5" stroke="#000" stroke-width="0.9"/>
<line x1="24.2" y1="33.2" x2="26.0" y2="33.2" stroke="#000" stroke-width="0.9"/>
<line x1="24.2" y1="31.3" x2="26.0" y2="31.3" stroke="#000" stroke-width="0.9"/>
<line x1="24.2" y1="30.0" x2="26.0" y2="30.0" stroke="#000" stroke-width="0.9"/>
<line x1="24.2" y1="28.9" x2="26.0" y2="28.9" stroke="#000" stroke-width="0.9"/>
<line x1="24.2" y1="28.1" x2="26.0" y2="28.1" stroke="#000" stroke-width="0.9"/>
<line x1="24.2" y1="27.4" x2="26.0" y2="27.4" stroke="#000" stroke-width="0.9"/>
<line x1="24.2" y1="26.7" x2="26.0" y2="26.7" stroke="#000" stroke-width="0.9"/>
<line x1="24.2" y1="26.2" x2="26.0" y2="26.2" stroke="#000" stroke-width="0.9"/>
<line x1="22.5" y1="25.7" x2="26.0" y2="25.7" stroke="#000" stroke-width="0.9"/>
<line x1="26.0" y1="25.7" x2="113.0" y2="25.7" stroke="#333" stroke-width="1.3"/>
<line x1="113.0" y1="25.7" x2="113.0" y2="90.3" stroke="#333" stroke-width="1.3"/>
<line x1="26.0" y1="90.3" x2="113.0" y2="90.3" stroke="#000" stroke-width="1.5"/>
<line x1="26.0" y1="25.7" x2="26.0" y2="90.3" stroke="#000" stroke-width="1.4"/>
<line x1="26.3" y1="25.7" x2="26.3" y2="90.3" stroke="#000" stroke-width="2.6"/>
<line x1="123.0" y1="90.3" x2="123.0" y2="95.3" stroke="#000" stroke-width="0.9"/>
<line x1="129.5" y1="90.3" x2="129.5" y2="93.3" stroke="#000" stroke-width="0.9"/>
<line x1="133.3" y1="90.3" x2="133.3" y2="93.3" stroke="#000" stroke-width="0.9"/>
<line x1="136.0" y1="90.3" x2="136.0" y2="93.3" stroke="#000" stroke-width="0.9"/>
<line x1="138.1" y1="90.3" x2="138.1" y2="93.3" stroke="#000" stroke-width="0.9"/>
<line x1="139.8" y1="90.3" x2="139.8" y2="93.3" stroke="#000" stroke-width="0.9"/>
<line x1="141.3" y1="90.3" x2="141.3" y2="93.3" stroke="#000" stroke-width="0.9"/>
<line x1="142.5" y1="90.3" x2="142.5" y2="93.3" stroke="#000" stroke-width="0.9"/>
<line x1="143.6" y1="90.3" x2="143.6" y2="93.3" stroke="#000" stroke-width="0.9"/>
<line x1="144.6" y1="90.3" x2="144.6" y2="95.3" stroke="#000" stroke-width="0.9"/>
<line x1="151.1" y1="90.3" x2="151.1" y2="93.3" stroke="#000" stroke-width="0.9"/>
<line x1="154.9" y1="90.3" x2="154.9" y2="93.3" stroke="#000" stroke-width="0.9"/>
<line x1="157.6" y1="90.3" x2="157.6" y2="93.3" stroke="#000" stroke-width="0.9"/>
<line x1="159.7" y1="90.3" x2="159.7" y2="93.3" stroke="#000" stroke-width="0.9"/>
<line x1="161.5" y1="90.3" x2="161.5" y2="93.3" stroke="#000" stroke-width="0.9"/>
<line x1="162.9" y1="90.3" x2="162.9" y2="93.3" stroke="#000" stroke-width="0.9"/>
<line x1="164.2" y1="90.3" x2="164.2" y2="93.3" stroke="#000" stroke-width="0.9"/>
<line x1="165.3" y1="90.3" x2="165.3" y2="93.3" stroke="#000" stroke-width="0.9"/>
<line x1="166.2" y1="90.3" x2="166.2" y2="95.3" stroke="#000" stroke-width="0.9"/>
<line x1="172.8" y1="90.3" x2="172.8" y2="93.3" stroke="#000" stroke-width="0.9"/>
<line x1="176.6" y1="90.3" x2="176.6" y2="93.3" stroke="#000" stroke-width="0.9"/>
<line x1="179.3" y1="90.3" x2="179.3" y2="93.3" stroke="#000" stroke-width="0.9"/>
<line x1="181.4" y1="90.3" x2="181.4" y2="93.3" stroke="#000" stroke-width="0.9"/>
<line x1="183.1" y1="90.3" x2="183.1" y2="93.3" stroke="#000" stroke-width="0.9"/>
<line x1="184.5" y1="90.3" x2="184.5" y2="93.3" stroke="#000" stroke-width="0.9"/>
<line x1="185.8" y1="90.3" x2="185.8" y2="93.3" stroke="#000" stroke-width="0.9"/>
<line x1="186.9" y1="90.3" x2="186.9" y2="93.3" stroke="#000" stroke-width="0.9"/>
<line x1="187.9" y1="90.3" x2="187.9" y2="95.3" stroke="#000" stroke-width="0.9"/>
<line x1="194.4" y1="90.3" x2="194.4" y2="93.3" stroke="#000" stroke-width="0.9"/>
<line x1="198.2" y1="90.3" x2="198.2" y2="93.3" stroke="#000" stroke-width="0.9"/>
<line x1="200.9" y1="90.3" x2="200.9" y2="93.3" stroke="#000" stroke-width="0.9"/>
<line x1="203.0" y1="90.3" x2="203.0" y2="93.3" stroke="#000" stroke-width="0.9"/>
<line x1="204.7" y1="90.3" x2="204.7" y2="93.3" stroke="#000" stroke-width="0.9"/>
<line x1="206.2" y1="90.3" x2="206.2" y2="93.3" stroke="#000" stroke-width="0.9"/>
<line x1="207.4" y1="90.3" x2="207.4" y2="93.3" stroke="#000" stroke-width="0.9"/>
<line x1="208.5" y1="90.3" x2="208.5" y2="93.3" stroke="#000" stroke-width="0.9"/>
<line x1="209.5" y1="90.3" x2="209.5" y2="95.3" stroke="#000" stroke-width="0.9"/>
<line x1="119.5" y1="90.3" x2="123.0" y2="90.3" stroke="#000" stroke-width="0.9"/>
<line x1="121.2" y1="87.5" x2="123.0" y2="87.5" stroke="#000" stroke-width="0.9"/>
<line x1="121.2" y1="85.9" x2="123.0" y2="85.9" stroke="#000" stroke-width="0.9"/>
<line x1="121.2" y1="84.7" x2="123.0" y2="84.7" stroke="#000" stroke-width="0.9"/>
<line x1="121.2" y1="83.8" x2="123.0" y2="83.8" stroke="#000" stroke-width="0.9"/>
<line x1="121.2" y1="83.1" x2="123.0" y2="83.1" stroke="#000" stroke-width="0.9"/>
<line x1="121.2" y1="82.5" x2="123.0" y2="82.5" stroke="#000" stroke-width="0.9"/>
<line x1="121.2" y1="82.0" x2="123.0" y2="82.0" stroke="#000" stroke-width="0.9"/>
<line x1="121.2" y1="81.5" x2="123.0" y2="81.5" stroke="#000" stroke-width="0.9"/>
<line x1="119.5" y1="81.1" x2="123.0" y2="81.1" stroke="#000" stroke-width="0.9"/>
<line x1="121.2" y1="78.3" x2="123.0" y2="78.3" stroke="#000" stroke-width="0.9"/>
<line x1="121.2" y1="76.7" x2="123.0" y2="76.7" stroke="#000" stroke-width="0.9"/>
<line x1="121.2" y1="75.5" x2="123.0" y2="75.5" stroke="#000" stroke-width="0.9"/>
<line x1="121.2" y1="74.6" x2="123.0" y2="74.6" stroke="#000" stroke-width="0.9"/>
<line x1="121.2" y1="73.9" x2="123.0" y2="73.9" stroke="#000" stroke-width="0.9"/>
<line x1="121.2" y1="73.3" x2="123.0" y2="73.3" stroke="#000" stroke-width="0.9"/>
<line x1="121.2" y1="72.7" x2="123.0" y2="72.7" stroke="#000" stroke-width="0.9"/>
<line x1="121.2" y1="72.3" x2="123.0" y2="72.3" stroke="#000" stroke-width="0.9"/>
<line x1="119.5" y1="71.8" x2="123.0" y2="71.8" stroke="#000" stroke-width="0.9"/>
<line x1="121.2" y1="69.1" x2="123.0" y2="69.1" stroke="#000" stroke-width="0.9"/>
<line x1="121.2" y1="67.4" x2="123.0" y2="67.4" stroke="#000" stroke-width="0.9"/>
<line x1="121.2" y1="66.3" x2="123.0" y2="66.3" stroke="#000" stroke-width="0.9"/>
<line x1="121.2" y1="65.4" x2="123.0" y2="65.4" stroke="#000" stroke-width="0.9"/>
<line x1="121.2" y1="64.7" x2="123.0" y2="64.7" stroke="#000" stroke-width="0.9"/>
<line x1="121.2" y1="64.0" x2="123.0" y2="64.0" stroke="#000" stroke-width="0.9"/>
<line x1="121.2" y1="63.5" x2="123.0" y2="63.5" stroke="#000" stroke-width="0.9"/>
<line x1="121.2" y1="63.0" x2="123.0" y2="63.0" stroke="#000" stroke-width="0.9"/>
<line x1="119.5" y1="62.6" x2="123.0" y2="62.6" stroke="#000" stroke-width="0.9"/>
<line x1="121.2" y1="59.8" x2="123.0" y2="59.8" stroke="#000" stroke-width="0.9"/>
<line x1="121.2" y1="58.2" x2="123.0" y2="58.2" stroke="#000" stroke-width="0.9"/>
<line x1="121.2" y1="57.1" x2="123.0" y2="57.1" stroke="#000" stroke-width="0.9"/>
<line x1="121.2" y1="56.2" x2="123.0" y2="56.2" stroke="#000" stroke-width="0.9"/>
<line x1="121.2" y1="55.4" x2="123.0" y2="55.4" stroke="#000" stroke-width="0.9"/>
<line x1="121.2" y1="54.8" x2="123.0" y2="54.8" stroke="#000" stroke-width="0.9"/>
<line x1="121.2" y1="54.3" x2="123.0" y2="54.3" stroke="#000" stroke-width="0.9"/>
<line x1="121.2" y1="53.8" x2="123.0" y2="53.8" stroke="#000" stroke-width="0.9"/>
<line x1="119.5" y1="53.4" x2="123.0" y2="53.4" stroke="#000" stroke-width="0.9"/>
<line x1="121.2" y1="50.6" x2="123.0" y2="50.6" stroke="#000" stroke-width="0.9"/>
<line x1="121.2" y1="49.0" x2="123.0" y2="49.0" stroke="#000" stroke-width="0.9"/>
<line x1="121.2" y1="47.8" x2="123.0" y2="47.8" stroke="#000" stroke-width="0.9"/>
<line x1="121.2" y1="46.9" x2="123.0" y2="46.9" stroke="#000" stroke-width="0.9"/>
<line x1="121.2" y1="46.2" x2="123.0" y2="46.2" stroke="#000" stroke-width="0.9"/>
<line x1="121.2" y1="45.6" x2="123.0" y2="45.6" stroke="#000" stroke-width="0.9"/>
<line x1="121.2" y1="45.1" x2="123.0" y2="45.1" stroke="#000" stroke-width="0.9"/>
<line x1="121.2" y1="44.6" x2="123.0" y2="44.6" stroke="#000" stroke-width="0.9"/>
<line x1="119.5" y1="44.2" x2="123.0" y2="44.2" stroke="#000" stroke-width="0.9"/>
<line x1="121.2" y1="41.4" x2="123.0" y2="41.4" stroke="#000" stroke-width="0.9"/>
<line x1="121.2" y1="39.8" x2="123.0" y2="39.8" stroke="#000" stroke-width="0.9"/>
<line x1="121.2" y1="38.6" x2="123.0" y2="38.6" stroke="#000" stroke-width="0.9"/>
<line x1="121.2" y1="37.7" x2="123.0" y2="37.7" stroke="#000" stroke-width="0.9"/>
<line x1="121.2" y1="37.0" x2="123.0" y2="37.0" stroke="#000" stroke-width="0.9"/>
<line x1="121.2" y1="36.4" x2="123.0" y2="36.4" stroke="#000" stroke-width="0.9"/>
<line x1="121.2" y1="35.8" x2="123.0" y2="35.8" stroke="#000" stroke-width="0.9"/>
<line x1="121.2" y1="35.4" x2="123.0" y2="35.4" stroke="#000" stroke-width="0.9"/>
<line x1="119.5" y1="34.9" x2="123.0" y2="34.9" stroke="#000" stroke-width="0.9"/>
<line x1="121.2" y1="32.2" x2="123.0" y2="32.2" stroke="#000" stroke-width="0.9"/>
<line x1="121.2" y1="30.5" x2="123.0" y2="30.5" stroke="#000" stroke-width="0.9"/>
<line x1="121.2" y1="29.4" x2="123.0" y2="29.4" stroke="#000" stroke-width="0.9"/>
<line x1="121.2" y1="28.5" x2="123.0" y2="28.5" stroke="#000" stroke-width="0.9"/>
<line x1="121.2" y1="27.7" x2="123.0" y2="27.7" stroke="#000" stroke-width="0.9"/>
<line x1="121.2" y1="27.1" x2="123.0" y2="27.1" stroke="#000" stroke-width="0.9"/>
<line x1="121.2" y1="26.6" x2="123.0" y2="26.6" stroke="#000" stroke-width="0.9"/>
<line x1="121.2" y1="26.1" x2="123.0" y2="26.1" stroke="#000" stroke-width="0.9"/>
<line x1="119.5" y1="25.7" x2="123.0" y2="25.7" stroke="#000" stroke-width="0.9"/>
<line x1="123.0" y1="25.7" x2="209.5" y2="25.7" stroke="#333" stroke-width="1.3"/>
<line x1="209.5" y1="25.7" x2="209.5" y2="90.3" stroke="#333" stroke-width="1.3"/>
<line x1="123.0" y1="90.3" x2="209.5" y2="90.3" stroke="#000" stroke-width="1.5"/>
<line x1="123.0" y1="25.7" x2="123.0" y2="90.3" stroke="#000" stroke-width="1.4"/>
<line x1="123.3" y1="52.0" x2="123.3" y2="90.3" stroke="#000" stroke-width="2.6"/>
<line x1="219.2" y1="90.3" x2="219.2" y2="95.3" stroke="#000" stroke-width="0.9"/>
<line x1="225.7" y1="90.3" x2="225.7" y2="93.3" stroke="#000" stroke-width="0.9"/>
<line x1="229.5" y1="90.3" x2="229.5" y2="93.3" stroke="#000" stroke-width="0.9"/>
<line x1="232.2" y1="90.3" x2="232.2" y2="93.3" stroke="#000" stroke-width="0.9"/>
<line x1="234.3" y1="90.3" x2="234.3" y2="93.3" stroke="#000" stroke-width="0.9"/>
<line x1="236.0" y1="90.3" x2="236.0" y2="93.3" stroke="#000" stroke-width="0.9"/>
<line x1="237.5" y1="90.3" x2="237.5" y2="93.3" stroke="#000" stroke-width="0.9"/>
<line x1="238.8" y1="90.3" x2="238.8" y2="93.3" stroke="#000" stroke-width="0.9"/>
<line x1="239.9" y1="90.3" x2="239.9" y2="93.3" stroke="#000" stroke-width="0.9"/>
<line x1="240.8" y1="90.3" x2="240.8" y2="95.3" stroke="#000" stroke-width="0.9"/>
<line x1="247.4" y1="90.3" x2="247.4" y2="93.3" stroke="#000" stroke-width="0.9"/>
<line x1="251.2" y1="90.3" x2="251.2" y2="93.3" stroke="#000" stroke-width="0.9"/>
<line x1="253.9" y1="90.3" x2="253.9" y2="93.3" stroke="#000" stroke-width="0.9"/>
<line x1="256.0" y1="90.3" x2="256.0" y2="93.3" stroke="#000" stroke-width="0.9"/>
<line x1="257.7" y1="90.3" x2="257.7" y2="93.3" stroke="#000" stroke-width="0.9"/>
<line x1="259.1" y1="90.3" x2="259.1" y2="93.3" stroke="#000" stroke-width="0.9"/>
<line x1="260.4" y1="90.3" x2="260.4" y2="93.3" stroke="#000" stroke-width="0.9"/>
<line x1="261.5" y1="90.3" x2="261.5" y2="93.3" stroke="#000" stroke-width="0.9"/>
<line x1="262.5" y1="90.3" x2="262.5" y2="95.3" stroke="#000" stroke-width="0.9"/>
<line x1="269.0" y1="90.3" x2="269.0" y2="93.3" stroke="#000" stroke-width="0.9"/>
<line x1="272.8" y1="90.3" x2="272.8" y2="93.3" stroke="#000" stroke-width="0.9"/>
<line x1="275.5" y1="90.3" x2="275.5" y2="93.3" stroke="#000" stroke-width="0.9"/>
<line x1="277.6" y1="90.3" x2="277.6" y2="93.3" stroke="#000" stroke-width="0.9"/>
<line x1="279.3" y1="90.3" x2="279.3" y2="93.3" stroke="#000" stroke-width="0.9"/>
<line x1="280.8" y1="90.3" x2="280.8" y2="93.3" stroke="#000" stroke-width="0.9"/>
<line x1="282.1" y1="90.3" x2="282.1" y2="93.3" stroke="#000" stroke-width="0.9"/>
<line x1="283.2" y1="90.3" x2="283.2" y2="93.3" stroke="#000" stroke-width="0.9"/>
<line x1="284.1" y1="90.3" x2="284.1" y2="95.3" stroke="#000" stroke-width="0.9"/>
<line x1="290.7" y1="90.3" x2="290.7" y2="93.3" stroke="#000" stroke-width="0.9"/>
<line x1="294.5" y1="90.3" x2="294.5" y2="93.3" stroke="#000" stroke-width="0.9"/>
<line x1="297.2" y1="90.3" x2="297.2" y2="93.3" stroke="#000" stroke-width="0.9"/>
<line x1="299.3" y1="90.3" x2="299.3" y2="93.3" stroke="#000" stroke-width="0.9"/>
<line x1="301.0" y1="90.3" x2="301.0" y2="93.3" stroke="#000" stroke-width="0.9"/>
<line x1="302.4" y1="90.3" x2="302.4" y2="93.3" stroke="#000" stroke-width="0.9"/>
<line x1="303.7" y1="90.3" x2="303.7" y2="93.3" stroke="#000" stroke-width="0.9"/>
<line x1="304.8" y1="90.3" x2="304.8" y2="93.3" stroke="#000" stroke-width="0.9"/>
<line x1="305.8" y1="90.3" x2="305.8" y2="95.3" stroke="#000" stroke-width="0.9"/>
<line x1="215.7" y1="90.3" x2="219.2" y2="90.3" stroke="#000" stroke-width="0.9"/>
<line x1="217.4" y1="87.5" x2="219.2" y2="87.5" stroke="#000" stroke-width="0.9"/>
<line x1="217.4" y1="85.9" x2="219.2" y2="85.9" stroke="#000" stroke-width="0.9"/>
<line x1="217.4" y1="84.7" x2="219.2" y2="84.7" stroke="#000" stroke-width="0.9"/>
<line x1="217.4" y1="83.8" x2="219.2" y2="83.8" stroke="#000" stroke-width="0.9"/>
<line x1="217.4" y1="83.1" x2="219.2" y2="83.1" stroke="#000" stroke-width="0.9"/>
<line x1="217.4" y1="82.5" x2="219.2" y2="82.5" stroke="#000" stroke-width="0.9"/>
<line x1="217.4" y1="81.9" x2="219.2" y2="81.9" stroke="#000" stroke-width="0.9"/>
<line x1="217.4" y1="81.5" x2="219.2" y2="81.5" stroke="#000" stroke-width="0.9"/>
<line x1="215.7" y1="81.0" x2="219.2" y2="81.0" stroke="#000" stroke-width="0.9"/>
<line x1="217.4" y1="78.3" x2="219.2" y2="78.3" stroke="#000" stroke-width="0.9"/>
<line x1="217.4" y1="76.6" x2="219.2" y2="76.6" stroke="#000" stroke-width="0.9"/>
<line x1="217.4" y1="75.5" x2="219.2" y2="75.5" stroke="#000" stroke-width="0.9"/>
<line x1="217.4" y1="74.6" x2="219.2" y2="74.6" stroke="#000" stroke-width="0.9"/>
<line x1="217.4" y1="73.8" x2="219.2" y2="73.8" stroke="#000" stroke-width="0.9"/>
<line x1="217.4" y1="73.2" x2="219.2" y2="73.2" stroke="#000" stroke-width="0.9"/>
<line x1="217.4" y1="72.7" x2="219.2" y2="72.7" stroke="#000" stroke-width="0.9"/>
<line x1="217.4" y1="72.2" x2="219.2" y2="72.2" stroke="#000" stroke-width="0.9"/>
<line x1="215.7" y1="71.8" x2="219.2" y2="71.8" stroke="#000" stroke-width="0.9"/>
<line x1="217.4" y1="69.0" x2="219.2" y2="69.0" stroke="#000" stroke-width="0.9"/>
<line x1="217.4" y1="67.4" x2="219.2" y2="67.4" stroke="#000" stroke-width="0.9"/>
<line x1="217.4" y1="66.2" x2="219.2" y2="66.2" stroke="#000" stroke-width="0.9"/>
<line x1="217.4" y1="65.3" x2="219.2" y2="65.3" stroke="#000" stroke-width="0.9"/>
<line x1="217.4" y1="64.6" x2="219.2" y2="64.6" stroke="#000" stroke-width="0.9"/>
<line x1="217.4" y1="64.0" x2="219.2" y2="64.0" stroke="#000" stroke-width="0.9"/>
<line x1="217.4" y1="63.4" x2="219.2" y2="63.4" stroke="#000" stroke-width="0.9"/>
<line x1="217.4" y1="63.0" x2="219.2" y2="63.0" stroke="#000" stroke-width="0.9"/>
<line x1="215.7" y1="62.5" x2="219.2" y2="62.5" stroke="#000" stroke-width="0.9"/>
<line x1="217.4" y1="59.7" x2="219.2" y2="59.7" stroke="#000" stroke-width="0.9"/>
<line x1="217.4" y1="58.1" x2="219.2" y2="58.1" stroke="#000" stroke-width="0.9"/>
<line x1="217.4" y1="57.0" x2="219.2" y2="57.0" stroke="#000" stroke-width="0.9"/>
<line x1="217.4" y1="56.1" x2="219.2" y2="56.1" stroke="#000" stroke-width="0.9"/>
<line x1="217.4" y1="55.3" x2="219.2" y2="55.3" stroke="#000" stroke-width="0.9"/>
<line x1="217.4" y1="54.7" x2="219.2" y2="54.7" stroke="#000" stroke-width="0.9"/>
<line x1="217.4" y1="54.2" x2="219.2" y2="54.2" stroke="#000" stroke-width="0.9"/>
<line x1="217.4" y1="53.7" x2="219.2" y2="53.7" stroke="#000" stroke-width="0.9"/>
<line x1="215.7" y1="53.3" x2="219.2" y2="53.3" stroke="#000" stroke-width="0.9"/>
<line x1="217.4" y1="50.5" x2="219.2" y2="50.5" stroke="#000" stroke-width="0.9"/>
<line x1="217.4" y1="48.9" x2="219.2" y2="48.9" stroke="#000" stroke-width="0.9"/>
<line x1="217.4" y1="47.7" x2="219.2" y2="47.7" stroke="#000" stroke-width="0.9"/>
<line x1="217.4" y1="46.8" x2="219.2" y2="46.8" stroke="#000" stroke-width="0.9"/>
<line x1="217.4" y1="46.1" x2="219.2" y2="46.1" stroke="#000" stroke-width="0.9"/>
<line x1="217.4" y1="45.4" x2="219.2" y2="45.4" stroke="#000" stroke-width="0.9"/>
<line x1="217.4" y1="44.9" x2="219.2" y2="44.9" stroke="#000" stroke-width="0.9"/>
<line x1="217.4" y1="44.4" x2="219.2" y2="44.4" stroke="#000" stroke-width="0.9"/>
<line x1="215.7" y1="44.0" x2="219.2" y2="44.0" stroke="#000" stroke-width="0.9"/>
<line x1="217.4" y1="41.2" x2="219.2" y2="41.2" stroke="#000" stroke-width="0.9"/>
<line x1="217.4" y1="39.6" x2="219.2" y2="39.6" stroke="#000" stroke-width="0.9"/>
<line x1="217.4" y1="38.4" x2="219.2" y2="38.4" stroke="#000" stroke-width="0.9"/>
<line x1="217.4" y1="37.5" x2="219.2" y2="37.5" stroke="#000" stroke-width="0.9"/>
<line x1="217.4" y1="36.8" x2="219.2" y2="36.8" stroke="#000" stroke-width="0.9"/>
<line x1="217.4" y1="36.2" x2="219.2" y2="36.2" stroke="#000" stroke-width="0.9"/>
<line x1="217.4" y1="35.7" x2="219.2" y2="35.7" stroke="#000" stroke-width="0.9"/>
<line x1="217.4" y1="35.2" x2="219.2" y2="35.2" stroke="#000" stroke-width="0.9"/>
<line x1="215.7" y1="34.8" x2="219.2" y2="34.8" stroke="#000" stroke-width="0.9"/>
<line x1="217.4" y1="32.0" x2="219.2" y2="32.0" stroke="#000" stroke-width="0.9"/>
<line x1="217.4" y1="30.3" x2="219.2" y2="30.3" stroke="#000" stroke-width="0.9"/>
<line x1="217.4" y1="29.2" x2="219.2" y2="29.2" stroke="#000" stroke-width="0.9"/>
<line x1="217.4" y1="28.3" x2="219.2" y2="28.3" stroke="#000" stroke-width="0.9"/>
<line x1="217.4" y1="27.6" x2="219.2" y2="27.6" stroke="#000" stroke-width="0.9"/>
<line x1="217.4" y1="26.9" x2="219.2" y2="26.9" stroke="#000" stroke-width="0.9"/>
<line x1="217.4" y1="26.4" x2="219.2" y2="26.4" stroke="#000" stroke-width="0.9"/>
<line x1="217.4" y1="25.9" x2="219.2" y2="25.9" stroke="#000" stroke-width="0.9"/>
<line x1="215.7" y1="25.5" x2="219.2" y2="25.5" stroke="#000" stroke-width="0.9"/>
<line x1="219.2" y1="25.5" x2="305.8" y2="25.5" stroke="#333" stroke-width="1.3"/>
<line x1="305.8" y1="25.5" x2="305.8" y2="90.3" stroke="#333" stroke-width="1.3"/>
<line x1="219.2" y1="90.3" x2="305.8" y2="90.3" stroke="#000" stroke-width="1.5"/>
<line x1="219.2" y1="25.5" x2="219.2" y2="90.3" stroke="#000" stroke-width="1.4"/>
<line x1="219.5" y1="40.6" x2="219.5" y2="90.3" stroke="#000" stroke-width="2.6"/>
<line x1="316.5" y1="90.3" x2="316.5" y2="95.3" stroke="#000" stroke-width="0.9"/>
<line x1="323.0" y1="90.3" x2="323.0" y2="93.3" stroke="#000" stroke-width="0.9"/>
<line x1="326.8" y1="90.3" x2="326.8" y2="93.3" stroke="#000" stroke-width="0.9"/>
<line x1="329.5" y1="90.3" x2="329.5" y2="93.3" stroke="#000" stroke-width="0.9"/>
<line x1="331.6" y1="90.3" x2="331.6" y2="93.3" stroke="#000" stroke-width="0.9"/>
<line x1="333.3" y1="90.3" x2="333.3" y2="93.3" stroke="#000" stroke-width="0.9"/>
<line x1="334.8" y1="90.3" x2="334.8" y2="93.3" stroke="#000" stroke-width="0.9"/>
<line x1="336.0" y1="90.3" x2="336.0" y2="93.3" stroke="#000" stroke-width="0.9"/>
<line x1="337.1" y1="90.3" x2="337.1" y2="93.3" stroke="#000" stroke-width="0.9"/>
<line x1="338.1" y1="90.3" x2="338.1" y2="95.3" stroke="#000" stroke-width="0.9"/>
<line x1="344.6" y1="90.3" x2="344.6" y2="93.3" stroke="#000" stroke-width="0.9"/>
<line x1="348.4" y1="90.3" x2="348.4" y2="93.3" stroke="#000" stroke-width="0.9"/>
<line x1="351.1" y1="90.3" x2="351.1" y2="93.3" stroke="#000" stroke-width="0.9"/>
<line x1="353.2" y1="90.3" x2="353.2" y2="93.3" stroke="#000" stroke-width="0.9"/>
<line x1="355.0" y1="90.3" x2="355.0" y2="93.3" stroke="#000" stroke-width="0.9"/>
<line x1="356.4" y1="90.3" x2="356.4" y2="93.3" stroke="#000" stroke-width="0.9"/>
<line x1="357.7" y1="90.3" x2="357.7" y2="93.3" stroke="#000" stroke-width="0.9"/>
<line x1="358.8" y1="90.3" x2="358.8" y2="93.3" stroke="#000" stroke-width="0.9"/>
<line x1="359.8" y1="90.3" x2="359.8" y2="95.3" stroke="#000" stroke-width="0.9"/>
<line x1="366.3" y1="90.3" x2="366.3" y2="93.3" stroke="#000" stroke-width="0.9"/>
<line x1="370.1" y1="90.3" x2="370.1" y2="93.3" stroke="#000" stroke-width="0.9"/>
<line x1="372.8" y1="90.3" x2="372.8" y2="93.3" stroke="#000" stroke-width="0.9"/>
<line x1="374.9" y1="90.3" x2="374.9" y2="93.3" stroke="#000" stroke-width="0.9"/>
<line x1="376.6" y1="90.3" x2="376.6" y2="93.3" stroke="#000" stroke-width="0.9"/>
<line x1="378.0" y1="90.3" x2="378.0" y2="93.3" stroke="#000" stroke-width="0.9"/>
<line x1="379.3" y1="90.3" x2="379.3" y2="93.3" stroke="#000" stroke-width="0.9"/>
<line x1="380.4" y1="90.3" x2="380.4" y2="93.3" stroke="#000" stroke-width="0.9"/>
<line x1="381.4" y1="90.3" x2="381.4" y2="95.3" stroke="#000" stroke-width="0.9"/>
<line x1="387.9" y1="90.3" x2="387.9" y2="93.3" stroke="#000" stroke-width="0.9"/>
<line x1="391.7" y1="90.3" x2="391.7" y2="93.3" stroke="#000" stroke-width="0.9"/>
<line x1="394.4" y1="90.3" x2="394.4" y2="93.3" stroke="#000" stroke-width="0.9"/>
<line x1="396.5" y1="90.3" x2="396.5" y2="93.3" stroke="#000" stroke-width="0.9"/>
<line x1="398.2" y1="90.3" x2="398.2" y2="93.3" stroke="#000" stroke-width="0.9"/>
<line x1="399.7" y1="90.3" x2="399.7" y2="93.3" stroke="#000" stroke-width="0.9"/>
<line x1="400.9" y1="90.3" x2="400.9" y2="93.3" stroke="#000" stroke-width="0.9"/>
<line x1="402.0" y1="90.3" x2="402.0" y2="93.3" stroke="#000" stroke-width="0.9"/>
<line x1="403.0" y1="90.3" x2="403.0" y2="95.3" stroke="#000" stroke-width="0.9"/>
<line x1="313.0" y1="90.3" x2="316.5" y2="90.3" stroke="#000" stroke-width="0.9"/>
<line x1="314.7" y1="87.5" x2="316.5" y2="87.5" stroke="#000" stroke-width="0.9"/>
<line x1="314.7" y1="85.9" x2="316.5" y2="85.9" stroke="#000" stroke-width="0.9"/>
<line x1="314.7" y1="84.7" x2="316.5" y2="84.7" stroke="#000" stroke-width="0.9"/>
<line x1="314.7" y1="83.8" x2="316.5" y2="83.8" stroke="#000" stroke-width="0.9"/>
<line x1="314.7" y1="83.1" x2="316.5" y2="83.1" stroke="#000" stroke-width="0.9"/>
<line x1="314.7" y1="82.5" x2="316.5" y2="82.5" stroke="#000" stroke-width="0.9"/>
<line x1="314.7" y1="81.9" x2="316.5" y2="81.9" stroke="#000" stroke-width="0.9"/>
<line x1="314.7" y1="81.5" x2="316.5" y2="81.5" stroke="#000" stroke-width="0.9"/>
<line x1="313.0" y1="81.0" x2="316.5" y2="81.0" stroke="#000" stroke-width="0.9"/>
<line x1="314.7" y1="78.3" x2="316.5" y2="78.3" stroke="#000" stroke-width="0.9"/>
<line x1="314.7" y1="76.6" x2="316.5" y2="76.6" stroke="#000" stroke-width="0.9"/>
<line x1="314.7" y1="75.5" x2="316.5" y2="75.5" stroke="#000" stroke-width="0.9"/>
<line x1="314.7" y1="74.6" x2="316.5" y2="74.6" stroke="#000" stroke-width="0.9"/>
<line x1="314.7" y1="73.8" x2="316.5" y2="73.8" stroke="#000" stroke-width="0.9"/>
<line x1="314.7" y1="73.2" x2="316.5" y2="73.2" stroke="#000" stroke-width="0.9"/>
<line x1="314.7" y1="72.7" x2="316.5" y2="72.7" stroke="#000" stroke-width="0.9"/>
<line x1="314.7" y1="72.2" x2="316.5" y2="72.2" stroke="#000" stroke-width="0.9"/>
<line x1="313.0" y1="71.8" x2="316.5" y2="71.8" stroke="#000" stroke-width="0.9"/>
<line x1="314.7" y1="69.0" x2="316.5" y2="69.0" stroke="#000" stroke-width="0.9"/>
<line x1="314.7" y1="67.4" x2="316.5" y2="67.4" stroke="#000" stroke-width="0.9"/>
<line x1="314.7" y1="66.2" x2="316.5" y2="66.2" stroke="#000" stroke-width="0.9"/>
<line x1="314.7" y1="65.3" x2="316.5" y2="65.3" stroke="#000" stroke-width="0.9"/>
<line x1="314.7" y1="64.6" x2="316.5" y2="64.6" stroke="#000" stroke-width="0.9"/>
<line x1="314.7" y1="64.0" x2="316.5" y2="64.0" stroke="#000" stroke-width="0.9"/>
<line x1="314.7" y1="63.4" x2="316.5" y2="63.4" stroke="#000" stroke-width="0.9"/>
<line x1="314.7" y1="63.0" x2="316.5" y2="63.0" stroke="#000" stroke-width="0.9"/>
<line x1="313.0" y1="62.5" x2="316.5" y2="62.5" stroke="#000" stroke-width="0.9"/>
<line x1="314.7" y1="59.7" x2="316.5" y2="59.7" stroke="#000" stroke-width="0.9"/>
<line x1="314.7" y1="58.1" x2="316.5" y2="58.1" stroke="#000" stroke-width="0.9"/>
<line x1="314.7" y1="57.0" x2="316.5" y2="57.0" stroke="#000" stroke-width="0.9"/>
<line x1="314.7" y1="56.1" x2="316.5" y2="56.1" stroke="#000" stroke-width="0.9"/>
<line x1="314.7" y1="55.3" x2="316.5" y2="55.3" stroke="#000" stroke-width="0.9"/>
<line x1="314.7" y1="54.7" x2="316.5" y2="54.7" stroke="#000" stroke-width="0.9"/>
<line x1="314.7" y1="54.2" x2="316.5" y2="54.2" stroke="#000" stroke-width="0.9"/>
<line x1="314.7" y1="53.7" x2="316.5" y2="53.7" stroke="#000" stroke-width="0.9"/>
<line x1="313.0" y1="53.3" x2="316.5" y2="53.3" stroke="#000" stroke-width="0.9"/>
<line x1="314.7" y1="50.5" x2="316.5" y2="50.5" stroke="#000" stroke-width="0.9"/>
<line x1="314.7" y1="48.9" x2="316.5" y2="48.9" stroke="#000" stroke-width="0.9"/>
<line x1="314.7" y1="47.7" x2="316.5" y2="47.7" stroke="#000" stroke-width="0.9"/>
<line x1="314.7" y1="46.8" x2="316.5" y2="46.8" stroke="#000" stroke-width="0.9"/>
<line x1="314.7" y1="46.1" x2="316.5" y2="46.1" stroke="#000" stroke-width="0.9"/>
<line x1="314.7" y1="45.4" x2="316.5" y2="45.4" stroke="#000" stroke-width="0.9"/>
<line x1="314.7" y1="44.9" x2="316.5" y2="44.9" stroke="#000" stroke-width="0.9"/>
<line x1="314.7" y1="44.4" x2="316.5" y2="44.4" stroke="#000" stroke-width="0.9"/>
<line x1="313.0" y1="44.0" x2="316.5" y2="44.0" stroke="#000" stroke-width="0.9"/>
<line x1="314.7" y1="41.2" x2="316.5" y2="41.2" stroke="#000" stroke-width="0.9"/>
<line x1="314.7" y1="39.6" x2="316.5" y2="39.6" stroke="#000" stroke-width="0.9"/>
<line x1="314.7" y1="38.4" x2="316.5" y2="38.4" stroke="#000" stroke-width="0.9"/>
<line x1="314.7" y1="37.5" x2="316.5" y2="37.5" stroke="#000" stroke-width="0.9"/>
<line x1="314.7" y1="36.8" x2="316.5" y2="36.8" stroke="#000" stroke-width="0.9"/>
<line x1="314.7" y1="36.2" x2="316.5" y2="36.2" stroke="#000" stroke-width="0.9"/>
<line x1="314.7" y1="35.7" x2="316.5" y2="35.7" stroke="#000" stroke-width="0.9"/>
<line x1="314.7" y1="35.2" x2="316.5" y2="35.2" stroke="#000" stroke-width="0.9"/>
<line x1="313.0" y1="34.8" x2="316.5" y2="34.8" stroke="#000" stroke-width="0.9"/>
<line x1="314.7" y1="32.0" x2="316.5" y2="32.0" stroke="#000" stroke-width="0.9"/>
<line x1="314.7" y1="30.3" x2="316.5" y2="30.3" stroke="#000" stroke-width="0.9"/>
<line x1="314.7" y1="29.2" x2="316.5" y2="29.2" stroke="#000" stroke-width="0.9"/>
<line x1="314.7" y1="28.3" x2="316.5" y2="28.3" stroke="#000" stroke-width="0.9"/>
<line x1="314.7" y1="27.6" x2="316.5" y2="27.6" stroke="#000" stroke-width="0.9"/>
<line x1="314.7" y1="26.9" x2="316.5" y2="26.9" stroke="#000" stroke-width="0.9"/>
<line x1="314.7" y1="26.4" x2="316.5" y2="26.4" stroke="#000" stroke-width="0.9"/>
<line x1="314.7" y1="25.9" x2="316.5" y2="25.9" stroke="#000" stroke-width="0.9"/>
<line x1="313.0" y1="25.5" x2="316.5" y2="25.5" stroke="#000" stroke-width="0.9"/>
<line x1="316.5" y1="25.5" x2="403.0" y2="25.5" stroke="#333" stroke-width="1.3"/>
<line x1="403.0" y1="25.5" x2="403.0" y2="90.3" stroke="#333" stroke-width="1.3"/>
<line x1="316.5" y1="90.3" x2="403.0" y2="90.3" stroke="#000" stroke-width="1.5"/>
<line x1="316.5" y1="25.5" x2="316.5" y2="90.3" stroke="#000" stroke-width="1.4"/>
<line x1="316.8" y1="64.8" x2="316.8" y2="90.3" stroke="#000" stroke-width="2.6"/>
<line x1="415.3" y1="90.3" x2="415.3" y2="95.3" stroke="#000" stroke-width="0.9"/>
<line x1="421.7" y1="90.3" x2="421.7" y2="93.3" stroke="#000" stroke-width="0.9"/>
<line x1="425.4" y1="90.3" x2="425.4" y2="93.3" stroke="#000" stroke-width="0.9"/>
<line x1="428.0" y1="90.3" x2="428.0" y2="93.3" stroke="#000" stroke-width="0.9"/>
<line x1="430.1" y1="90.3" x2="430.1" y2="93.3" stroke="#000" stroke-width="0.9"/>
<line x1="431.7" y1="90.3" x2="431.7" y2="93.3" stroke="#000" stroke-width="0.9"/>
<line x1="433.2" y1="90.3" x2="433.2" y2="93.3" stroke="#000" stroke-width="0.9"/>
<line x1="434.4" y1="90.3" x2="434.4" y2="93.3" stroke="#000" stroke-width="0.9"/>
<line x1="435.5" y1="90.3" x2="435.5" y2="93.3" stroke="#000" stroke-width="0.9"/>
<line x1="436.4" y1="90.3" x2="436.4" y2="95.3" stroke="#000" stroke-width="0.9"/>
<line x1="442.8" y1="90.3" x2="442.8" y2="93.3" stroke="#000" stroke-width="0.9"/>
<line x1="446.5" y1="90.3" x2="446.5" y2="93.3" stroke="#000" stroke-width="0.9"/>
<line x1="449.1" y1="90.3" x2="449.1" y2="93.3" stroke="#000" stroke-width="0.9"/>
<line x1="451.2" y1="90.3" x2="451.2" y2="93.3" stroke="#000" stroke-width="0.9"/>
<line x1="452.9" y1="90.3" x2="452.9" y2="93.3" stroke="#000" stroke-width="0.9"/>
<line x1="454.3" y1="90.3" x2="454.3" y2="93.3" stroke="#000" stroke-width="0.9"/>
<line x1="455.5" y1="90.3" x2="455.5" y2="93.3" stroke="#000" stroke-width="0.9"/>
<line x1="456.6" y1="90.3" x2="456.6" y2="93.3" stroke="#000" stroke-width="0.9"/>
<line x1="457.6" y1="90.3" x2="457.6" y2="95.3" stroke="#000" stroke-width="0.9"/>
<line x1="463.9" y1="90.3" x2="463.9" y2="93.3" stroke="#000" stroke-width="0.9"/>
<line x1="467.6" y1="90.3" x2="467.6" y2="93.3" stroke="#000" stroke-width="0.9"/>
<line x1="470.3" y1="90.3" x2="470.3" y2="93.3" stroke="#000" stroke-width="0.9"/>
<line x1="472.3" y1="90.3" x2="472.3" y2="93.3" stroke="#000" stroke-width="0.9"/>
<line x1="474.0" y1="90.3" x2="474.0" y2="93.3" stroke="#000" stroke-width="0.9"/>
<line x1="475.4" y1="90.3" x2="475.4" y2="93.3" stroke="#000" stroke-width="0.9"/>
<line x1="476.6" y1="90.3" x2="476.6" y2="93.3" stroke="#000" stroke-width="0.9"/>
<line x1="477.7" y1="90.3" x2="477.7" y2="93.3" stroke="#000" stroke-width="0.9"/>
<line x1="478.7" y1="90.3" x2="478.7" y2="95.3" stroke="#000" stroke-width="0.9"/>
<line x1="485.0" y1="90.3" x2="485.0" y2="93.3" stroke="#000" stroke-width="0.9"/>
<line x1="488.8" y1="90.3" x2="488.8" y2="93.3" stroke="#000" stroke-width="0.9"/>
<line x1="491.4" y1="90.3" x2="491.4" y2="93.3" stroke="#000" stroke-width="0.9"/>
<line x1="493.4" y1="90.3" x2="493.4" y2="93.3" stroke="#000" stroke-width="0.9"/>
<line x1="495.1" y1="90.3" x2="495.1" y2="93.3" stroke="#000" stroke-width="0.9"/>
<line x1="496.5" y1="90.3" x2="496.5" y2="93.3" stroke="#000" stroke-width="0.9"/>
<line x1="497.8" y1="90.3" x2="497.8" y2="93.3" stroke="#000" stroke-width="0.9"/>
<line x1="498.8" y1="90.3" x2="498.8" y2="93.3" stroke="#000" stroke-width="0.9"/>
<line x1="499.8" y1="90.3" x2="499.8" y2="95.3" stroke="#000" stroke-width="0.9"/>
<line x1="411.8" y1="90.3" x2="415.3" y2="90.3" stroke="#000" stroke-width="0.9"/>
<line x1="413.5" y1="87.5" x2="415.3" y2="87.5" stroke="#000" stroke-width="0.9"/>
<line x1="413.5" y1="85.9" x2="415.3" y2="85.9" stroke="#000" stroke-width="0.9"/>
<line x1="413.5" y1="84.7" x2="415.3" y2="84.7" stroke="#000" stroke-width="0.9"/>
<line x1="413.5" y1="83.8" x2="415.3" y2="83.8" stroke="#000" stroke-width="0.9"/>
<line x1="413.5" y1="83.1" x2="415.3" y2="83.1" stroke="#000" stroke-width="0.9"/>
<line x1="413.5" y1="82.4" x2="415.3" y2="82.4" stroke="#000" stroke-width="0.9"/>
<line x1="413.5" y1="81.9" x2="415.3" y2="81.9" stroke="#000" stroke-width="0.9"/>
<line x1="413.5" y1="81.4" x2="415.3" y2="81.4" stroke="#000" stroke-width="0.9"/>
<line x1="411.8" y1="81.0" x2="415.3" y2="81.0" stroke="#000" stroke-width="0.9"/>
<line x1="413.5" y1="78.2" x2="415.3" y2="78.2" stroke="#000" stroke-width="0.9"/>
<line x1="413.5" y1="76.6" x2="415.3" y2="76.6" stroke="#000" stroke-width="0.9"/>
<line x1="413.5" y1="75.4" x2="415.3" y2="75.4" stroke="#000" stroke-width="0.9"/>
<line x1="413.5" y1="74.5" x2="415.3" y2="74.5" stroke="#000" stroke-width="0.9"/>
<line x1="413.5" y1="73.8" x2="415.3" y2="73.8" stroke="#000" stroke-width="0.9"/>
<line x1="413.5" y1="73.1" x2="415.3" y2="73.1" stroke="#000" stroke-width="0.9"/>
<line x1="413.5" y1="72.6" x2="415.3" y2="72.6" stroke="#000" stroke-width="0.9"/>
<line x1="413.5" y1="72.1" x2="415.3" y2="72.1" stroke="#000" stroke-width="0.9"/>
<line x1="411.8" y1="71.7" x2="415.3" y2="71.7" stroke="#000" stroke-width="0.9"/>
<line x1="413.5" y1="68.9" x2="415.3" y2="68.9" stroke="#000" stroke-width="0.9"/>
<line x1="413.5" y1="67.3" x2="415.3" y2="67.3" stroke="#000" stroke-width="0.9"/>
<line x1="413.5" y1="66.1" x2="415.3" y2="66.1" stroke="#000" stroke-width="0.9"/>
<line x1="413.5" y1="65.2" x2="415.3" y2="65.2" stroke="#000" stroke-width="0.9"/>
<line x1="413.5" y1="64.5" x2="415.3" y2="64.5" stroke="#000" stroke-width="0.9"/>
<line x1="413.5" y1="63.8" x2="415.3" y2="63.8" stroke="#000" stroke-width="0.9"/>
<line x1="413.5" y1="63.3" x2="415.3" y2="63.3" stroke="#000" stroke-width="0.9"/>
<line x1="413.5" y1="62.8" x2="415.3" y2="62.8" stroke="#000" stroke-width="0.9"/>
<line x1="411.8" y1="62.4" x2="415.3" y2="62.4" stroke="#000" stroke-width="0.9"/>
<line x1="413.5" y1="59.6" x2="415.3" y2="59.6" stroke="#000" stroke-width="0.9"/>
<line x1="413.5" y1="58.0" x2="415.3" y2="58.0" stroke="#000" stroke-width="0.9"/>
<line x1="413.5" y1="56.8" x2="415.3" y2="56.8" stroke="#000" stroke-width="0.9"/>
<line x1="413.5" y1="55.9" x2="415.3" y2="55.9" stroke="#000" stroke-width="0.9"/>
<line x1="413.5" y1="55.2" x2="415.3" y2="55.2" stroke="#000" stroke-width="0.9"/>
<line x1="413.5" y1="54.5" x2="415.3" y2="54.5" stroke="#000" stroke-width="0.9"/>
<line x1="413.5" y1="54.0" x2="415.3" y2="54.0" stroke="#000" stroke-width="0.9"/>
<line x1="413.5" y1="53.5" x2="415.3" y2="53.5" stroke="#000" stroke-width="0.9"/>
<line x1="411.8" y1="53.1" x2="415.3" y2="53.1" stroke="#000" stroke-width="0.9"/>
<line x1="413.5" y1="50.3" x2="415.3" y2="50.3" stroke="#000" stroke-width="0.9"/>
<line x1="413.5" y1="48.7" x2="415.3" y2="48.7" stroke="#000" stroke-width="0.9"/>
<line x1="413.5" y1="47.5" x2="415.3" y2="47.5" stroke="#000" stroke-width="0.9"/>
<line x1="413.5" y1="46.6" x2="415.3" y2="46.6" stroke="#000" stroke-width="0.9"/>
<line x1="413.5" y1="45.9" x2="415.3" y2="45.9" stroke="#000" stroke-width="0.9"/>
<line x1="413.5" y1="45.2" x2="415.3" y2="45.2" stroke="#000" stroke-width="0.9"/>
<line x1="413.5" y1="44.7" x2="415.3" y2="44.7" stroke="#000" stroke-width="0.9"/>
<line x1="413.5" y1="44.2" x2="415.3" y2="44.2" stroke="#000" stroke-width="0.9"/>
<line x1="411.8" y1="43.8" x2="415.3" y2="43.8" stroke="#000" stroke-width="0.9"/>
<line x1="413.5" y1="41.0" x2="415.3" y2="41.0" stroke="#000" stroke-width="0.9"/>
<line x1="413.5" y1="39.4" x2="415.3" y2="39.4" stroke="#000" stroke-width="0.9"/>
<line x1="413.5" y1="38.2" x2="415.3" y2="38.2" stroke="#000" stroke-width="0.9"/>
<line x1="413.5" y1="37.3" x2="415.3" y2="37.3" stroke="#000" stroke-width="0.9"/>
<line x1="413.5" y1="36.6" x2="415.3" y2="36.6" stroke="#000" stroke-width="0.9"/>
<line x1="413.5" y1="35.9" x2="415.3" y2="35.9" stroke="#000" stroke-width="0.9"/>
<line x1="413.5" y1="35.4" x2="415.3" y2="35.4" stroke="#000" stroke-width="0.9"/>
<line x1="413.5" y1="34.9" x2="415.3" y2="34.9" stroke="#000" stroke-width="0.9"/>
<line x1="411.8" y1="34.5" x2="415.3" y2="34.5" stroke="#000" stroke-width="0.9"/>
<line x1="413.5" y1="31.7" x2="415.3" y2="31.7" stroke="#000" stroke-width="0.9"/>
<line x1="413.5" y1="30.1" x2="415.3" y2="30.1" stroke="#000" stroke-width="0.9"/>
<line x1="413.5" y1="28.9" x2="415.3" y2="28.9" stroke="#000" stroke-width="0.9"/>
<line x1="413.5" y1="28.0" x2="415.3" y2="28.0" stroke="#000" stroke-width="0.9"/>
<line x1="413.5" y1="27.3" x2="415.3" y2="27.3" stroke="#000" stroke-width="0.9"/>
<line x1="413.5" y1="26.6" x2="415.3" y2="26.6" stroke="#000" stroke-width="0.9"/>
<line x1="413.5" y1="26.1" x2="415.3" y2="26.1" stroke="#000" stroke-width="0.9"/>
<line x1="413.5" y1="25.6" x2="415.3" y2="25.6" stroke="#000" stroke-width="0.9"/>
<line x1="411.8" y1="25.2" x2="415.3" y2="25.2" stroke="#000" stroke-width="0.9"/>
<line x1="415.3" y1="25.2" x2="499.8" y2="25.2" stroke="#333" stroke-width="1.3"/>
<line x1="499.8" y1="25.2" x2="499.8" y2="90.3" stroke="#333" stroke-width="1.3"/>
<line x1="415.3" y1="90.3" x2="499.8" y2="90.3" stroke="#000" stroke-width="1.5"/>
<line x1="415.3" y1="25.2" x2="415.3" y2="90.3" stroke="#000" stroke-width="1.4"/>
<line x1="415.6" y1="25.2" x2="415.6" y2="90.3" stroke="#000" stroke-width="2.6"/>
<line x1="26.0" y1="220.0" x2="26.0" y2="225.0" stroke="#000" stroke-width="0.9"/>
<line x1="32.5" y1="220.0" x2="32.5" y2="223.0" stroke="#000" stroke-width="0.9"/>
<line x1="36.3" y1="220.0" x2="36.3" y2="223.0" stroke="#000" stroke-width="0.9"/>
<line x1="39.0" y1="220.0" x2="39.0" y2="223.0" stroke="#000" stroke-width="0.9"/>
<line x1="41.1" y1="220.0" x2="41.1" y2="223.0" stroke="#000" stroke-width="0.9"/>
<line x1="42.8" y1="220.0" x2="42.8" y2="223.0" stroke="#000" stroke-width="0.9"/>
<line x1="44.3" y1="220.0" x2="44.3" y2="223.0" stroke="#000" stroke-width="0.9"/>
<line x1="45.5" y1="220.0" x2="45.5" y2="223.0" stroke="#000" stroke-width="0.9"/>
<line x1="46.6" y1="220.0" x2="46.6" y2="223.0" stroke="#000" stroke-width="0.9"/>
<line x1="47.6" y1="220.0" x2="47.6" y2="225.0" stroke="#000" stroke-width="0.9"/>
<line x1="54.1" y1="220.0" x2="54.1" y2="223.0" stroke="#000" stroke-width="0.9"/>
<line x1="57.9" y1="220.0" x2="57.9" y2="223.0" stroke="#000" stroke-width="0.9"/>
<line x1="60.6" y1="220.0" x2="60.6" y2="223.0" stroke="#000" stroke-width="0.9"/>
<line x1="62.7" y1="220.0" x2="62.7" y2="223.0" stroke="#000" stroke-width="0.9"/>
<line x1="64.5" y1="220.0" x2="64.5" y2="223.0" stroke="#000" stroke-width="0.9"/>
<line x1="65.9" y1="220.0" x2="65.9" y2="223.0" stroke="#000" stroke-width="0.9"/>
<line x1="67.2" y1="220.0" x2="67.2" y2="223.0" stroke="#000" stroke-width="0.9"/>
<line x1="68.3" y1="220.0" x2="68.3" y2="223.0" stroke="#000" stroke-width="0.9"/>
<line x1="69.2" y1="220.0" x2="69.2" y2="225.0" stroke="#000" stroke-width="0.9"/>
<line x1="75.8" y1="220.0" x2="75.8" y2="223.0" stroke="#000" stroke-width="0.9"/>
<line x1="79.6" y1="220.0" x2="79.6" y2="223.0" stroke="#000" stroke-width="0.9"/>
<line x1="82.3" y1="220.0" x2="82.3" y2="223.0" stroke="#000" stroke-width="0.9"/>
<line x1="84.4" y1="220.0" x2="84.4" y2="223.0" stroke="#000" stroke-width="0.9"/>
<line x1="86.1" y1="220.0" x2="86.1" y2="223.0" stroke="#000" stroke-width="0.9"/>
<line x1="87.5" y1="220.0" x2="87.5" y2="223.0" stroke="#000" stroke-width="0.9"/>
<line x1="88.8" y1="220.0" x2="88.8" y2="223.0" stroke="#000" stroke-width="0.9"/>
<line x1="89.9" y1="220.0" x2="89.9" y2="223.0" stroke="#000" stroke-width="0.9"/>
<line x1="90.9" y1="220.0" x2="90.9" y2="225.0" stroke="#000" stroke-width="0.9"/>
<line x1="97.4" y1="220.0" x2="97.4" y2="223.0" stroke="#000" stroke-width="0.9"/>
<line x1="101.2" y1="220.0" x2="101.2" y2="223.0" stroke="#000" stroke-width="0.9"/>
<line x1="103.9" y1="220.0" x2="103.9" y2="223.0" stroke="#000" stroke-width="0.9"/>
<line x1="106.0" y1="220.0" x2="106.0" y2="223.0" stroke="#000" stroke-width="0.9"/>
<line x1="107.7" y1="220.0" x2="107.7" y2="223.0" stroke="#000" stroke-width="0.9"/>
<line x1="109.2" y1="220.0" x2="109.2" y2="223.0" stroke="#000" stroke-width="0.9"/>
<line x1="110.4" y1="220.0" x2="110.4" y2="223.0" stroke="#000" stroke-width="0.9"/>
<line x1="111.5" y1="220.0" x2="111.5" y2="223.0" stroke="#000" stroke-width="0.9"/>
<line x1="112.5" y1="220.0" x2="112.5" y2="225.0" stroke="#000" stroke-width="0.9"/>
<line x1="22.5" y1="220.0" x2="26.0" y2="220.0" stroke="#000" stroke-width="0.9"/>
<line x1="24.2" y1="217.6" x2="26.0" y2="217.6" stroke="#000" stroke-width="0.9"/>
<line x1="24.2" y1="216.1" x2="26.0" y2="216.1" stroke="#000" stroke-width="0.9"/>
<line x1="24.2" y1="215.1" x2="26.0" y2="215.1" stroke="#000" stroke-width="0.9"/>
<line x1="24.2" y1="214.3" x2="26.0" y2="214.3" stroke="#000" stroke-width="0.9"/>
<line x1="24.2" y1="213.7" x2="26.0" y2="213.7" stroke="#000" stroke-width="0.9"/>
<line x1="24.2" y1="213.1" x2="26.0" y2="213.1" stroke="#000" stroke-width="0.9"/>
<line x1="24.2" y1="212.7" x2="26.0" y2="212.7" stroke="#000" stroke-width="0.9"/>
<line x1="24.2" y1="212.2" x2="26.0" y2="212.2" stroke="#000" stroke-width="0.9"/>
<line x1="22.5" y1="211.9" x2="26.0" y2="211.9" stroke="#000" stroke-width="0.9"/>
<line x1="24.2" y1="209.4" x2="26.0" y2="209.4" stroke="#000" stroke-width="0.9"/>
<line x1="24.2" y1="208.0" x2="26.0" y2="208.0" stroke="#000" stroke-width="0.9"/>
<line x1="24.2" y1="207.0" x2="26.0" y2="207.0" stroke="#000" stroke-width="0.9"/>
<line x1="24.2" y1="206.2" x2="26.0" y2="206.2" stroke="#000" stroke-width="0.9"/>
<line x1="24.2" y1="205.6" x2="26.0" y2="205.6" stroke="#000" stroke-width="0.9"/>
<line x1="24.2" y1="205.0" x2="26.0" y2="205.0" stroke="#000" stroke-width="0.9"/>
<line x1="24.2" y1="204.5" x2="26.0" y2="204.5" stroke="#000" stroke-width="0.9"/>
<line x1="24.2" y1="204.1" x2="26.0" y2="204.1" stroke="#000" stroke-width="0.9"/>
<line x1="22.5" y1="203.8" x2="26.0" y2="203.8" stroke="#000" stroke-width="0.9"/>
<line x1="24.2" y1="201.3" x2="26.0" y2="201.3" stroke="#000" stroke-width="0.9"/>
<line x1="24.2" y1="199.9" x2="26.0" y2="199.9" stroke="#000" stroke-width="0.9"/>
<line x1="24.2" y1="198.9" x2="26.0" y2="198.9" stroke="#000" stroke-width="0.9"/>
<line x1="24.2" y1="198.1" x2="26.0" y2="198.1" stroke="#000" stroke-width="0.9"/>
<line x1="24.2" y1="197.4" x2="26.0" y2="197.4" stroke="#000" stroke-width="0.9"/>
<line x1="24.2" y1="196.9" x2="26.0" y2="196.9" stroke="#000" stroke-width="0.9"/>
<line x1="24.2" y1="196.4" x2="26.0" y2="196.4" stroke="#000" stroke-width="0.9"/>
<line x1="24.2" y1="196.0" x2="26.0" y2="196.0" stroke="#000" stroke-width="0.9"/>
<line x1="22.5" y1="195.6" x2="26.0" y2="195.6" stroke="#000" stroke-width="0.9"/>
<line x1="24.2" y1="193.2" x2="26.0" y2="193.2" stroke="#000" stroke-width="0.9"/>
<line x1="24.2" y1="191.7" x2="26.0" y2="191.7" stroke="#000" stroke-width="0.9"/>
<line x1="24.2" y1="190.7" x2="26.0" y2="190.7" stroke="#000" stroke-width="0.9"/>
<line x1="24.2" y1="189.9" x2="26.0" y2="189.9" stroke="#000" stroke-width="0.9"/>
<line x1="24.2" y1="189.3" x2="26.0" y2="189.3" stroke="#000" stroke-width="0.9"/>
<line x1="24.2" y1="188.8" x2="26.0" y2="188.8" stroke="#000" stroke-width="0.9"/>
<line x1="24.2" y1="188.3" x2="26.0" y2="188.3" stroke="#000" stroke-width="0.9"/>
<line x1="24.2" y1="187.9" x2="26.0" y2="187.9" stroke="#000" stroke-width="0.9"/>
<line x1="22.5" y1="187.5" x2="26.0" y2="187.5" stroke="#000" stroke-width="0.9"/>
<line x1="24.2" y1="185.1" x2="26.0" y2="185.1" stroke="#000" stroke-width="0.9"/>
<line x1="24.2" y1="183.6" x2="26.0" y2="183.6" stroke="#000" stroke-width="0.9"/>
<line x1="24.2" y1="182.6" x2="26.0" y2="182.6" stroke="#000" stroke-width="0.9"/>
<line x1="24.2" y1="181.8" x2="26.0" y2="181.8" stroke="#000" stroke-width="0.9"/>
<line x1="24.2" y1="181.2" x2="26.0" y2="181.2" stroke="#000" stroke-width="0.9"/>
<line x1="24.2" y1="180.6" x2="26.0" y2="180.6" stroke="#000" stroke-width="0.9"/>
<line x1="24.2" y1="180.2" x2="26.0" y2="180.2" stroke="#000" stroke-width="0.9"/>
<line x1="24.2" y1="179.7" x2="26.0" y2="179.7" stroke="#000" stroke-width="0.9"/>
<line x1="22.5" y1="179.4" x2="26.0" y2="179.4" stroke="#000" stroke-width="0.9"/>
<line x1="24.2" y1="176.9" x2="26.0" y2="176.9" stroke="#000" stroke-width="0.9"/>
<line x1="24.2" y1="175.5" x2="26.0" y2="175.5" stroke="#000" stroke-width="0.9"/>
<line x1="24.2" y1="174.5" x2="26.0" y2="174.5" stroke="#000" stroke-width="0.9"/>
<line x1="24.2" y1="173.7" x2="26.0" y2="173.7" stroke="#000" stroke-width="0.9"/>
<line x1="24.2" y1="173.1" x2="26.0" y2="173.1" stroke="#000" stroke-width="0.9"/>
<line x1="24.2" y1="172.5" x2="26.0" y2="172.5" stroke="#000" stroke-width="0.9"/>
<line x1="24.2" y1="172.0" x2="26.0" y2="172.0" stroke="#000" stroke-width="0.9"/>
<line x1="24.2" y1="171.6" x2="26.0" y2="171.6" stroke="#000" stroke-width="0.9"/>
<line x1="22.5" y1="171.2" x2="26.0" y2="171.2" stroke="#000" stroke-width="0.9"/>
<line x1="24.2" y1="168.8" x2="26.0" y2="168.8" stroke="#000" stroke-width="0.9"/>
<line x1="24.2" y1="167.4" x2="26.0" y2="167.4" stroke="#000" stroke-width="0.9"/>
<line x1="24.2" y1="166.4" x2="26.0" y2="166.4" stroke="#000" stroke-width="0.9"/>
<line x1="24.2" y1="165.6" x2="26.0" y2="165.6" stroke="#000" stroke-width="0.9"/>
<line x1="24.2" y1="164.9" x2="26.0" y2="164.9" stroke="#000" stroke-width="0.9"/>
<line x1="24.2" y1="164.4" x2="26.0" y2="164.4" stroke="#000" stroke-width="0.9"/>
<line x1="24.2" y1="163.9" x2="26.0" y2="163.9" stroke="#000" stroke-width="0.9"/>
<line x1="24.2" y1="163.5" x2="26.0" y2="163.5" stroke="#000" stroke-width="0.9"/>
<line x1="22.5" y1="163.1" x2="26.0" y2="163.1" stroke="#000" stroke-width="0.9"/>
<line x1="24.2" y1="160.7" x2="26.0" y2="160.7" stroke="#000" stroke-width="0.9"/>
<line x1="24.2" y1="159.2" x2="26.0" y2="159.2" stroke="#000" stroke-width="0.9"/>
<line x1="24.2" y1="158.2" x2="26.0" y2="158.2" stroke="#000" stroke-width="0.9"/>
<line x1="24.2" y1="157.4" x2="26.0" y2="157.4" stroke="#000" stroke-width="0.9"/>
<line x1="24.2" y1="156.8" x2="26.0" y2="156.8" stroke="#000" stroke-width="0.9"/>
<line x1="24.2" y1="156.3" x2="26.0" y2="156.3" stroke="#000" stroke-width="0.9"/>
<line x1="24.2" y1="155.8" x2="26.0" y2="155.8" stroke="#000" stroke-width="0.9"/>
<line x1="24.2" y1="155.4" x2="26.0" y2="155.4" stroke="#000" stroke-width="0.9"/>
<line x1="22.5" y1="155.0" x2="26.0" y2="155.0" stroke="#000" stroke-width="0.9"/>
<line x1="26.0" y1="155.0" x2="112.5" y2="155.0" stroke="#333" stroke-width="1.3"/>
<line x1="112.5" y1="155.0" x2="112.5" y2="220.0" stroke="#333" stroke-width="1.3"/>
<line x1="26.0" y1="220.0" x2="112.5" y2="220.0" stroke="#000" stroke-width="1.5"/>
<line x1="26.0" y1="155.0" x2="26.0" y2="220.0" stroke="#000" stroke-width="1.6"/>
<line x1="126.0" y1="219.7" x2="126.0" y2="224.7" stroke="#000" stroke-width="0.9"/>
<line x1="132.8" y1="219.7" x2="132.8" y2="222.7" stroke="#000" stroke-width="0.9"/>
<line x1="136.9" y1="219.7" x2="136.9" y2="222.7" stroke="#000" stroke-width="0.9"/>
<line x1="139.7" y1="219.7" x2="139.7" y2="222.7" stroke="#000" stroke-width="0.9"/>
<line x1="141.9" y1="219.7" x2="141.9" y2="222.7" stroke="#000" stroke-width="0.9"/>
<line x1="143.7" y1="219.7" x2="143.7" y2="222.7" stroke="#000" stroke-width="0.9"/>
<line x1="145.2" y1="219.7" x2="145.2" y2="222.7" stroke="#000" stroke-width="0.9"/>
<line x1="146.5" y1="219.7" x2="146.5" y2="222.7" stroke="#000" stroke-width="0.9"/>
<line x1="147.7" y1="219.7" x2="147.7" y2="222.7" stroke="#000" stroke-width="0.9"/>
<line x1="148.8" y1="219.7" x2="148.8" y2="224.7" stroke="#000" stroke-width="0.9"/>
<line x1="155.6" y1="219.7" x2="155.6" y2="222.7" stroke="#000" stroke-width="0.9"/>
<line x1="159.6" y1="219.7" x2="159.6" y2="222.7" stroke="#000" stroke-width="0.9"/>
<line x1="162.4" y1="219.7" x2="162.4" y2="222.7" stroke="#000" stroke-width="0.9"/>
<line x1="164.7" y1="219.7" x2="164.7" y2="222.7" stroke="#000" stroke-width="0.9"/>
<line x1="166.5" y1="219.7" x2="166.5" y2="222.7" stroke="#000" stroke-width="0.9"/>
<line x1="168.0" y1="219.7" x2="168.0" y2="222.7" stroke="#000" stroke-width="0.9"/>
<line x1="169.3" y1="219.7" x2="169.3" y2="222.7" stroke="#000" stroke-width="0.9"/>
<line x1="170.5" y1="219.7" x2="170.5" y2="222.7" stroke="#000" stroke-width="0.9"/>
<line x1="171.5" y1="219.7" x2="171.5" y2="224.7" stroke="#000" stroke-width="0.9"/>
<line x1="178.3" y1="219.7" x2="178.3" y2="222.7" stroke="#000" stroke-width="0.9"/>
<line x1="182.4" y1="219.7" x2="182.4" y2="222.7" stroke="#000" stroke-width="0.9"/>
<line x1="185.2" y1="219.7" x2="185.2" y2="222.7" stroke="#000" stroke-width="0.9"/>
<line x1="187.4" y1="219.7" x2="187.4" y2="222.7" stroke="#000" stroke-width="0.9"/>
<line x1="189.2" y1="219.7" x2="189.2" y2="222.7" stroke="#000" stroke-width="0.9"/>
<line x1="190.7" y1="219.7" x2="190.7" y2="222.7" stroke="#000" stroke-width="0.9"/>
<line x1="192.0" y1="219.7" x2="192.0" y2="222.7" stroke="#000" stroke-width="0.9"/>
<line x1="193.2" y1="219.7" x2="193.2" y2="222.7" stroke="#000" stroke-width="0.9"/>
<line x1="194.2" y1="219.7" x2="194.2" y2="224.7" stroke="#000" stroke-width="0.9"/>
<line x1="201.1" y1="219.7" x2="201.1" y2="222.7" stroke="#000" stroke-width="0.9"/>
<line x1="205.1" y1="219.7" x2="205.1" y2="222.7" stroke="#000" stroke-width="0.9"/>
<line x1="207.9" y1="219.7" x2="207.9" y2="222.7" stroke="#000" stroke-width="0.9"/>
<line x1="210.2" y1="219.7" x2="210.2" y2="222.7" stroke="#000" stroke-width="0.9"/>
<line x1="212.0" y1="219.7" x2="212.0" y2="222.7" stroke="#000" stroke-width="0.9"/>
<line x1="213.5" y1="219.7" x2="213.5" y2="222.7" stroke="#000" stroke-width="0.9"/>
<line x1="214.8" y1="219.7" x2="214.8" y2="222.7" stroke="#000" stroke-width="0.9"/>
<line x1="216.0" y1="219.7" x2="216.0" y2="222.7" stroke="#000" stroke-width="0.9"/>
<line x1="217.0" y1="219.7" x2="217.0" y2="224.7" stroke="#000" stroke-width="0.9"/>
<line x1="122.5" y1="219.7" x2="126.0" y2="219.7" stroke="#000" stroke-width="0.9"/>
<line x1="124.2" y1="217.0" x2="126.0" y2="217.0" stroke="#000" stroke-width="0.9"/>
<line x1="124.2" y1="215.4" x2="126.0" y2="215.4" stroke="#000" stroke-width="0.9"/>
<line x1="124.2" y1="214.3" x2="126.0" y2="214.3" stroke="#000" stroke-width="0.9"/>
<line x1="124.2" y1="213.4" x2="126.0" y2="213.4" stroke="#000" stroke-width="0.9"/>
<line x1="124.2" y1="212.7" x2="126.0" y2="212.7" stroke="#000" stroke-width="0.9"/>
<line x1="124.2" y1="212.1" x2="126.0" y2="212.1" stroke="#000" stroke-width="0.9"/>
<line x1="124.2" y1="211.5" x2="126.0" y2="211.5" stroke="#000" stroke-width="0.9"/>
<line x1="124.2" y1="211.1" x2="126.0" y2="211.1" stroke="#000" stroke-width="0.9"/>
<line x1="122.5" y1="210.7" x2="126.0" y2="210.7" stroke="#000" stroke-width="0.9"/>
<line x1="124.2" y1="208.0" x2="126.0" y2="208.0" stroke="#000" stroke-width="0.9"/>
<line x1="124.2" y1="206.4" x2="126.0" y2="206.4" stroke="#000" stroke-width="0.9"/>
<line x1="124.2" y1="205.2" x2="126.0" y2="205.2" stroke="#000" stroke-width="0.9"/>
<line x1="124.2" y1="204.4" x2="126.0" y2="204.4" stroke="#000" stroke-width="0.9"/>
<line x1="124.2" y1="203.6" x2="126.0" y2="203.6" stroke="#000" stroke-width="0.9"/>
<line x1="124.2" y1="203.0" x2="126.0" y2="203.0" stroke="#000" stroke-width="0.9"/>
<line x1="124.2" y1="202.5" x2="126.0" y2="202.5" stroke="#000" stroke-width="0.9"/>
<line x1="124.2" y1="202.1" x2="126.0" y2="202.1" stroke="#000" stroke-width="0.9"/>
<line x1="122.5" y1="201.6" x2="126.0" y2="201.6" stroke="#000" stroke-width="0.9"/>
<line x1="124.2" y1="198.9" x2="126.0" y2="198.9" stroke="#000" stroke-width="0.9"/>
<line x1="124.2" y1="197.3" x2="126.0" y2="197.3" stroke="#000" stroke-width="0.9"/>
<line x1="124.2" y1="196.2" x2="126.0" y2="196.2" stroke="#000" stroke-width="0.9"/>
<line x1="124.2" y1="195.3" x2="126.0" y2="195.3" stroke="#000" stroke-width="0.9"/>
<line x1="124.2" y1="194.6" x2="126.0" y2="194.6" stroke="#000" stroke-width="0.9"/>
<line x1="124.2" y1="194.0" x2="126.0" y2="194.0" stroke="#000" stroke-width="0.9"/>
<line x1="124.2" y1="193.5" x2="126.0" y2="193.5" stroke="#000" stroke-width="0.9"/>
<line x1="124.2" y1="193.0" x2="126.0" y2="193.0" stroke="#000" stroke-width="0.9"/>
<line x1="122.5" y1="192.6" x2="126.0" y2="192.6" stroke="#000" stroke-width="0.9"/>
<line x1="124.2" y1="189.9" x2="126.0" y2="189.9" stroke="#000" stroke-width="0.9"/>
<line x1="124.2" y1="188.3" x2="126.0" y2="188.3" stroke="#000" stroke-width="0.9"/>
<line x1="124.2" y1="187.2" x2="126.0" y2="187.2" stroke="#000" stroke-width="0.9"/>
<line x1="124.2" y1="186.3" x2="126.0" y2="186.3" stroke="#000" stroke-width="0.9"/>
<line x1="124.2" y1="185.6" x2="126.0" y2="185.6" stroke="#000" stroke-width="0.9"/>
<line x1="124.2" y1="185.0" x2="126.0" y2="185.0" stroke="#000" stroke-width="0.9"/>
<line x1="124.2" y1="184.5" x2="126.0" y2="184.5" stroke="#000" stroke-width="0.9"/>
<line x1="124.2" y1="184.0" x2="126.0" y2="184.0" stroke="#000" stroke-width="0.9"/>
<line x1="122.5" y1="183.6" x2="126.0" y2="183.6" stroke="#000" stroke-width="0.9"/>
<line x1="124.2" y1="180.9" x2="126.0" y2="180.9" stroke="#000" stroke-width="0.9"/>
<line x1="124.2" y1="179.3" x2="126.0" y2="179.3" stroke="#000" stroke-width="0.9"/>
<line x1="124.2" y1="178.1" x2="126.0" y2="178.1" stroke="#000" stroke-width="0.9"/>
<line x1="124.2" y1="177.3" x2="126.0" y2="177.3" stroke="#000" stroke-width="0.9"/>
<line x1="124.2" y1="176.6" x2="126.0" y2="176.6" stroke="#000" stroke-width="0.9"/>
<line x1="124.2" y1="176.0" x2="126.0" y2="176.0" stroke="#000" stroke-width="0.9"/>
<line x1="124.2" y1="175.4" x2="126.0" y2="175.4" stroke="#000" stroke-width="0.9"/>
<line x1="124.2" y1="175.0" x2="126.0" y2="175.0" stroke="#000" stroke-width="0.9"/>
<line x1="122.5" y1="174.6" x2="126.0" y2="174.6" stroke="#000" stroke-width="0.9"/>
<line x1="124.2" y1="171.8" x2="126.0" y2="171.8" stroke="#000" stroke-width="0.9"/>
<line x1="124.2" y1="170.2" x2="126.0" y2="170.2" stroke="#000" stroke-width="0.9"/>
<line x1="124.2" y1="169.1" x2="126.0" y2="169.1" stroke="#000" stroke-width="0.9"/>
<line x1="124.2" y1="168.2" x2="126.0" y2="168.2" stroke="#000" stroke-width="0.9"/>
<line x1="124.2" y1="167.5" x2="126.0" y2="167.5" stroke="#000" stroke-width="0.9"/>
<line x1="124.2" y1="166.9" x2="126.0" y2="166.9" stroke="#000" stroke-width="0.9"/>
<line x1="124.2" y1="166.4" x2="126.0" y2="166.4" stroke="#000" stroke-width="0.9"/>
<line x1="124.2" y1="165.9" x2="126.0" y2="165.9" stroke="#000" stroke-width="0.9"/>
<line x1="122.5" y1="165.5" x2="126.0" y2="165.5" stroke="#000" stroke-width="0.9"/>
<line x1="124.2" y1="162.8" x2="126.0" y2="162.8" stroke="#000" stroke-width="0.9"/>
<line x1="124.2" y1="161.2" x2="126.0" y2="161.2" stroke="#000" stroke-width="0.9"/>
<line x1="124.2" y1="160.1" x2="126.0" y2="160.1" stroke="#000" stroke-width="0.9"/>
<line x1="124.2" y1="159.2" x2="126.0" y2="159.2" stroke="#000" stroke-width="0.9"/>
<line x1="124.2" y1="158.5" x2="126.0" y2="158.5" stroke="#000" stroke-width="0.9"/>
<line x1="124.2" y1="157.9" x2="126.0" y2="157.9" stroke="#000" stroke-width="0.9"/>
<line x1="124.2" y1="157.4" x2="126.0" y2="157.4" stroke="#000" stroke-width="0.9"/>
<line x1="124.2" y1="156.9" x2="126.0" y2="156.9" stroke="#000" stroke-width="0.9"/>
<line x1="122.5" y1="156.5" x2="126.0" y2="156.5" stroke="#000" stroke-width="0.9"/>
<line x1="126.0" y1="156.5" x2="217.0" y2="156.5" stroke="#333" stroke-width="1.3"/>
<line x1="217.0" y1="156.5" x2="217.0" y2="219.7" stroke="#888" stroke-width="1.3"/>
<line x1="126.0" y1="219.7" x2="217.0" y2="219.7" stroke="#000" stroke-width="1.5"/>
<line x1="126.0" y1="156.5" x2="126.0" y2="219.7" stroke="#000" stroke-width="1.4"/>
<line x1="126.3" y1="187.8" x2="126.3" y2="219.7" stroke="#000" stroke-width="2.6"/>
<line x1="32.5" y1="108" x2="51" y2="108" stroke="#000" stroke-width="1.6"/>
<line x1="79.0" y1="108.0" x2="98.2" y2="108.0" stroke="#000" stroke-width="1.6"/><polygon points="105.0,108.0 96.0,110.9 98.2,108.0 96.0,105.1" fill="#000"/>
<text x="59" y="112.5" font-size="15">β<tspan font-size="9" dy="2.5">1</tspan></text>
<line x1="125.2" y1="108.1" x2="143.4" y2="108.1" stroke="#000" stroke-width="1.6"/>
<line x1="177.1" y1="108.1" x2="196.8" y2="108.1" stroke="#000" stroke-width="1.6"/><polygon points="203.5,108.1 194.5,111.0 196.8,108.1 194.5,105.2" fill="#000"/>
<text transform="translate(154.82,110.70) scale(1.13,1)" font-size="15">α</text>
<text x="165.30" y="114.70" font-size="10">2</text>
<line x1="224.9" y1="108.1" x2="242.2" y2="108.1" stroke="#000" stroke-width="1.6"/>
<line x1="276.0" y1="108.1" x2="296.1" y2="108.1" stroke="#000" stroke-width="1.6"/><polygon points="302.8,108.1 293.8,111.0 296.1,108.1 293.8,105.2" fill="#000"/>
<text transform="translate(255.82,110.70) scale(1.13,1)" font-size="15">α</text>
<text x="265.40" y="113.90" font-size="10">4</text>
<line x1="316.2" y1="105.9" x2="333.5" y2="105.9" stroke="#000" stroke-width="1.6"/>
<text x="342.2" y="111" font-size="15">α<tspan font-size="9" dy="2.5">4</tspan><tspan dy="-2.5">β</tspan><tspan font-size="9" dy="2.5">7</tspan></text>
<line x1="373.2" y1="105.9" x2="392.8" y2="105.9" stroke="#000" stroke-width="1.6"/><polygon points="399.5,105.9 390.5,108.8 392.8,105.9 390.5,103.0" fill="#000"/>
<line x1="415.5" y1="108.1" x2="435" y2="108.1" stroke="#000" stroke-width="1.6"/>
<line x1="468.5" y1="108.1" x2="487.8" y2="108.1" stroke="#000" stroke-width="1.6"/><polygon points="494.5,108.1 485.5,111.0 487.8,108.1 485.5,105.2" fill="#000"/>
<text transform="translate(445.92,111.50) scale(1.13,1)" font-size="15">α</text>
<text x="455.60" y="114.70" font-size="10">5</text>
<line x1="31" y1="238" x2="49" y2="238" stroke="#000" stroke-width="1.6"/>
<line x1="82.7" y1="238.0" x2="102.2" y2="238.0" stroke="#000" stroke-width="1.6"/><polygon points="109.0,238.0 100.0,240.9 102.2,238.0 100.0,235.1" fill="#000"/>
<text transform="translate(60.12,241.60) scale(1.13,1)" font-size="15">α</text>
<text x="69.70" y="244.70" font-size="10">6</text>
<line x1="134" y1="239" x2="151" y2="239" stroke="#000" stroke-width="1.6"/>
<line x1="184.1" y1="239.0" x2="203.2" y2="239.0" stroke="#000" stroke-width="1.6"/><polygon points="210.0,239.0 201.0,241.9 203.2,239.0 201.0,236.1" fill="#000"/>
<text transform="translate(161.82,242.00) scale(1.13,1)" font-size="15">α</text>
<text x="171.70" y="245.40" font-size="10">9</text>
<line x1="354.9" y1="148.6" x2="354.9" y2="252.9" stroke="#888" stroke-width="1"/>
<line x1="352.4" y1="252.90" x2="354.9" y2="252.90" stroke="#888" stroke-width="1"/>
<line x1="352.4" y1="235.52" x2="354.9" y2="235.52" stroke="#888" stroke-width="1"/>
<line x1="352.4" y1="218.13" x2="354.9" y2="218.13" stroke="#888" stroke-width="1"/>
<line x1="352.4" y1="200.75" x2="354.9" y2="200.75" stroke="#888" stroke-width="1"/>
<line x1="352.4" y1="183.37" x2="354.9" y2="183.37" stroke="#888" stroke-width="1"/>
<line x1="352.4" y1="165.98" x2="354.9" y2="165.98" stroke="#888" stroke-width="1"/>
<line x1="352.4" y1="148.60" x2="354.9" y2="148.60" stroke="#888" stroke-width="1"/>
<line x1="354.9" y1="252.9" x2="429" y2="252.9" stroke="#555" stroke-width="1"/>
<line x1="392.1" y1="252.9" x2="392.1" y2="255.4" stroke="#888" stroke-width="1"/>
<line x1="429" y1="252.9" x2="429" y2="255.4" stroke="#888" stroke-width="1"/>
<text x="346.30" y="257.80" font-size="12" text-anchor="end">0</text>
<text x="346.30" y="224.60" font-size="12" text-anchor="end">20</text>
<text x="346.30" y="190.50" font-size="12" text-anchor="end">40</text>
<text x="346.30" y="153.30" font-size="12" text-anchor="end">60</text>
<line x1="373.3" y1="200.1" x2="373.3" y2="183.2" stroke="#000" stroke-width="1.4"/>
<polygon points="371.3,183.2 375.3,183.2 374.1,184.79999999999998 372.5,184.79999999999998" fill="#000"/>
<rect x="366.5" y="201.29999999999998" width="14.499999999999977" height="51.00000000000001" fill="#fff" stroke="#000" stroke-width="2.4"/>
<line x1="410.8" y1="161.4" x2="410.8" y2="153.3" stroke="#000" stroke-width="1.4"/>
<polygon points="408.8,153.3 412.8,153.3 411.6,154.9 410.0,154.9" fill="#000"/>
<rect x="403.5" y="162.6" width="15.299999999999988" height="89.69999999999999" fill="#707070" stroke="#000" stroke-width="2.4"/>
<text x="407.40" y="147.90" font-size="16" font-weight="bold">*</text>
<text transform="translate(327.20,245.60) rotate(-90)" font-size="12.3" font-weight="bold">LSK/femur (x10<tspan font-size="9" dy="-4.5">3</tspan><tspan dy="4.5">)</tspan></text>
<rect x="429.75" y="157.3" width="29.85" height="12.1" fill="#fff" stroke="#000" stroke-width="2"/>
<rect x="430" y="185.1" width="28.8" height="12" fill="#707070" stroke="#000" stroke-width="2"/>
<text x="465.69" y="168.29" font-size="13">β</text><text x="473.30" y="170.96" font-size="9.5">1</text><text x="479.00" y="165.55" font-size="9" font-weight="bold">+/+</text>
<text x="465.69" y="195.69" font-size="13">β</text><text x="473.30" y="198.36" font-size="9.5">1</text><text x="479.00" y="191.91" font-size="9" font-weight="bold">Δ/Δ</text>
<line x1="50.9" y1="417.3" x2="242" y2="417.3" stroke="#555" stroke-width="1"/>
<line x1="120.9" y1="417.3" x2="120.9" y2="419.8" stroke="#888" stroke-width="1"/>
<line x1="190.7" y1="417.3" x2="190.7" y2="419.8" stroke="#888" stroke-width="1"/>
<line x1="50.9" y1="293.5" x2="50.9" y2="417.3" stroke="#888" stroke-width="1"/>
<line x1="48.4" y1="417.30" x2="50.9" y2="417.30" stroke="#888" stroke-width="1"/>
<line x1="48.4" y1="396.67" x2="50.9" y2="396.67" stroke="#888" stroke-width="1"/>
<line x1="48.4" y1="376.03" x2="50.9" y2="376.03" stroke="#888" stroke-width="1"/>
<line x1="48.4" y1="355.40" x2="50.9" y2="355.40" stroke="#888" stroke-width="1"/>
<line x1="48.4" y1="334.77" x2="50.9" y2="334.77" stroke="#888" stroke-width="1"/>
<line x1="48.4" y1="314.13" x2="50.9" y2="314.13" stroke="#888" stroke-width="1"/>
<line x1="48.4" y1="293.50" x2="50.9" y2="293.50" stroke="#888" stroke-width="1"/>
<text x="47.20" y="300.90" font-size="12" text-anchor="end">30</text>
<text x="47.20" y="321.90" font-size="12" text-anchor="end">25</text>
<text x="47.20" y="342.80" font-size="12" text-anchor="end">20</text>
<text x="47.20" y="363.30" font-size="12" text-anchor="end">15</text>
<text x="47.20" y="383.50" font-size="12" text-anchor="end">10</text>
<text x="47.20" y="403.70" font-size="12" text-anchor="end">5</text>
<text x="47.20" y="424.20" font-size="12" text-anchor="end">0</text>
<line x1="64" y1="325.7" x2="64" y2="320.5" stroke="#000" stroke-width="1.4"/>
<polygon points="62,320.5 66,320.5 64.8,322.1 63.2,322.1" fill="#000"/>
<rect x="58.300000000000004" y="326.9" width="14.099999999999993" height="89.9" fill="#fff" stroke="#000" stroke-width="2.4"/>
<line x1="79.2" y1="304" x2="79.2" y2="297.5" stroke="#000" stroke-width="1.4"/>
<polygon points="77.2,297.5 81.2,297.5 80.0,299.1 78.4,299.1" fill="#000"/>
<rect x="72.4" y="305.2" width="13.999999999999991" height="111.6" fill="#707070" stroke="#000" stroke-width="2.4"/>
<text x="75.90" y="299.00" font-size="16" font-weight="bold">*</text>
<text transform="translate(28.50,411.40) rotate(-90)" font-size="12.3" font-weight="bold">Cell number (x10<tspan font-size="9" dy="-4.5">6</tspan><tspan dy="4.5">)</tspan></text>
<line x1="121.2" y1="291.5" x2="121.2" y2="417.3" stroke="#888" stroke-width="1"/>
<line x1="118.7" y1="291.50" x2="121.2" y2="291.50" stroke="#888" stroke-width="1"/>
<line x1="118.7" y1="315.20" x2="121.2" y2="315.20" stroke="#888" stroke-width="1"/>
<line x1="118.7" y1="340.80" x2="121.2" y2="340.80" stroke="#888" stroke-width="1"/>
<line x1="118.7" y1="366.40" x2="121.2" y2="366.40" stroke="#888" stroke-width="1"/>
<line x1="118.7" y1="391.50" x2="121.2" y2="391.50" stroke="#888" stroke-width="1"/>
<line x1="118.7" y1="417.10" x2="121.2" y2="417.10" stroke="#888" stroke-width="1"/>
<text x="114.70" y="295.80" font-size="12" text-anchor="end">250</text>
<text x="114.70" y="323.70" font-size="12" text-anchor="end">200</text>
<text x="114.70" y="346.30" font-size="12" text-anchor="end">150</text>
<text x="114.70" y="373.50" font-size="12" text-anchor="end">100</text>
<text x="114.70" y="400.90" font-size="12" text-anchor="end">50</text>
<line x1="138" y1="328.2" x2="138" y2="318.1" stroke="#000" stroke-width="1.4"/>
<polygon points="136,318.1 140,318.1 138.8,319.70000000000005 137.2,319.70000000000005" fill="#000"/>
<rect x="131.6" y="329.4" width="15.1" height="87.4" fill="#fff" stroke="#000" stroke-width="2.4"/>
<line x1="152.9" y1="323.1" x2="152.9" y2="307.7" stroke="#000" stroke-width="1.4"/>
<polygon points="150.9,307.7 154.9,307.7 153.70000000000002,309.3 152.1,309.3" fill="#000"/>
<rect x="146.7" y="324.3" width="13.400000000000011" height="92.49999999999997" fill="#707070" stroke="#000" stroke-width="2.4"/>
<line x1="190.7" y1="291.3" x2="190.7" y2="417.3" stroke="#888" stroke-width="1"/>
<line x1="188.2" y1="417.30" x2="190.7" y2="417.30" stroke="#888" stroke-width="1"/>
<line x1="188.2" y1="403.30" x2="190.7" y2="403.30" stroke="#888" stroke-width="1"/>
<line x1="188.2" y1="389.30" x2="190.7" y2="389.30" stroke="#888" stroke-width="1"/>
<line x1="188.2" y1="375.30" x2="190.7" y2="375.30" stroke="#888" stroke-width="1"/>
<line x1="188.2" y1="361.30" x2="190.7" y2="361.30" stroke="#888" stroke-width="1"/>
<line x1="188.2" y1="347.30" x2="190.7" y2="347.30" stroke="#888" stroke-width="1"/>
<line x1="188.2" y1="333.30" x2="190.7" y2="333.30" stroke="#888" stroke-width="1"/>
<line x1="188.2" y1="319.30" x2="190.7" y2="319.30" stroke="#888" stroke-width="1"/>
<line x1="188.2" y1="305.30" x2="190.7" y2="305.30" stroke="#888" stroke-width="1"/>
<line x1="188.2" y1="291.30" x2="190.7" y2="291.30" stroke="#888" stroke-width="1"/>
<text x="187.40" y="297.40" font-size="12" text-anchor="end">18</text>
<text x="187.40" y="311.40" font-size="12" text-anchor="end">16</text>
<text x="187.40" y="325.30" font-size="12" text-anchor="end">14</text>
<text x="187.40" y="339.30" font-size="12" text-anchor="end">12</text>
<text x="187.40" y="353.30" font-size="12" text-anchor="end">10</text>
<text x="187.40" y="369.50" font-size="12" text-anchor="end">8</text>
<text x="187.40" y="383.50" font-size="12" text-anchor="end">6</text>
<text x="187.40" y="396.70" font-size="12" text-anchor="end">4</text>
<text x="187.40" y="410.20" font-size="12" text-anchor="end">2</text>
<line x1="205.5" y1="364.5" x2="205.5" y2="361.3" stroke="#000" stroke-width="1.4"/>
<polygon points="203.5,361.3 207.5,361.3 206.3,362.90000000000003 204.7,362.90000000000003" fill="#000"/>
<rect x="198.5" y="365.7" width="15.6" height="51.1" fill="#fff" stroke="#000" stroke-width="2.4"/>
<line x1="220.8" y1="312.5" x2="220.8" y2="300.5" stroke="#000" stroke-width="1.4"/>
<polygon points="218.8,300.5 222.8,300.5 221.60000000000002,302.1 220.0,302.1" fill="#000"/>
<rect x="214.1" y="313.7" width="14.000000000000005" height="103.1" fill="#707070" stroke="#000" stroke-width="2.4"/>
<text x="217.90" y="301.00" font-size="16" font-weight="bold">*</text>
<text x="70.6" y="432.8" font-size="12" text-anchor="middle" font-weight="bold">Femur</text>
<text x="145.5" y="432.8" font-size="12" text-anchor="middle" font-weight="bold">Spleen</text>
<text x="217.6" y="432.8" font-size="12" text-anchor="middle" font-weight="bold">PB</text>
<text x="217.6" y="448" font-size="12" text-anchor="middle" font-weight="bold">(1ml)</text>
<line x1="309.2" y1="417.3" x2="503" y2="417.3" stroke="#555" stroke-width="1"/>
<line x1="379" y1="417.3" x2="379" y2="419.8" stroke="#888" stroke-width="1"/>
<line x1="451.1" y1="417.3" x2="451.1" y2="419.8" stroke="#888" stroke-width="1"/>
<line x1="503" y1="417.3" x2="503" y2="419.8" stroke="#888" stroke-width="1"/>
<line x1="309.2" y1="290.7" x2="309.2" y2="417.3" stroke="#888" stroke-width="1"/>
<line x1="306.7" y1="417.30" x2="309.2" y2="417.30" stroke="#888" stroke-width="1"/>
<line x1="306.7" y1="403.38" x2="309.2" y2="403.38" stroke="#888" stroke-width="1"/>
<line x1="306.7" y1="389.46" x2="309.2" y2="389.46" stroke="#888" stroke-width="1"/>
<line x1="306.7" y1="375.53" x2="309.2" y2="375.53" stroke="#888" stroke-width="1"/>
<line x1="306.7" y1="361.61" x2="309.2" y2="361.61" stroke="#888" stroke-width="1"/>
<line x1="306.7" y1="347.69" x2="309.2" y2="347.69" stroke="#888" stroke-width="1"/>
<line x1="306.7" y1="333.77" x2="309.2" y2="333.77" stroke="#888" stroke-width="1"/>
<line x1="306.7" y1="319.84" x2="309.2" y2="319.84" stroke="#888" stroke-width="1"/>
<line x1="306.7" y1="305.92" x2="309.2" y2="305.92" stroke="#888" stroke-width="1"/>
<line x1="306.7" y1="292.00" x2="309.2" y2="292.00" stroke="#888" stroke-width="1"/>
<text x="302.00" y="298.60" font-size="12" text-anchor="end">180</text>
<text x="302.00" y="311.40" font-size="12" text-anchor="end">160</text>
<text x="302.00" y="326.00" font-size="12" text-anchor="end">140</text>
<text x="302.00" y="339.30" font-size="12" text-anchor="end">120</text>
<text x="302.00" y="354.40" font-size="12" text-anchor="end">100</text>
<text x="302.00" y="370.30" font-size="12" text-anchor="end">80</text>
<text x="302.00" y="384.20" font-size="12" text-anchor="end">60</text>
<text x="302.00" y="395.10" font-size="12" text-anchor="end">40</text>
<text x="302.00" y="409.10" font-size="12" text-anchor="end">20</text>
<text x="302.00" y="424.20" font-size="12" text-anchor="end">0</text>
<line x1="322.7" y1="369.6" x2="322.7" y2="362.5" stroke="#000" stroke-width="1.4"/>
<polygon points="320.7,362.5 324.7,362.5 323.5,364.1 321.9,364.1" fill="#000"/>
<rect x="316.7" y="370.8" width="14.200000000000022" height="45.99999999999998" fill="#fff" stroke="#000" stroke-width="2.4"/>
<line x1="337.2" y1="319.4" x2="337.2" y2="306.4" stroke="#000" stroke-width="1.4"/>
<polygon points="335.2,306.4 339.2,306.4 338.0,308.0 336.4,308.0" fill="#000"/>
<rect x="330.9" y="320.59999999999997" width="12.6" height="96.20000000000002" fill="#707070" stroke="#000" stroke-width="2.4"/>
<text x="334.10" y="306.10" font-size="16" font-weight="bold">*</text>
<text transform="translate(277.70,389.60) rotate(-90)" font-size="12.3" font-weight="bold">CFU-C (x10<tspan font-size="9" dy="-4.5">3</tspan><tspan dy="4.5">)</tspan></text>
<line x1="379" y1="293.5" x2="379" y2="417.3" stroke="#888" stroke-width="1"/>
<line x1="376.5" y1="417.30" x2="379" y2="417.30" stroke="#888" stroke-width="1"/>
<line x1="376.5" y1="401.82" x2="379" y2="401.82" stroke="#888" stroke-width="1"/>
<line x1="376.5" y1="386.35" x2="379" y2="386.35" stroke="#888" stroke-width="1"/>
<line x1="376.5" y1="370.88" x2="379" y2="370.88" stroke="#888" stroke-width="1"/>
<line x1="376.5" y1="355.40" x2="379" y2="355.40" stroke="#888" stroke-width="1"/>
<line x1="376.5" y1="339.93" x2="379" y2="339.93" stroke="#888" stroke-width="1"/>
<line x1="376.5" y1="324.45" x2="379" y2="324.45" stroke="#888" stroke-width="1"/>
<line x1="376.5" y1="308.98" x2="379" y2="308.98" stroke="#888" stroke-width="1"/>
<line x1="376.5" y1="293.50" x2="379" y2="293.50" stroke="#888" stroke-width="1"/>
<text x="371.70" y="299.80" font-size="12" text-anchor="end">80</text>
<text x="371.70" y="314.40" font-size="12" text-anchor="end">70</text>
<text x="371.70" y="331.20" font-size="12" text-anchor="end">60</text>
<text x="371.70" y="349.30" font-size="12" text-anchor="end">50</text>
<text x="371.70" y="362.60" font-size="12" text-anchor="end">40</text>
<text x="371.70" y="378.80" font-size="12" text-anchor="end">30</text>
<text x="371.70" y="391.60" font-size="12" text-anchor="end">20</text>
<text x="371.70" y="409.10" font-size="12" text-anchor="end">10</text>
<line x1="391.6" y1="346.5" x2="391.6" y2="311.3" stroke="#000" stroke-width="1.4"/>
<line x1="391.1" y1="311.90000000000003" x2="395.1" y2="311.90000000000003" stroke="#000" stroke-width="1.3"/>
<rect x="386.59999999999997" y="347.7" width="16.200000000000024" height="69.1" fill="#fff" stroke="#000" stroke-width="2.4"/>
<line x1="408.2" y1="364.5" x2="408.2" y2="347.9" stroke="#000" stroke-width="1.4"/>
<polygon points="406.2,347.9 410.2,347.9 409.0,349.5 407.4,349.5" fill="#000"/>
<rect x="402.8" y="365.7" width="13.299999999999988" height="51.1" fill="#707070" stroke="#000" stroke-width="2.4"/>
<line x1="451.1" y1="292" x2="451.1" y2="417.3" stroke="#888" stroke-width="1"/>
<line x1="448.6" y1="292.00" x2="451.1" y2="292.00" stroke="#888" stroke-width="1"/>
<line x1="448.6" y1="315.20" x2="451.1" y2="315.20" stroke="#888" stroke-width="1"/>
<line x1="448.6" y1="340.80" x2="451.1" y2="340.80" stroke="#888" stroke-width="1"/>
<line x1="448.6" y1="366.40" x2="451.1" y2="366.40" stroke="#888" stroke-width="1"/>
<line x1="448.6" y1="390.80" x2="451.1" y2="390.80" stroke="#888" stroke-width="1"/>
<line x1="448.6" y1="417.10" x2="451.1" y2="417.10" stroke="#888" stroke-width="1"/>
<text x="442.90" y="299.10" font-size="12" text-anchor="end">2.5</text>
<text x="442.90" y="323.00" font-size="12" text-anchor="end">2.0</text>
<text x="442.90" y="348.60" font-size="12" text-anchor="end">1.5</text>
<text x="442.90" y="373.50" font-size="12" text-anchor="end">1.0</text>
<text x="442.90" y="398.60" font-size="12" text-anchor="end">0.5</text>
<line x1="468.4" y1="401.2" x2="468.4" y2="399" stroke="#000" stroke-width="1.4"/>
<polygon points="466.4,399 470.4,399 469.2,400.6 467.59999999999997,400.6" fill="#000"/>
<rect x="461.4" y="402.4" width="15.299999999999988" height="14.400000000000011" fill="#fff" stroke="#000" stroke-width="2.4"/>
<line x1="482.8" y1="328.9" x2="482.8" y2="311" stroke="#000" stroke-width="1.4"/>
<polygon points="480.8,311 484.8,311 483.6,312.6 482.0,312.6" fill="#000"/>
<rect x="476.7" y="330.09999999999997" width="13.6" height="86.70000000000002" fill="#707070" stroke="#000" stroke-width="2.4"/>
<text x="481.20" y="310.00" font-size="16" font-weight="bold">*</text>
<text x="331" y="432.8" font-size="12" text-anchor="middle" font-weight="bold">Femur</text>
<text x="400" y="432.8" font-size="12" text-anchor="middle" font-weight="bold">Spleen</text>
<text x="477.5" y="432.8" font-size="12" text-anchor="middle" font-weight="bold">PB</text>
<text x="477.5" y="448" font-size="12" text-anchor="middle" font-weight="bold">(1ml)</text>
<line x1="15.8" y1="575.8" x2="15.8" y2="580.0" stroke="#000" stroke-width="0.9"/>
<line x1="23.8" y1="575.8" x2="23.8" y2="578.8" stroke="#000" stroke-width="0.9"/>
<line x1="28.5" y1="575.8" x2="28.5" y2="578.8" stroke="#000" stroke-width="0.9"/>
<line x1="31.8" y1="575.8" x2="31.8" y2="578.8" stroke="#000" stroke-width="0.9"/>
<line x1="34.4" y1="575.8" x2="34.4" y2="578.8" stroke="#000" stroke-width="0.9"/>
<line x1="36.5" y1="575.8" x2="36.5" y2="578.8" stroke="#000" stroke-width="0.9"/>
<line x1="38.3" y1="575.8" x2="38.3" y2="578.8" stroke="#000" stroke-width="0.9"/>
<line x1="39.8" y1="575.8" x2="39.8" y2="578.8" stroke="#000" stroke-width="0.9"/>
<line x1="41.2" y1="575.8" x2="41.2" y2="578.8" stroke="#000" stroke-width="0.9"/>
<line x1="42.4" y1="575.8" x2="42.4" y2="580.0" stroke="#000" stroke-width="0.9"/>
<line x1="50.4" y1="575.8" x2="50.4" y2="578.8" stroke="#000" stroke-width="0.9"/>
<line x1="55.1" y1="575.8" x2="55.1" y2="578.8" stroke="#000" stroke-width="0.9"/>
<line x1="58.4" y1="575.8" x2="58.4" y2="578.8" stroke="#000" stroke-width="0.9"/>
<line x1="61.0" y1="575.8" x2="61.0" y2="578.8" stroke="#000" stroke-width="0.9"/>
<line x1="63.1" y1="575.8" x2="63.1" y2="578.8" stroke="#000" stroke-width="0.9"/>
<line x1="64.9" y1="575.8" x2="64.9" y2="578.8" stroke="#000" stroke-width="0.9"/>
<line x1="66.4" y1="575.8" x2="66.4" y2="578.8" stroke="#000" stroke-width="0.9"/>
<line x1="67.8" y1="575.8" x2="67.8" y2="578.8" stroke="#000" stroke-width="0.9"/>
<line x1="69.0" y1="575.8" x2="69.0" y2="580.0" stroke="#000" stroke-width="0.9"/>
<line x1="77.0" y1="575.8" x2="77.0" y2="578.8" stroke="#000" stroke-width="0.9"/>
<line x1="81.7" y1="575.8" x2="81.7" y2="578.8" stroke="#000" stroke-width="0.9"/>
<line x1="85.0" y1="575.8" x2="85.0" y2="578.8" stroke="#000" stroke-width="0.9"/>
<line x1="87.6" y1="575.8" x2="87.6" y2="578.8" stroke="#000" stroke-width="0.9"/>
<line x1="89.7" y1="575.8" x2="89.7" y2="578.8" stroke="#000" stroke-width="0.9"/>
<line x1="91.5" y1="575.8" x2="91.5" y2="578.8" stroke="#000" stroke-width="0.9"/>
<line x1="93.0" y1="575.8" x2="93.0" y2="578.8" stroke="#000" stroke-width="0.9"/>
<line x1="94.4" y1="575.8" x2="94.4" y2="578.8" stroke="#000" stroke-width="0.9"/>
<line x1="95.6" y1="575.8" x2="95.6" y2="580.0" stroke="#000" stroke-width="0.9"/>
<line x1="103.6" y1="575.8" x2="103.6" y2="578.8" stroke="#000" stroke-width="0.9"/>
<line x1="108.3" y1="575.8" x2="108.3" y2="578.8" stroke="#000" stroke-width="0.9"/>
<line x1="111.6" y1="575.8" x2="111.6" y2="578.8" stroke="#000" stroke-width="0.9"/>
<line x1="114.2" y1="575.8" x2="114.2" y2="578.8" stroke="#000" stroke-width="0.9"/>
<line x1="116.3" y1="575.8" x2="116.3" y2="578.8" stroke="#000" stroke-width="0.9"/>
<line x1="118.1" y1="575.8" x2="118.1" y2="578.8" stroke="#000" stroke-width="0.9"/>
<line x1="119.6" y1="575.8" x2="119.6" y2="578.8" stroke="#000" stroke-width="0.9"/>
<line x1="121.0" y1="575.8" x2="121.0" y2="578.8" stroke="#000" stroke-width="0.9"/>
<line x1="122.2" y1="575.8" x2="122.2" y2="580.0" stroke="#000" stroke-width="0.9"/>
<line x1="12.3" y1="575.8" x2="15.8" y2="575.8" stroke="#000" stroke-width="0.9"/>
<line x1="14.0" y1="572.1" x2="15.8" y2="572.1" stroke="#000" stroke-width="0.9"/>
<line x1="14.0" y1="570.0" x2="15.8" y2="570.0" stroke="#000" stroke-width="0.9"/>
<line x1="14.0" y1="568.4" x2="15.8" y2="568.4" stroke="#000" stroke-width="0.9"/>
<line x1="14.0" y1="567.3" x2="15.8" y2="567.3" stroke="#000" stroke-width="0.9"/>
<line x1="14.0" y1="566.3" x2="15.8" y2="566.3" stroke="#000" stroke-width="0.9"/>
<line x1="14.0" y1="565.5" x2="15.8" y2="565.5" stroke="#000" stroke-width="0.9"/>
<line x1="14.0" y1="564.8" x2="15.8" y2="564.8" stroke="#000" stroke-width="0.9"/>
<line x1="14.0" y1="564.1" x2="15.8" y2="564.1" stroke="#000" stroke-width="0.9"/>
<line x1="12.3" y1="563.6" x2="15.8" y2="563.6" stroke="#000" stroke-width="0.9"/>
<line x1="14.0" y1="559.9" x2="15.8" y2="559.9" stroke="#000" stroke-width="0.9"/>
<line x1="14.0" y1="557.7" x2="15.8" y2="557.7" stroke="#000" stroke-width="0.9"/>
<line x1="14.0" y1="556.2" x2="15.8" y2="556.2" stroke="#000" stroke-width="0.9"/>
<line x1="14.0" y1="555.0" x2="15.8" y2="555.0" stroke="#000" stroke-width="0.9"/>
<line x1="14.0" y1="554.1" x2="15.8" y2="554.1" stroke="#000" stroke-width="0.9"/>
<line x1="14.0" y1="553.2" x2="15.8" y2="553.2" stroke="#000" stroke-width="0.9"/>
<line x1="14.0" y1="552.5" x2="15.8" y2="552.5" stroke="#000" stroke-width="0.9"/>
<line x1="14.0" y1="551.9" x2="15.8" y2="551.9" stroke="#000" stroke-width="0.9"/>
<line x1="12.3" y1="551.3" x2="15.8" y2="551.3" stroke="#000" stroke-width="0.9"/>
<line x1="14.0" y1="547.7" x2="15.8" y2="547.7" stroke="#000" stroke-width="0.9"/>
<line x1="14.0" y1="545.5" x2="15.8" y2="545.5" stroke="#000" stroke-width="0.9"/>
<line x1="14.0" y1="544.0" x2="15.8" y2="544.0" stroke="#000" stroke-width="0.9"/>
<line x1="14.0" y1="542.8" x2="15.8" y2="542.8" stroke="#000" stroke-width="0.9"/>
<line x1="14.0" y1="541.8" x2="15.8" y2="541.8" stroke="#000" stroke-width="0.9"/>
<line x1="14.0" y1="541.0" x2="15.8" y2="541.0" stroke="#000" stroke-width="0.9"/>
<line x1="14.0" y1="540.3" x2="15.8" y2="540.3" stroke="#000" stroke-width="0.9"/>
<line x1="14.0" y1="539.7" x2="15.8" y2="539.7" stroke="#000" stroke-width="0.9"/>
<line x1="12.3" y1="539.1" x2="15.8" y2="539.1" stroke="#000" stroke-width="0.9"/>
<line x1="14.0" y1="535.4" x2="15.8" y2="535.4" stroke="#000" stroke-width="0.9"/>
<line x1="14.0" y1="533.3" x2="15.8" y2="533.3" stroke="#000" stroke-width="0.9"/>
<line x1="14.0" y1="531.8" x2="15.8" y2="531.8" stroke="#000" stroke-width="0.9"/>
<line x1="14.0" y1="530.6" x2="15.8" y2="530.6" stroke="#000" stroke-width="0.9"/>
<line x1="14.0" y1="529.6" x2="15.8" y2="529.6" stroke="#000" stroke-width="0.9"/>
<line x1="14.0" y1="528.8" x2="15.8" y2="528.8" stroke="#000" stroke-width="0.9"/>
<line x1="14.0" y1="528.1" x2="15.8" y2="528.1" stroke="#000" stroke-width="0.9"/>
<line x1="14.0" y1="527.5" x2="15.8" y2="527.5" stroke="#000" stroke-width="0.9"/>
<line x1="12.3" y1="526.9" x2="15.8" y2="526.9" stroke="#000" stroke-width="0.9"/>
<line x1="14.0" y1="523.2" x2="15.8" y2="523.2" stroke="#000" stroke-width="0.9"/>
<line x1="14.0" y1="521.1" x2="15.8" y2="521.1" stroke="#000" stroke-width="0.9"/>
<line x1="14.0" y1="519.5" x2="15.8" y2="519.5" stroke="#000" stroke-width="0.9"/>
<line x1="14.0" y1="518.4" x2="15.8" y2="518.4" stroke="#000" stroke-width="0.9"/>
<line x1="14.0" y1="517.4" x2="15.8" y2="517.4" stroke="#000" stroke-width="0.9"/>
<line x1="14.0" y1="516.6" x2="15.8" y2="516.6" stroke="#000" stroke-width="0.9"/>
<line x1="14.0" y1="515.9" x2="15.8" y2="515.9" stroke="#000" stroke-width="0.9"/>
<line x1="14.0" y1="515.2" x2="15.8" y2="515.2" stroke="#000" stroke-width="0.9"/>
<line x1="12.3" y1="514.7" x2="15.8" y2="514.7" stroke="#000" stroke-width="0.9"/>
<line x1="14.0" y1="511.0" x2="15.8" y2="511.0" stroke="#000" stroke-width="0.9"/>
<line x1="14.0" y1="508.8" x2="15.8" y2="508.8" stroke="#000" stroke-width="0.9"/>
<line x1="14.0" y1="507.3" x2="15.8" y2="507.3" stroke="#000" stroke-width="0.9"/>
<line x1="14.0" y1="506.1" x2="15.8" y2="506.1" stroke="#000" stroke-width="0.9"/>
<line x1="14.0" y1="505.2" x2="15.8" y2="505.2" stroke="#000" stroke-width="0.9"/>
<line x1="14.0" y1="504.3" x2="15.8" y2="504.3" stroke="#000" stroke-width="0.9"/>
<line x1="14.0" y1="503.6" x2="15.8" y2="503.6" stroke="#000" stroke-width="0.9"/>
<line x1="14.0" y1="503.0" x2="15.8" y2="503.0" stroke="#000" stroke-width="0.9"/>
<line x1="12.3" y1="502.4" x2="15.8" y2="502.4" stroke="#000" stroke-width="0.9"/>
<line x1="14.0" y1="498.8" x2="15.8" y2="498.8" stroke="#000" stroke-width="0.9"/>
<line x1="14.0" y1="496.6" x2="15.8" y2="496.6" stroke="#000" stroke-width="0.9"/>
<line x1="14.0" y1="495.1" x2="15.8" y2="495.1" stroke="#000" stroke-width="0.9"/>
<line x1="14.0" y1="493.9" x2="15.8" y2="493.9" stroke="#000" stroke-width="0.9"/>
<line x1="14.0" y1="492.9" x2="15.8" y2="492.9" stroke="#000" stroke-width="0.9"/>
<line x1="14.0" y1="492.1" x2="15.8" y2="492.1" stroke="#000" stroke-width="0.9"/>
<line x1="14.0" y1="491.4" x2="15.8" y2="491.4" stroke="#000" stroke-width="0.9"/>
<line x1="14.0" y1="490.8" x2="15.8" y2="490.8" stroke="#000" stroke-width="0.9"/>
<line x1="12.3" y1="490.2" x2="15.8" y2="490.2" stroke="#000" stroke-width="0.9"/>
<line x1="14.0" y1="486.5" x2="15.8" y2="486.5" stroke="#000" stroke-width="0.9"/>
<line x1="14.0" y1="484.4" x2="15.8" y2="484.4" stroke="#000" stroke-width="0.9"/>
<line x1="14.0" y1="482.9" x2="15.8" y2="482.9" stroke="#000" stroke-width="0.9"/>
<line x1="14.0" y1="481.7" x2="15.8" y2="481.7" stroke="#000" stroke-width="0.9"/>
<line x1="14.0" y1="480.7" x2="15.8" y2="480.7" stroke="#000" stroke-width="0.9"/>
<line x1="14.0" y1="479.9" x2="15.8" y2="479.9" stroke="#000" stroke-width="0.9"/>
<line x1="14.0" y1="479.2" x2="15.8" y2="479.2" stroke="#000" stroke-width="0.9"/>
<line x1="14.0" y1="478.6" x2="15.8" y2="478.6" stroke="#000" stroke-width="0.9"/>
<line x1="12.3" y1="478.0" x2="15.8" y2="478.0" stroke="#000" stroke-width="0.9"/>
<line x1="15.8" y1="478.0" x2="122.2" y2="478.0" stroke="#777" stroke-width="1.3"/>
<line x1="122.2" y1="478.0" x2="122.2" y2="575.8" stroke="#777" stroke-width="1.3"/>
<line x1="15.8" y1="575.8" x2="122.2" y2="575.8" stroke="#000" stroke-width="1.5"/>
<line x1="15.8" y1="478.0" x2="15.8" y2="575.8" stroke="#000" stroke-width="1.4"/>
<line x1="134.0" y1="575.8" x2="134.0" y2="580.0" stroke="#000" stroke-width="0.9"/>
<line x1="142.8" y1="575.8" x2="142.8" y2="578.8" stroke="#000" stroke-width="0.9"/>
<line x1="147.9" y1="575.8" x2="147.9" y2="578.8" stroke="#000" stroke-width="0.9"/>
<line x1="151.5" y1="575.8" x2="151.5" y2="578.8" stroke="#000" stroke-width="0.9"/>
<line x1="154.4" y1="575.8" x2="154.4" y2="578.8" stroke="#000" stroke-width="0.9"/>
<line x1="156.7" y1="575.8" x2="156.7" y2="578.8" stroke="#000" stroke-width="0.9"/>
<line x1="158.6" y1="575.8" x2="158.6" y2="578.8" stroke="#000" stroke-width="0.9"/>
<line x1="160.3" y1="575.8" x2="160.3" y2="578.8" stroke="#000" stroke-width="0.9"/>
<line x1="161.8" y1="575.8" x2="161.8" y2="578.8" stroke="#000" stroke-width="0.9"/>
<line x1="163.1" y1="575.8" x2="163.1" y2="580.0" stroke="#000" stroke-width="0.9"/>
<line x1="171.9" y1="575.8" x2="171.9" y2="578.8" stroke="#000" stroke-width="0.9"/>
<line x1="177.0" y1="575.8" x2="177.0" y2="578.8" stroke="#000" stroke-width="0.9"/>
<line x1="180.7" y1="575.8" x2="180.7" y2="578.8" stroke="#000" stroke-width="0.9"/>
<line x1="183.5" y1="575.8" x2="183.5" y2="578.8" stroke="#000" stroke-width="0.9"/>
<line x1="185.8" y1="575.8" x2="185.8" y2="578.8" stroke="#000" stroke-width="0.9"/>
<line x1="187.7" y1="575.8" x2="187.7" y2="578.8" stroke="#000" stroke-width="0.9"/>
<line x1="189.4" y1="575.8" x2="189.4" y2="578.8" stroke="#000" stroke-width="0.9"/>
<line x1="190.9" y1="575.8" x2="190.9" y2="578.8" stroke="#000" stroke-width="0.9"/>
<line x1="192.2" y1="575.8" x2="192.2" y2="580.0" stroke="#000" stroke-width="0.9"/>
<line x1="201.0" y1="575.8" x2="201.0" y2="578.8" stroke="#000" stroke-width="0.9"/>
<line x1="206.1" y1="575.8" x2="206.1" y2="578.8" stroke="#000" stroke-width="0.9"/>
<line x1="209.8" y1="575.8" x2="209.8" y2="578.8" stroke="#000" stroke-width="0.9"/>
<line x1="212.6" y1="575.8" x2="212.6" y2="578.8" stroke="#000" stroke-width="0.9"/>
<line x1="214.9" y1="575.8" x2="214.9" y2="578.8" stroke="#000" stroke-width="0.9"/>
<line x1="216.9" y1="575.8" x2="216.9" y2="578.8" stroke="#000" stroke-width="0.9"/>
<line x1="218.6" y1="575.8" x2="218.6" y2="578.8" stroke="#000" stroke-width="0.9"/>
<line x1="220.0" y1="575.8" x2="220.0" y2="578.8" stroke="#000" stroke-width="0.9"/>
<line x1="221.4" y1="575.8" x2="221.4" y2="580.0" stroke="#000" stroke-width="0.9"/>
<line x1="230.1" y1="575.8" x2="230.1" y2="578.8" stroke="#000" stroke-width="0.9"/>
<line x1="235.3" y1="575.8" x2="235.3" y2="578.8" stroke="#000" stroke-width="0.9"/>
<line x1="238.9" y1="575.8" x2="238.9" y2="578.8" stroke="#000" stroke-width="0.9"/>
<line x1="241.7" y1="575.8" x2="241.7" y2="578.8" stroke="#000" stroke-width="0.9"/>
<line x1="244.0" y1="575.8" x2="244.0" y2="578.8" stroke="#000" stroke-width="0.9"/>
<line x1="246.0" y1="575.8" x2="246.0" y2="578.8" stroke="#000" stroke-width="0.9"/>
<line x1="247.7" y1="575.8" x2="247.7" y2="578.8" stroke="#000" stroke-width="0.9"/>
<line x1="249.2" y1="575.8" x2="249.2" y2="578.8" stroke="#000" stroke-width="0.9"/>
<line x1="250.5" y1="575.8" x2="250.5" y2="580.0" stroke="#000" stroke-width="0.9"/>
<line x1="130.5" y1="575.8" x2="134.0" y2="575.8" stroke="#000" stroke-width="0.9"/>
<line x1="132.2" y1="572.1" x2="134.0" y2="572.1" stroke="#000" stroke-width="0.9"/>
<line x1="132.2" y1="570.0" x2="134.0" y2="570.0" stroke="#000" stroke-width="0.9"/>
<line x1="132.2" y1="568.4" x2="134.0" y2="568.4" stroke="#000" stroke-width="0.9"/>
<line x1="132.2" y1="567.2" x2="134.0" y2="567.2" stroke="#000" stroke-width="0.9"/>
<line x1="132.2" y1="566.3" x2="134.0" y2="566.3" stroke="#000" stroke-width="0.9"/>
<line x1="132.2" y1="565.4" x2="134.0" y2="565.4" stroke="#000" stroke-width="0.9"/>
<line x1="132.2" y1="564.7" x2="134.0" y2="564.7" stroke="#000" stroke-width="0.9"/>
<line x1="132.2" y1="564.1" x2="134.0" y2="564.1" stroke="#000" stroke-width="0.9"/>
<line x1="130.5" y1="563.5" x2="134.0" y2="563.5" stroke="#000" stroke-width="0.9"/>
<line x1="132.2" y1="559.9" x2="134.0" y2="559.9" stroke="#000" stroke-width="0.9"/>
<line x1="132.2" y1="557.7" x2="134.0" y2="557.7" stroke="#000" stroke-width="0.9"/>
<line x1="132.2" y1="556.2" x2="134.0" y2="556.2" stroke="#000" stroke-width="0.9"/>
<line x1="132.2" y1="555.0" x2="134.0" y2="555.0" stroke="#000" stroke-width="0.9"/>
<line x1="132.2" y1="554.0" x2="134.0" y2="554.0" stroke="#000" stroke-width="0.9"/>
<line x1="132.2" y1="553.2" x2="134.0" y2="553.2" stroke="#000" stroke-width="0.9"/>
<line x1="132.2" y1="552.5" x2="134.0" y2="552.5" stroke="#000" stroke-width="0.9"/>
<line x1="132.2" y1="551.9" x2="134.0" y2="551.9" stroke="#000" stroke-width="0.9"/>
<line x1="130.5" y1="551.3" x2="134.0" y2="551.3" stroke="#000" stroke-width="0.9"/>
<line x1="132.2" y1="547.6" x2="134.0" y2="547.6" stroke="#000" stroke-width="0.9"/>
<line x1="132.2" y1="545.5" x2="134.0" y2="545.5" stroke="#000" stroke-width="0.9"/>
<line x1="132.2" y1="543.9" x2="134.0" y2="543.9" stroke="#000" stroke-width="0.9"/>
<line x1="132.2" y1="542.7" x2="134.0" y2="542.7" stroke="#000" stroke-width="0.9"/>
<line x1="132.2" y1="541.8" x2="134.0" y2="541.8" stroke="#000" stroke-width="0.9"/>
<line x1="132.2" y1="540.9" x2="134.0" y2="540.9" stroke="#000" stroke-width="0.9"/>
<line x1="132.2" y1="540.2" x2="134.0" y2="540.2" stroke="#000" stroke-width="0.9"/>
<line x1="132.2" y1="539.6" x2="134.0" y2="539.6" stroke="#000" stroke-width="0.9"/>
<line x1="130.5" y1="539.0" x2="134.0" y2="539.0" stroke="#000" stroke-width="0.9"/>
<line x1="132.2" y1="535.4" x2="134.0" y2="535.4" stroke="#000" stroke-width="0.9"/>
<line x1="132.2" y1="533.2" x2="134.0" y2="533.2" stroke="#000" stroke-width="0.9"/>
<line x1="132.2" y1="531.7" x2="134.0" y2="531.7" stroke="#000" stroke-width="0.9"/>
<line x1="132.2" y1="530.5" x2="134.0" y2="530.5" stroke="#000" stroke-width="0.9"/>
<line x1="132.2" y1="529.5" x2="134.0" y2="529.5" stroke="#000" stroke-width="0.9"/>
<line x1="132.2" y1="528.7" x2="134.0" y2="528.7" stroke="#000" stroke-width="0.9"/>
<line x1="132.2" y1="528.0" x2="134.0" y2="528.0" stroke="#000" stroke-width="0.9"/>
<line x1="132.2" y1="527.4" x2="134.0" y2="527.4" stroke="#000" stroke-width="0.9"/>
<line x1="130.5" y1="526.8" x2="134.0" y2="526.8" stroke="#000" stroke-width="0.9"/>
<line x1="132.2" y1="523.1" x2="134.0" y2="523.1" stroke="#000" stroke-width="0.9"/>
<line x1="132.2" y1="521.0" x2="134.0" y2="521.0" stroke="#000" stroke-width="0.9"/>
<line x1="132.2" y1="519.4" x2="134.0" y2="519.4" stroke="#000" stroke-width="0.9"/>
<line x1="132.2" y1="518.2" x2="134.0" y2="518.2" stroke="#000" stroke-width="0.9"/>
<line x1="132.2" y1="517.3" x2="134.0" y2="517.3" stroke="#000" stroke-width="0.9"/>
<line x1="132.2" y1="516.4" x2="134.0" y2="516.4" stroke="#000" stroke-width="0.9"/>
<line x1="132.2" y1="515.7" x2="134.0" y2="515.7" stroke="#000" stroke-width="0.9"/>
<line x1="132.2" y1="515.1" x2="134.0" y2="515.1" stroke="#000" stroke-width="0.9"/>
<line x1="130.5" y1="514.5" x2="134.0" y2="514.5" stroke="#000" stroke-width="0.9"/>
<line x1="132.2" y1="510.9" x2="134.0" y2="510.9" stroke="#000" stroke-width="0.9"/>
<line x1="132.2" y1="508.7" x2="134.0" y2="508.7" stroke="#000" stroke-width="0.9"/>
<line x1="132.2" y1="507.2" x2="134.0" y2="507.2" stroke="#000" stroke-width="0.9"/>
<line x1="132.2" y1="506.0" x2="134.0" y2="506.0" stroke="#000" stroke-width="0.9"/>
<line x1="132.2" y1="505.0" x2="134.0" y2="505.0" stroke="#000" stroke-width="0.9"/>
<line x1="132.2" y1="504.2" x2="134.0" y2="504.2" stroke="#000" stroke-width="0.9"/>
<line x1="132.2" y1="503.5" x2="134.0" y2="503.5" stroke="#000" stroke-width="0.9"/>
<line x1="132.2" y1="502.9" x2="134.0" y2="502.9" stroke="#000" stroke-width="0.9"/>
<line x1="130.5" y1="502.3" x2="134.0" y2="502.3" stroke="#000" stroke-width="0.9"/>
<line x1="132.2" y1="498.6" x2="134.0" y2="498.6" stroke="#000" stroke-width="0.9"/>
<line x1="132.2" y1="496.5" x2="134.0" y2="496.5" stroke="#000" stroke-width="0.9"/>
<line x1="132.2" y1="494.9" x2="134.0" y2="494.9" stroke="#000" stroke-width="0.9"/>
<line x1="132.2" y1="493.7" x2="134.0" y2="493.7" stroke="#000" stroke-width="0.9"/>
<line x1="132.2" y1="492.8" x2="134.0" y2="492.8" stroke="#000" stroke-width="0.9"/>
<line x1="132.2" y1="491.9" x2="134.0" y2="491.9" stroke="#000" stroke-width="0.9"/>
<line x1="132.2" y1="491.2" x2="134.0" y2="491.2" stroke="#000" stroke-width="0.9"/>
<line x1="132.2" y1="490.6" x2="134.0" y2="490.6" stroke="#000" stroke-width="0.9"/>
<line x1="130.5" y1="490.1" x2="134.0" y2="490.1" stroke="#000" stroke-width="0.9"/>
<line x1="132.2" y1="486.4" x2="134.0" y2="486.4" stroke="#000" stroke-width="0.9"/>
<line x1="132.2" y1="484.2" x2="134.0" y2="484.2" stroke="#000" stroke-width="0.9"/>
<line x1="132.2" y1="482.7" x2="134.0" y2="482.7" stroke="#000" stroke-width="0.9"/>
<line x1="132.2" y1="481.5" x2="134.0" y2="481.5" stroke="#000" stroke-width="0.9"/>
<line x1="132.2" y1="480.5" x2="134.0" y2="480.5" stroke="#000" stroke-width="0.9"/>
<line x1="132.2" y1="479.7" x2="134.0" y2="479.7" stroke="#000" stroke-width="0.9"/>
<line x1="132.2" y1="479.0" x2="134.0" y2="479.0" stroke="#000" stroke-width="0.9"/>
<line x1="132.2" y1="478.4" x2="134.0" y2="478.4" stroke="#000" stroke-width="0.9"/>
<line x1="130.5" y1="477.8" x2="134.0" y2="477.8" stroke="#000" stroke-width="0.9"/>
<line x1="134.0" y1="477.8" x2="250.5" y2="477.8" stroke="#555" stroke-width="1.3"/>
<line x1="250.5" y1="477.8" x2="250.5" y2="575.8" stroke="#555" stroke-width="1.3"/>
<line x1="134.0" y1="575.8" x2="250.5" y2="575.8" stroke="#000" stroke-width="1.5"/>
<line x1="134.0" y1="477.8" x2="134.0" y2="575.8" stroke="#000" stroke-width="1.4"/>
<line x1="284.4" y1="574.3" x2="284.4" y2="579.1" stroke="#000" stroke-width="0.9"/>
<line x1="292.6" y1="574.3" x2="292.6" y2="577.3" stroke="#000" stroke-width="0.9"/>
<line x1="297.4" y1="574.3" x2="297.4" y2="577.3" stroke="#000" stroke-width="0.9"/>
<line x1="300.9" y1="574.3" x2="300.9" y2="577.3" stroke="#000" stroke-width="0.9"/>
<line x1="303.5" y1="574.3" x2="303.5" y2="577.3" stroke="#000" stroke-width="0.9"/>
<line x1="305.7" y1="574.3" x2="305.7" y2="577.3" stroke="#000" stroke-width="0.9"/>
<line x1="307.5" y1="574.3" x2="307.5" y2="577.3" stroke="#000" stroke-width="0.9"/>
<line x1="309.1" y1="574.3" x2="309.1" y2="577.3" stroke="#000" stroke-width="0.9"/>
<line x1="310.5" y1="574.3" x2="310.5" y2="577.3" stroke="#000" stroke-width="0.9"/>
<line x1="311.8" y1="574.3" x2="311.8" y2="579.1" stroke="#000" stroke-width="0.9"/>
<line x1="320.0" y1="574.3" x2="320.0" y2="577.3" stroke="#000" stroke-width="0.9"/>
<line x1="324.8" y1="574.3" x2="324.8" y2="577.3" stroke="#000" stroke-width="0.9"/>
<line x1="328.2" y1="574.3" x2="328.2" y2="577.3" stroke="#000" stroke-width="0.9"/>
<line x1="330.9" y1="574.3" x2="330.9" y2="577.3" stroke="#000" stroke-width="0.9"/>
<line x1="333.0" y1="574.3" x2="333.0" y2="577.3" stroke="#000" stroke-width="0.9"/>
<line x1="334.9" y1="574.3" x2="334.9" y2="577.3" stroke="#000" stroke-width="0.9"/>
<line x1="336.4" y1="574.3" x2="336.4" y2="577.3" stroke="#000" stroke-width="0.9"/>
<line x1="337.8" y1="574.3" x2="337.8" y2="577.3" stroke="#000" stroke-width="0.9"/>
<line x1="339.1" y1="574.3" x2="339.1" y2="579.1" stroke="#000" stroke-width="0.9"/>
<line x1="347.3" y1="574.3" x2="347.3" y2="577.3" stroke="#000" stroke-width="0.9"/>
<line x1="352.1" y1="574.3" x2="352.1" y2="577.3" stroke="#000" stroke-width="0.9"/>
<line x1="355.6" y1="574.3" x2="355.6" y2="577.3" stroke="#000" stroke-width="0.9"/>
<line x1="358.2" y1="574.3" x2="358.2" y2="577.3" stroke="#000" stroke-width="0.9"/>
<line x1="360.4" y1="574.3" x2="360.4" y2="577.3" stroke="#000" stroke-width="0.9"/>
<line x1="362.2" y1="574.3" x2="362.2" y2="577.3" stroke="#000" stroke-width="0.9"/>
<line x1="363.8" y1="574.3" x2="363.8" y2="577.3" stroke="#000" stroke-width="0.9"/>
<line x1="365.2" y1="574.3" x2="365.2" y2="577.3" stroke="#000" stroke-width="0.9"/>
<line x1="366.4" y1="574.3" x2="366.4" y2="579.1" stroke="#000" stroke-width="0.9"/>
<line x1="374.7" y1="574.3" x2="374.7" y2="577.3" stroke="#000" stroke-width="0.9"/>
<line x1="379.5" y1="574.3" x2="379.5" y2="577.3" stroke="#000" stroke-width="0.9"/>
<line x1="382.9" y1="574.3" x2="382.9" y2="577.3" stroke="#000" stroke-width="0.9"/>
<line x1="385.6" y1="574.3" x2="385.6" y2="577.3" stroke="#000" stroke-width="0.9"/>
<line x1="387.7" y1="574.3" x2="387.7" y2="577.3" stroke="#000" stroke-width="0.9"/>
<line x1="389.6" y1="574.3" x2="389.6" y2="577.3" stroke="#000" stroke-width="0.9"/>
<line x1="391.1" y1="574.3" x2="391.1" y2="577.3" stroke="#000" stroke-width="0.9"/>
<line x1="392.5" y1="574.3" x2="392.5" y2="577.3" stroke="#000" stroke-width="0.9"/>
<line x1="393.8" y1="574.3" x2="393.8" y2="579.1" stroke="#000" stroke-width="0.9"/>
<line x1="280.9" y1="574.3" x2="284.4" y2="574.3" stroke="#000" stroke-width="0.9"/>
<line x1="282.6" y1="568.5" x2="284.4" y2="568.5" stroke="#000" stroke-width="0.9"/>
<line x1="282.6" y1="565.1" x2="284.4" y2="565.1" stroke="#000" stroke-width="0.9"/>
<line x1="282.6" y1="562.7" x2="284.4" y2="562.7" stroke="#000" stroke-width="0.9"/>
<line x1="282.6" y1="560.8" x2="284.4" y2="560.8" stroke="#000" stroke-width="0.9"/>
<line x1="282.6" y1="559.3" x2="284.4" y2="559.3" stroke="#000" stroke-width="0.9"/>
<line x1="282.6" y1="558.0" x2="284.4" y2="558.0" stroke="#000" stroke-width="0.9"/>
<line x1="282.6" y1="556.9" x2="284.4" y2="556.9" stroke="#000" stroke-width="0.9"/>
<line x1="282.6" y1="555.9" x2="284.4" y2="555.9" stroke="#000" stroke-width="0.9"/>
<line x1="280.9" y1="555.0" x2="284.4" y2="555.0" stroke="#000" stroke-width="0.9"/>
<line x1="282.6" y1="549.2" x2="284.4" y2="549.2" stroke="#000" stroke-width="0.9"/>
<line x1="282.6" y1="545.8" x2="284.4" y2="545.8" stroke="#000" stroke-width="0.9"/>
<line x1="282.6" y1="543.4" x2="284.4" y2="543.4" stroke="#000" stroke-width="0.9"/>
<line x1="282.6" y1="541.5" x2="284.4" y2="541.5" stroke="#000" stroke-width="0.9"/>
<line x1="282.6" y1="540.0" x2="284.4" y2="540.0" stroke="#000" stroke-width="0.9"/>
<line x1="282.6" y1="538.7" x2="284.4" y2="538.7" stroke="#000" stroke-width="0.9"/>
<line x1="282.6" y1="537.6" x2="284.4" y2="537.6" stroke="#000" stroke-width="0.9"/>
<line x1="282.6" y1="536.6" x2="284.4" y2="536.6" stroke="#000" stroke-width="0.9"/>
<line x1="280.9" y1="535.7" x2="284.4" y2="535.7" stroke="#000" stroke-width="0.9"/>
<line x1="282.6" y1="529.9" x2="284.4" y2="529.9" stroke="#000" stroke-width="0.9"/>
<line x1="282.6" y1="526.5" x2="284.4" y2="526.5" stroke="#000" stroke-width="0.9"/>
<line x1="282.6" y1="524.1" x2="284.4" y2="524.1" stroke="#000" stroke-width="0.9"/>
<line x1="282.6" y1="522.2" x2="284.4" y2="522.2" stroke="#000" stroke-width="0.9"/>
<line x1="282.6" y1="520.7" x2="284.4" y2="520.7" stroke="#000" stroke-width="0.9"/>
<line x1="282.6" y1="519.4" x2="284.4" y2="519.4" stroke="#000" stroke-width="0.9"/>
<line x1="282.6" y1="518.3" x2="284.4" y2="518.3" stroke="#000" stroke-width="0.9"/>
<line x1="282.6" y1="517.3" x2="284.4" y2="517.3" stroke="#000" stroke-width="0.9"/>
<line x1="280.9" y1="516.4" x2="284.4" y2="516.4" stroke="#000" stroke-width="0.9"/>
<line x1="282.6" y1="510.6" x2="284.4" y2="510.6" stroke="#000" stroke-width="0.9"/>
<line x1="282.6" y1="507.2" x2="284.4" y2="507.2" stroke="#000" stroke-width="0.9"/>
<line x1="282.6" y1="504.8" x2="284.4" y2="504.8" stroke="#000" stroke-width="0.9"/>
<line x1="282.6" y1="502.9" x2="284.4" y2="502.9" stroke="#000" stroke-width="0.9"/>
<line x1="282.6" y1="501.4" x2="284.4" y2="501.4" stroke="#000" stroke-width="0.9"/>
<line x1="282.6" y1="500.1" x2="284.4" y2="500.1" stroke="#000" stroke-width="0.9"/>
<line x1="282.6" y1="499.0" x2="284.4" y2="499.0" stroke="#000" stroke-width="0.9"/>
<line x1="282.6" y1="498.0" x2="284.4" y2="498.0" stroke="#000" stroke-width="0.9"/>
<line x1="280.9" y1="497.1" x2="284.4" y2="497.1" stroke="#000" stroke-width="0.9"/>
<line x1="282.6" y1="491.3" x2="284.4" y2="491.3" stroke="#000" stroke-width="0.9"/>
<line x1="282.6" y1="487.9" x2="284.4" y2="487.9" stroke="#000" stroke-width="0.9"/>
<line x1="282.6" y1="485.5" x2="284.4" y2="485.5" stroke="#000" stroke-width="0.9"/>
<line x1="282.6" y1="483.6" x2="284.4" y2="483.6" stroke="#000" stroke-width="0.9"/>
<line x1="282.6" y1="482.1" x2="284.4" y2="482.1" stroke="#000" stroke-width="0.9"/>
<line x1="282.6" y1="480.8" x2="284.4" y2="480.8" stroke="#000" stroke-width="0.9"/>
<line x1="282.6" y1="479.7" x2="284.4" y2="479.7" stroke="#000" stroke-width="0.9"/>
<line x1="282.6" y1="478.7" x2="284.4" y2="478.7" stroke="#000" stroke-width="0.9"/>
<line x1="280.9" y1="477.8" x2="284.4" y2="477.8" stroke="#000" stroke-width="0.9"/>
<line x1="284.4" y1="477.8" x2="393.8" y2="477.8" stroke="#111" stroke-width="1.3"/>
<line x1="393.8" y1="477.8" x2="393.8" y2="574.3" stroke="#111" stroke-width="1.3"/>
<line x1="284.4" y1="574.3" x2="393.8" y2="574.3" stroke="#000" stroke-width="1.4"/>
<line x1="284.4" y1="477.8" x2="284.4" y2="574.3" stroke="#000" stroke-width="1.3"/>
<line x1="406.8" y1="574.3" x2="406.8" y2="579.1" stroke="#000" stroke-width="0.9"/>
<line x1="415.0" y1="574.3" x2="415.0" y2="577.3" stroke="#000" stroke-width="0.9"/>
<line x1="419.8" y1="574.3" x2="419.8" y2="577.3" stroke="#000" stroke-width="0.9"/>
<line x1="423.1" y1="574.3" x2="423.1" y2="577.3" stroke="#000" stroke-width="0.9"/>
<line x1="425.8" y1="574.3" x2="425.8" y2="577.3" stroke="#000" stroke-width="0.9"/>
<line x1="427.9" y1="574.3" x2="427.9" y2="577.3" stroke="#000" stroke-width="0.9"/>
<line x1="429.7" y1="574.3" x2="429.7" y2="577.3" stroke="#000" stroke-width="0.9"/>
<line x1="431.3" y1="574.3" x2="431.3" y2="577.3" stroke="#000" stroke-width="0.9"/>
<line x1="432.7" y1="574.3" x2="432.7" y2="577.3" stroke="#000" stroke-width="0.9"/>
<line x1="433.9" y1="574.3" x2="433.9" y2="579.1" stroke="#000" stroke-width="0.9"/>
<line x1="442.1" y1="574.3" x2="442.1" y2="577.3" stroke="#000" stroke-width="0.9"/>
<line x1="446.9" y1="574.3" x2="446.9" y2="577.3" stroke="#000" stroke-width="0.9"/>
<line x1="450.3" y1="574.3" x2="450.3" y2="577.3" stroke="#000" stroke-width="0.9"/>
<line x1="452.9" y1="574.3" x2="452.9" y2="577.3" stroke="#000" stroke-width="0.9"/>
<line x1="455.1" y1="574.3" x2="455.1" y2="577.3" stroke="#000" stroke-width="0.9"/>
<line x1="456.9" y1="574.3" x2="456.9" y2="577.3" stroke="#000" stroke-width="0.9"/>
<line x1="458.5" y1="574.3" x2="458.5" y2="577.3" stroke="#000" stroke-width="0.9"/>
<line x1="459.9" y1="574.3" x2="459.9" y2="577.3" stroke="#000" stroke-width="0.9"/>
<line x1="461.1" y1="574.3" x2="461.1" y2="579.1" stroke="#000" stroke-width="0.9"/>
<line x1="469.3" y1="574.3" x2="469.3" y2="577.3" stroke="#000" stroke-width="0.9"/>
<line x1="474.1" y1="574.3" x2="474.1" y2="577.3" stroke="#000" stroke-width="0.9"/>
<line x1="477.4" y1="574.3" x2="477.4" y2="577.3" stroke="#000" stroke-width="0.9"/>
<line x1="480.1" y1="574.3" x2="480.1" y2="577.3" stroke="#000" stroke-width="0.9"/>
<line x1="482.2" y1="574.3" x2="482.2" y2="577.3" stroke="#000" stroke-width="0.9"/>
<line x1="484.0" y1="574.3" x2="484.0" y2="577.3" stroke="#000" stroke-width="0.9"/>
<line x1="485.6" y1="574.3" x2="485.6" y2="577.3" stroke="#000" stroke-width="0.9"/>
<line x1="487.0" y1="574.3" x2="487.0" y2="577.3" stroke="#000" stroke-width="0.9"/>
<line x1="488.2" y1="574.3" x2="488.2" y2="579.1" stroke="#000" stroke-width="0.9"/>
<line x1="496.4" y1="574.3" x2="496.4" y2="577.3" stroke="#000" stroke-width="0.9"/>
<line x1="501.2" y1="574.3" x2="501.2" y2="577.3" stroke="#000" stroke-width="0.9"/>
<line x1="504.6" y1="574.3" x2="504.6" y2="577.3" stroke="#000" stroke-width="0.9"/>
<line x1="507.2" y1="574.3" x2="507.2" y2="577.3" stroke="#000" stroke-width="0.9"/>
<line x1="509.4" y1="574.3" x2="509.4" y2="577.3" stroke="#000" stroke-width="0.9"/>
<line x1="511.2" y1="574.3" x2="511.2" y2="577.3" stroke="#000" stroke-width="0.9"/>
<line x1="512.8" y1="574.3" x2="512.8" y2="577.3" stroke="#000" stroke-width="0.9"/>
<line x1="514.2" y1="574.3" x2="514.2" y2="577.3" stroke="#000" stroke-width="0.9"/>
<line x1="515.4" y1="574.3" x2="515.4" y2="579.1" stroke="#000" stroke-width="0.9"/>
<line x1="406.8" y1="478.1" x2="515.4" y2="478.1" stroke="#111" stroke-width="1.3"/>
<line x1="515.4" y1="478.1" x2="515.4" y2="574.3" stroke="#111" stroke-width="1.3"/>
<line x1="406.8" y1="574.3" x2="515.4" y2="574.3" stroke="#000" stroke-width="1.4"/>
<line x1="406.8" y1="478.1" x2="406.8" y2="574.3" stroke="#444" stroke-width="1.0" stroke-dasharray="1,1"/>
<line x1="23" y1="589.5" x2="60.4" y2="589.5" stroke="#000" stroke-width="1.6"/>
<line x1="87.6" y1="589.5" x2="111.2" y2="589.5" stroke="#000" stroke-width="1.6"/><polygon points="118.0,589.5 109.0,592.4 111.2,589.5 109.0,586.6" fill="#000"/>
<text transform="translate(67.42,594.80) scale(1.13,1)" font-size="15">α</text>
<text x="77.20" y="598.20" font-size="10">4</text>
<line x1="143.2" y1="590.5" x2="181.5" y2="590.5" stroke="#000" stroke-width="1.6"/>
<line x1="206.9" y1="590.5" x2="230.8" y2="590.5" stroke="#000" stroke-width="1.6"/><polygon points="237.5,590.5 228.5,593.4 230.8,590.5 228.5,587.6" fill="#000"/>
<text transform="translate(187.22,595.50) scale(1.13,1)" font-size="15">α</text>
<text x="196.80" y="598.50" font-size="10">5</text>
<line x1="293" y1="591.2" x2="329.3" y2="591.2" stroke="#000" stroke-width="1.6"/>
<line x1="356.9" y1="591.2" x2="380.9" y2="591.2" stroke="#000" stroke-width="1.6"/><polygon points="387.6,591.2 378.6,594.1 380.9,591.2 378.6,588.3" fill="#000"/>
<text transform="translate(334.42,594.50) scale(1.13,1)" font-size="15">α</text>
<text x="344.20" y="597.90" font-size="10">4</text>
<line x1="412.3" y1="590.5" x2="448.7" y2="590.5" stroke="#000" stroke-width="1.6"/>
<line x1="476.2" y1="590.5" x2="500.2" y2="590.5" stroke="#000" stroke-width="1.6"/><polygon points="507.0,590.5 498.0,593.4 500.2,590.5 498.0,587.6" fill="#000"/>
<text transform="translate(456.72,594.50) scale(1.13,1)" font-size="15">α</text>
<text x="466.80" y="598.20" font-size="10">5</text>
<text x="71.52" y="40.33" font-size="12.5">β</text><text x="78.40" y="42.90" font-size="9">1</text><text x="83.10" y="36.70" font-size="8.4" font-weight="bold">Δ/Δ</text>
<line x1="67.3" y1="31.7" x2="56.8" y2="33.8" stroke="#000" stroke-width="1.9"/><polygon points="50.5,35.0 58.2,30.3 56.8,33.8 59.4,36.4" fill="#000"/>
<text x="87.42" y="61.83" font-size="12.5">β</text><text x="94.30" y="64.40" font-size="9">1</text><text x="99.00" y="59.20" font-size="8.4" font-weight="bold">+/+</text>
<line x1="84.2" y1="58.8" x2="76.0" y2="65.0" stroke="#000" stroke-width="1.9"/><polygon points="70.9,68.9 75.8,61.3 76.0,65.0 79.5,66.2" fill="#000"/>
<text x="170.73" y="43.23" font-size="12.5">β</text><text x="177.60" y="45.80" font-size="9">1</text><text x="182.30" y="39.60" font-size="8.4" font-weight="bold">Δ/Δ</text>
<line x1="167.8" y1="37.0" x2="155.5" y2="38.8" stroke="#000" stroke-width="1.9"/><polygon points="149.2,39.7 157.2,35.4 155.5,38.8 158.1,41.5" fill="#000"/>
<text x="173.93" y="66.23" font-size="12.5">β</text><text x="180.80" y="68.80" font-size="9">1</text><text x="185.50" y="63.60" font-size="8.4" font-weight="bold">+/+</text>
<line x1="181.0" y1="69.8" x2="174.5" y2="77.4" stroke="#000" stroke-width="1.9"/><polygon points="170.4,82.2 173.6,73.7 174.5,77.4 178.3,77.8" fill="#000"/>
<text x="246.83" y="36.62" font-size="12.5">β</text><text x="253.70" y="39.20" font-size="9">1</text><text x="258.40" y="33.00" font-size="8.4" font-weight="bold">Δ/Δ</text>
<line x1="254.8" y1="41.0" x2="254.8" y2="51.0" stroke="#000" stroke-width="1.9"/><polygon points="254.8,57.4 251.7,48.9 254.8,51.0 257.9,48.9" fill="#000"/>
<text x="283.62" y="48.53" font-size="12.5">β</text><text x="290.50" y="51.10" font-size="9">1</text><text x="295.20" y="45.90" font-size="8.4" font-weight="bold">+/+</text>
<line x1="299.3" y1="49.4" x2="293.8" y2="58.2" stroke="#000" stroke-width="1.9"/><polygon points="290.4,63.6 292.3,54.8 293.8,58.2 297.5,58.0" fill="#000"/>
<text x="351.43" y="44.12" font-size="12.5">β</text><text x="358.30" y="46.70" font-size="9">1</text><text x="363.00" y="41.50" font-size="8.4" font-weight="bold">+/+</text>
<line x1="346.7" y1="40.6" x2="338.6" y2="46.5" stroke="#000" stroke-width="1.9"/><polygon points="333.5,50.3 338.5,42.8 338.6,46.5 342.2,47.8" fill="#000"/>
<text x="377.12" y="48.53" font-size="12.5">β</text><text x="384.00" y="51.10" font-size="9">1</text><text x="388.70" y="44.90" font-size="8.4" font-weight="bold">Δ/Δ</text>
<line x1="376.8" y1="52.1" x2="368.7" y2="58.0" stroke="#000" stroke-width="1.9"/><polygon points="363.5,61.8 368.5,54.3 368.7,58.0 372.2,59.3" fill="#000"/>
<text x="456.53" y="39.62" font-size="12.5">β</text><text x="463.40" y="42.20" font-size="9">1</text><text x="468.10" y="36.00" font-size="8.4" font-weight="bold">Δ/Δ</text>
<line x1="453.6" y1="32.6" x2="445.6" y2="34.4" stroke="#000" stroke-width="1.9"/><polygon points="439.4,35.8 447.0,30.9 445.6,34.4 448.4,37.0" fill="#000"/>
<text x="470.73" y="57.03" font-size="12.5">β</text><text x="477.60" y="59.60" font-size="9">1</text><text x="482.30" y="54.40" font-size="8.4" font-weight="bold">+/+</text>
<line x1="466.8" y1="53.0" x2="461.2" y2="59.6" stroke="#000" stroke-width="1.9"/><polygon points="457.1,64.5 460.2,56.0 461.2,59.6 464.9,60.0" fill="#000"/>
<text x="87.12" y="170.52" font-size="12.5">β</text><text x="94.00" y="173.10" font-size="9">1</text><text x="98.70" y="166.90" font-size="8.4" font-weight="bold">Δ/Δ</text>
<line x1="84.2" y1="168.8" x2="74.5" y2="170.6" stroke="#000" stroke-width="1.9"/><polygon points="68.2,171.8 76.0,167.2 74.5,170.6 77.1,173.3" fill="#000"/>
<text x="88.52" y="190.92" font-size="12.5">β</text><text x="95.40" y="193.50" font-size="9">1</text><text x="100.10" y="188.30" font-size="8.4" font-weight="bold">+/+</text>
<line x1="101.8" y1="192.3" x2="96.0" y2="200.0" stroke="#000" stroke-width="1.9"/><polygon points="92.1,205.1 94.8,196.5 96.0,200.0 99.7,200.2" fill="#000"/>
<text x="169.53" y="170.22" font-size="12.5">β</text><text x="176.40" y="172.80" font-size="9">1</text><text x="181.10" y="166.60" font-size="8.4" font-weight="bold">Δ/Δ</text>
<line x1="164.8" y1="163.3" x2="160.9" y2="170.5" stroke="#000" stroke-width="1.9"/><polygon points="157.9,176.1 159.2,167.1 160.9,170.5 164.7,170.1" fill="#000"/>
<text x="184.62" y="187.22" font-size="12.5">β</text><text x="191.50" y="189.80" font-size="9">1</text><text x="196.20" y="184.60" font-size="8.4" font-weight="bold">+/+</text>
<line x1="179.5" y1="182.2" x2="174.7" y2="189.1" stroke="#000" stroke-width="1.9"/><polygon points="171.1,194.4 173.4,185.6 174.7,189.1 178.5,189.2" fill="#000"/>
<text x="60.66" y="496.06" font-size="12">β</text><text x="68.00" y="498.54" font-size="8.5">1</text><text x="73.10" y="492.59" font-size="7.5" font-weight="bold">Δ/Δ</text>
<text x="22.82" y="518" font-size="12">α</text><text x="30.6" y="520.4" font-size="8">4</text><text x="35.2" y="513.9" font-size="7.5" font-weight="bold">Δ/Δ</text>
<text x="99.4" y="508.6" font-size="12" font-weight="bold">ctrl</text>
<text x="141.96" y="498.86" font-size="12">β</text><text x="149.30" y="501.34" font-size="8.5">1</text><text x="154.40" y="495.39" font-size="7.5" font-weight="bold">Δ/Δ</text>
<line x1="150.4" y1="504.9" x2="156.0" y2="517.4" stroke="#000" stroke-width="1.8"/><polygon points="158.4,522.9 152.6,516.7 156.0,517.4 157.7,514.5" fill="#000"/>
<text x="220.12" y="497.2" font-size="12">α</text><text x="227.9" y="498.6" font-size="8">4</text><text x="232.3" y="494.1" font-size="7.5" font-weight="bold">Δ/Δ</text>
<line x1="214.1" y1="491.6" x2="202.1" y2="490.3" stroke="#000" stroke-width="1.8"/><polygon points="196.1,489.7 204.3,487.8 202.1,490.3 203.8,493.3" fill="#000"/>
<text x="228.4" y="532" font-size="12" font-weight="bold">ctrl</text>
<line x1="233.4" y1="536.1" x2="228.7" y2="546.3" stroke="#000" stroke-width="1.8"/><polygon points="226.2,551.7 227.0,543.3 228.7,546.3 232.1,545.6" fill="#000"/>
</svg>
</body></html>
